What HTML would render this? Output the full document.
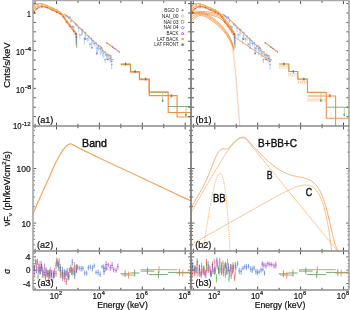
<!DOCTYPE html>
<html><head><meta charset="utf-8"><style>
html,body{margin:0;padding:0;background:#fff;}
svg{display:block;will-change:transform;}
text{font-family:"Liberation Sans", sans-serif;}
</style></head><body>
<svg width="350" height="310" viewBox="0 0 350 310">
<rect width="350" height="310" fill="#fff"/>
<g font-family="Liberation Sans, sans-serif" fill="#111">
<polyline points="33.50,5.40 33.90,5.17 34.47,4.84 35.18,4.49 36.00,4.20 36.96,3.93 38.06,3.67 39.26,3.49 40.50,3.50 41.82,3.75 43.22,4.17 44.64,4.69 46.00,5.20 47.29,5.69 48.53,6.22 49.76,6.76 51.00,7.30 52.30,7.85 53.62,8.43 54.89,8.98 56.00,9.50 56.88,9.93 57.60,10.30 58.27,10.70 59.00,11.20 59.82,11.81 60.68,12.49 61.55,13.28 62.40,14.20 63.23,15.32 64.05,16.61 64.87,17.94 65.70,19.20 66.54,20.36 67.39,21.48 68.25,22.59 69.10,23.70 69.94,24.81 70.77,25.91 71.61,27.03 72.50,28.20 73.53,29.55 74.66,31.03 75.69,32.37 76.40,33.30" fill="none" stroke="#a8c050" stroke-width="0.8" stroke-opacity="0.9"/>
<polyline points="33.50,6.24 33.90,5.98 34.47,5.60 35.18,5.20 36.00,4.85 36.96,4.53 38.06,4.20 39.26,3.97 40.50,3.92 41.82,4.12 43.22,4.50 44.64,4.98 46.00,5.46 47.29,5.95 48.53,6.47 49.76,7.02 51.00,7.56 52.30,8.12 53.62,8.70 54.89,9.26 56.00,9.78 56.88,10.20 57.60,10.57 58.27,10.96 59.00,11.45 59.82,12.05 60.68,12.71 61.55,13.48 62.40,14.39 63.23,15.51 64.05,16.79 64.87,18.13 65.70,19.39 66.54,20.55 67.39,21.67 68.25,22.78 69.10,23.89 69.94,25.00 70.77,26.10 71.61,27.22 72.50,28.39 73.53,29.75 74.66,31.23 75.69,32.57 76.40,33.50" fill="none" stroke="#f2b040" stroke-width="0.8" stroke-opacity="0.9"/>
<polyline points="33.50,9.25 33.90,8.87 34.47,8.32 35.18,7.72 36.00,7.17 36.96,6.65 38.06,6.10 39.26,5.66 40.50,5.42 41.82,5.45 43.22,5.68 44.64,6.02 46.00,6.41 47.29,6.85 48.53,7.38 49.76,7.95 51.00,8.51 52.30,9.08 53.62,9.67 54.89,10.24 56.00,10.77 56.88,11.18 57.60,11.53 58.27,11.89 59.00,12.36 59.82,12.90 60.68,13.50 61.55,14.21 62.40,15.08 63.23,16.18 64.05,17.47 64.87,18.81 65.70,20.08 66.54,21.24 67.39,22.36 68.25,23.47 69.10,24.58 69.94,25.69 70.77,26.79 71.61,27.91 72.50,29.08 73.53,30.44 74.66,31.94 75.69,33.29 76.40,34.23" fill="none" stroke="#f8a55e" stroke-width="0.8" stroke-opacity="0.85"/>
<polyline points="33.50,11.35 33.90,10.88 34.47,10.21 35.18,9.47 36.00,8.79 36.96,8.13 38.06,7.43 39.26,6.84 40.50,6.47 41.82,6.38 43.22,6.49 44.64,6.75 46.00,7.07 47.29,7.49 48.53,8.01 49.76,8.60 51.00,9.17 52.30,9.75 53.62,10.35 54.89,10.93 56.00,11.46 56.88,11.87 57.60,12.20 58.27,12.55 59.00,12.99 59.82,13.50 60.68,14.06 61.55,14.72 62.40,15.56 63.23,16.65 64.05,17.94 64.87,19.29 65.70,20.56 66.54,21.72 67.39,22.84 68.25,23.95 69.10,25.06 69.94,26.17 70.77,27.27 71.61,28.39 72.50,29.56 73.53,30.93 74.66,32.43 75.69,33.80 76.40,34.74" fill="none" stroke="#f27a3a" stroke-width="0.8" stroke-opacity="0.9"/>
<polyline points="33.50,12.40 33.90,11.89 34.47,11.16 35.18,10.35 36.00,9.60 36.96,8.86 38.06,8.10 39.26,7.43 40.50,7.00 41.82,6.85 43.22,6.90 44.64,7.11 46.00,7.40 47.29,7.80 48.53,8.33 49.76,8.92 51.00,9.50 52.30,10.08 53.62,10.69 54.89,11.28 56.00,11.80 56.88,12.21 57.60,12.54 58.27,12.87 59.00,13.30 59.82,13.80 60.68,14.33 61.55,14.98 62.40,15.80 63.23,16.89 64.05,18.18 64.87,19.53 65.70,20.80 66.54,21.96 67.39,23.08 68.25,24.19 69.10,25.30 69.94,26.41 70.77,27.51 71.61,28.63 72.50,29.80 73.53,31.17 74.66,32.68 75.69,34.05 76.40,35.00" fill="none" stroke="#ee5a30" stroke-width="0.8" stroke-opacity="0.9"/>
<circle cx="33.50" cy="7.23" r="0.8" fill="none" stroke="#f29a9a" stroke-width="0.5"/>
<circle cx="35.18" cy="6.40" r="0.8" fill="none" stroke="#f29a9a" stroke-width="0.5"/>
<circle cx="38.06" cy="5.11" r="0.8" fill="none" stroke="#f29a9a" stroke-width="0.5"/>
<circle cx="41.82" cy="4.66" r="0.8" fill="none" stroke="#f29a9a" stroke-width="0.5"/>
<circle cx="46.00" cy="5.63" r="0.8" fill="none" stroke="#f29a9a" stroke-width="0.5"/>
<circle cx="49.76" cy="7.64" r="0.8" fill="none" stroke="#f29a9a" stroke-width="0.5"/>
<circle cx="53.62" cy="9.35" r="0.8" fill="none" stroke="#f29a9a" stroke-width="0.5"/>
<circle cx="56.88" cy="10.62" r="0.8" fill="none" stroke="#f29a9a" stroke-width="0.5"/>
<circle cx="59.00" cy="11.83" r="0.8" fill="none" stroke="#f29a9a" stroke-width="0.5"/>
<circle cx="61.55" cy="13.58" r="0.8" fill="none" stroke="#f29a9a" stroke-width="0.5"/>
<circle cx="64.05" cy="16.68" r="0.8" fill="none" stroke="#f29a9a" stroke-width="0.5"/>
<circle cx="66.54" cy="20.74" r="0.8" fill="none" stroke="#f29a9a" stroke-width="0.5"/>
<circle cx="69.10" cy="24.25" r="0.8" fill="none" stroke="#f29a9a" stroke-width="0.5"/>
<circle cx="71.61" cy="27.17" r="0.8" fill="none" stroke="#f29a9a" stroke-width="0.5"/>
<circle cx="74.66" cy="31.76" r="0.8" fill="none" stroke="#f29a9a" stroke-width="0.5"/>
<circle cx="33.50" cy="10.09" r="0.8" fill="none" stroke="#f0a040" stroke-width="0.5"/>
<circle cx="35.18" cy="8.38" r="0.8" fill="none" stroke="#f0a040" stroke-width="0.5"/>
<circle cx="38.06" cy="6.40" r="0.8" fill="none" stroke="#f0a040" stroke-width="0.5"/>
<circle cx="41.82" cy="6.31" r="0.8" fill="none" stroke="#f0a040" stroke-width="0.5"/>
<circle cx="46.00" cy="6.93" r="0.8" fill="none" stroke="#f0a040" stroke-width="0.5"/>
<circle cx="49.76" cy="8.57" r="0.8" fill="none" stroke="#f0a040" stroke-width="0.5"/>
<circle cx="53.62" cy="10.10" r="0.8" fill="none" stroke="#f0a040" stroke-width="0.5"/>
<circle cx="56.88" cy="11.15" r="0.8" fill="none" stroke="#f0a040" stroke-width="0.5"/>
<circle cx="59.00" cy="12.53" r="0.8" fill="none" stroke="#f0a040" stroke-width="0.5"/>
<circle cx="61.55" cy="14.46" r="0.8" fill="none" stroke="#f0a040" stroke-width="0.5"/>
<circle cx="64.05" cy="17.40" r="0.8" fill="none" stroke="#f0a040" stroke-width="0.5"/>
<circle cx="66.54" cy="21.84" r="0.8" fill="none" stroke="#f0a040" stroke-width="0.5"/>
<circle cx="69.10" cy="24.71" r="0.8" fill="none" stroke="#f0a040" stroke-width="0.5"/>
<circle cx="71.61" cy="27.87" r="0.8" fill="none" stroke="#f0a040" stroke-width="0.5"/>
<circle cx="74.66" cy="32.44" r="0.8" fill="none" stroke="#f0a040" stroke-width="0.5"/>
<circle cx="33.90" cy="5.17" r="0.7" fill="#f2b040"/>
<circle cx="36.96" cy="3.93" r="0.7" fill="#f2b040"/>
<circle cx="41.82" cy="3.75" r="0.7" fill="#f2b040"/>
<circle cx="47.29" cy="5.69" r="0.7" fill="#f2b040"/>
<circle cx="52.30" cy="7.85" r="0.7" fill="#f2b040"/>
<circle cx="56.88" cy="9.93" r="0.7" fill="#f2b040"/>
<circle cx="59.82" cy="11.81" r="0.7" fill="#f2b040"/>
<circle cx="63.23" cy="15.32" r="0.7" fill="#f2b040"/>
<circle cx="66.54" cy="20.36" r="0.7" fill="#f2b040"/>
<circle cx="69.94" cy="24.81" r="0.7" fill="#f2b040"/>
<circle cx="73.53" cy="29.55" r="0.7" fill="#f2b040"/>
<circle cx="33.90" cy="11.89" r="0.7" fill="#e8452c"/>
<circle cx="36.96" cy="8.86" r="0.7" fill="#e8452c"/>
<circle cx="41.82" cy="6.85" r="0.7" fill="#e8452c"/>
<circle cx="47.29" cy="7.80" r="0.7" fill="#e8452c"/>
<circle cx="52.30" cy="10.08" r="0.7" fill="#e8452c"/>
<circle cx="56.88" cy="12.21" r="0.7" fill="#e8452c"/>
<circle cx="59.82" cy="13.80" r="0.7" fill="#e8452c"/>
<circle cx="63.23" cy="16.89" r="0.7" fill="#e8452c"/>
<circle cx="66.54" cy="21.96" r="0.7" fill="#e8452c"/>
<circle cx="69.94" cy="26.41" r="0.7" fill="#e8452c"/>
<circle cx="73.53" cy="31.17" r="0.7" fill="#e8452c"/>
<circle cx="33.9" cy="12.4" r="1.2" fill="#e8452c"/>
<line x1="76.70" y1="33.50" x2="76.70" y2="47.70" stroke="#7cb342" stroke-width="1.0"/>
<line x1="76.10" y1="33.50" x2="76.10" y2="44.50" stroke="#7a86dc" stroke-width="0.9"/>
<circle cx="76.3" cy="37.2" r="0.9" fill="#4f7fd4"/>
<circle cx="75.8" cy="34" r="1.1" fill="#e8452c"/>
<polyline points="63.50,13.90 66.50,15.60 69.70,17.90 79.30,27.40 89.00,37.10 97.00,44.50 99.00,45.90 100.20,45.90 100.20,48.40 102.00,48.40 102.00,50.50 104.50,51.80 105.80,51.80 105.80,55.30 110.60,55.30 110.60,59.60 113.70,59.60" fill="none" stroke="#f8a55e" stroke-width="1.2"/>
<line x1="66.00" y1="14.27" x2="66.00" y2="17.86" stroke="#aac4ec" stroke-width="0.8"/>
<line x1="65.10" y1="15.47" x2="66.90" y2="15.47" stroke="#9ab8e8" stroke-width="0.7"/>
<circle cx="66.00" cy="15.47" r="0.55" fill="#6f98dc"/>
<line x1="67.37" y1="15.35" x2="67.37" y2="17.83" stroke="#aac4ec" stroke-width="0.8"/>
<line x1="66.47" y1="16.55" x2="68.27" y2="16.55" stroke="#9ab8e8" stroke-width="0.7"/>
<circle cx="67.37" cy="16.55" r="0.55" fill="#6f98dc"/>
<line x1="68.78" y1="16.73" x2="68.78" y2="19.07" stroke="#aac4ec" stroke-width="0.8"/>
<line x1="67.88" y1="17.93" x2="69.68" y2="17.93" stroke="#9ab8e8" stroke-width="0.7"/>
<circle cx="68.78" cy="17.93" r="0.55" fill="#6f98dc"/>
<line x1="70.02" y1="16.09" x2="70.02" y2="19.33" stroke="#aac4ec" stroke-width="0.8"/>
<line x1="69.12" y1="17.29" x2="70.92" y2="17.29" stroke="#9ab8e8" stroke-width="0.7"/>
<circle cx="70.02" cy="17.29" r="0.55" fill="#6f98dc"/>
<line x1="71.06" y1="19.79" x2="71.06" y2="22.97" stroke="#aac4ec" stroke-width="0.8"/>
<line x1="70.16" y1="20.99" x2="71.96" y2="20.99" stroke="#9ab8e8" stroke-width="0.7"/>
<circle cx="71.06" cy="20.99" r="0.55" fill="#6f98dc"/>
<line x1="72.55" y1="25.16" x2="72.55" y2="27.45" stroke="#aac4ec" stroke-width="0.8"/>
<line x1="71.65" y1="26.36" x2="73.45" y2="26.36" stroke="#9ab8e8" stroke-width="0.7"/>
<circle cx="72.55" cy="26.36" r="0.55" fill="#6f98dc"/>
<line x1="73.70" y1="25.98" x2="73.70" y2="28.84" stroke="#aac4ec" stroke-width="0.8"/>
<line x1="72.80" y1="27.18" x2="74.60" y2="27.18" stroke="#9ab8e8" stroke-width="0.7"/>
<circle cx="73.70" cy="27.18" r="0.55" fill="#6f98dc"/>
<line x1="75.38" y1="22.68" x2="75.38" y2="25.62" stroke="#aac4ec" stroke-width="0.8"/>
<line x1="74.48" y1="23.88" x2="76.28" y2="23.88" stroke="#9ab8e8" stroke-width="0.7"/>
<circle cx="75.38" cy="23.88" r="0.55" fill="#6f98dc"/>
<line x1="76.91" y1="24.00" x2="76.91" y2="27.70" stroke="#aac4ec" stroke-width="0.8"/>
<line x1="76.01" y1="25.20" x2="77.81" y2="25.20" stroke="#9ab8e8" stroke-width="0.7"/>
<circle cx="76.91" cy="25.20" r="0.55" fill="#6f98dc"/>
<line x1="78.70" y1="26.93" x2="78.70" y2="32.05" stroke="#aac4ec" stroke-width="0.8"/>
<line x1="77.80" y1="28.13" x2="79.60" y2="28.13" stroke="#9ab8e8" stroke-width="0.7"/>
<circle cx="78.70" cy="28.13" r="0.55" fill="#6f98dc"/>
<line x1="79.89" y1="33.62" x2="79.89" y2="39.12" stroke="#aac4ec" stroke-width="0.8"/>
<line x1="78.99" y1="34.82" x2="80.79" y2="34.82" stroke="#9ab8e8" stroke-width="0.7"/>
<circle cx="79.89" cy="34.82" r="0.55" fill="#6f98dc"/>
<line x1="81.56" y1="28.42" x2="81.56" y2="35.94" stroke="#aac4ec" stroke-width="0.8"/>
<line x1="80.66" y1="29.62" x2="82.46" y2="29.62" stroke="#9ab8e8" stroke-width="0.7"/>
<circle cx="81.56" cy="29.62" r="0.55" fill="#6f98dc"/>
<line x1="82.56" y1="28.89" x2="82.56" y2="34.71" stroke="#aac4ec" stroke-width="0.8"/>
<line x1="81.66" y1="30.09" x2="83.46" y2="30.09" stroke="#9ab8e8" stroke-width="0.7"/>
<circle cx="82.56" cy="30.09" r="0.55" fill="#6f98dc"/>
<line x1="84.35" y1="37.40" x2="84.35" y2="44.60" stroke="#aac4ec" stroke-width="0.8"/>
<line x1="83.45" y1="38.60" x2="85.25" y2="38.60" stroke="#9ab8e8" stroke-width="0.7"/>
<circle cx="84.35" cy="38.60" r="0.55" fill="#6f98dc"/>
<line x1="85.56" y1="31.53" x2="85.56" y2="39.56" stroke="#aac4ec" stroke-width="0.8"/>
<line x1="84.66" y1="32.73" x2="86.46" y2="32.73" stroke="#9ab8e8" stroke-width="0.7"/>
<circle cx="85.56" cy="32.73" r="0.55" fill="#6f98dc"/>
<line x1="87.17" y1="37.58" x2="87.17" y2="41.55" stroke="#aac4ec" stroke-width="0.8"/>
<line x1="86.27" y1="38.78" x2="88.07" y2="38.78" stroke="#9ab8e8" stroke-width="0.7"/>
<circle cx="87.17" cy="38.78" r="0.55" fill="#6f98dc"/>
<line x1="88.81" y1="35.04" x2="88.81" y2="40.76" stroke="#aac4ec" stroke-width="0.8"/>
<line x1="87.91" y1="36.24" x2="89.71" y2="36.24" stroke="#9ab8e8" stroke-width="0.7"/>
<circle cx="88.81" cy="36.24" r="0.55" fill="#6f98dc"/>
<line x1="89.96" y1="43.01" x2="89.96" y2="47.23" stroke="#aac4ec" stroke-width="0.8"/>
<line x1="89.06" y1="44.21" x2="90.86" y2="44.21" stroke="#9ab8e8" stroke-width="0.7"/>
<circle cx="89.96" cy="44.21" r="0.55" fill="#6f98dc"/>
<line x1="91.30" y1="37.46" x2="91.30" y2="45.53" stroke="#aac4ec" stroke-width="0.8"/>
<line x1="90.40" y1="38.66" x2="92.20" y2="38.66" stroke="#9ab8e8" stroke-width="0.7"/>
<circle cx="91.30" cy="38.66" r="0.55" fill="#6f98dc"/>
<line x1="92.94" y1="39.26" x2="92.94" y2="43.91" stroke="#aac4ec" stroke-width="0.8"/>
<line x1="92.04" y1="40.46" x2="93.84" y2="40.46" stroke="#9ab8e8" stroke-width="0.7"/>
<circle cx="92.94" cy="40.46" r="0.55" fill="#6f98dc"/>
<line x1="94.26" y1="42.13" x2="94.26" y2="46.28" stroke="#aac4ec" stroke-width="0.8"/>
<line x1="93.36" y1="43.33" x2="95.16" y2="43.33" stroke="#9ab8e8" stroke-width="0.7"/>
<circle cx="94.26" cy="43.33" r="0.55" fill="#6f98dc"/>
<line x1="96.05" y1="41.86" x2="96.05" y2="49.04" stroke="#aac4ec" stroke-width="0.8"/>
<line x1="95.15" y1="43.06" x2="96.95" y2="43.06" stroke="#9ab8e8" stroke-width="0.7"/>
<circle cx="96.05" cy="43.06" r="0.55" fill="#6f98dc"/>
<line x1="97.31" y1="46.97" x2="97.31" y2="53.29" stroke="#aac4ec" stroke-width="0.8"/>
<line x1="96.41" y1="48.17" x2="98.21" y2="48.17" stroke="#9ab8e8" stroke-width="0.7"/>
<circle cx="97.31" cy="48.17" r="0.55" fill="#6f98dc"/>
<line x1="98.51" y1="44.96" x2="98.51" y2="50.70" stroke="#aac4ec" stroke-width="0.8"/>
<line x1="97.61" y1="46.16" x2="99.41" y2="46.16" stroke="#9ab8e8" stroke-width="0.7"/>
<circle cx="98.51" cy="46.16" r="0.55" fill="#6f98dc"/>
<line x1="100.27" y1="47.45" x2="100.27" y2="55.05" stroke="#aac4ec" stroke-width="0.8"/>
<line x1="99.37" y1="48.65" x2="101.17" y2="48.65" stroke="#9ab8e8" stroke-width="0.7"/>
<circle cx="100.27" cy="48.65" r="0.55" fill="#6f98dc"/>
<line x1="101.42" y1="46.46" x2="101.42" y2="53.84" stroke="#aac4ec" stroke-width="0.8"/>
<line x1="100.52" y1="47.66" x2="102.32" y2="47.66" stroke="#9ab8e8" stroke-width="0.7"/>
<circle cx="101.42" cy="47.66" r="0.55" fill="#6f98dc"/>
<line x1="102.62" y1="48.99" x2="102.62" y2="56.92" stroke="#aac4ec" stroke-width="0.8"/>
<line x1="101.72" y1="50.19" x2="103.52" y2="50.19" stroke="#9ab8e8" stroke-width="0.7"/>
<circle cx="102.62" cy="50.19" r="0.55" fill="#6f98dc"/>
<line x1="103.78" y1="51.87" x2="103.78" y2="58.29" stroke="#aac4ec" stroke-width="0.8"/>
<line x1="102.88" y1="53.07" x2="104.68" y2="53.07" stroke="#9ab8e8" stroke-width="0.7"/>
<circle cx="103.78" cy="53.07" r="0.55" fill="#6f98dc"/>
<line x1="105.11" y1="58.41" x2="105.11" y2="63.19" stroke="#aac4ec" stroke-width="0.8"/>
<line x1="104.21" y1="59.61" x2="106.01" y2="59.61" stroke="#9ab8e8" stroke-width="0.7"/>
<circle cx="105.11" cy="59.61" r="0.55" fill="#6f98dc"/>
<line x1="106.68" y1="53.67" x2="106.68" y2="60.06" stroke="#aac4ec" stroke-width="0.8"/>
<line x1="105.78" y1="54.87" x2="107.58" y2="54.87" stroke="#9ab8e8" stroke-width="0.7"/>
<circle cx="106.68" cy="54.87" r="0.55" fill="#6f98dc"/>
<line x1="107.91" y1="53.43" x2="107.91" y2="57.44" stroke="#aac4ec" stroke-width="0.8"/>
<line x1="107.01" y1="54.63" x2="108.81" y2="54.63" stroke="#9ab8e8" stroke-width="0.7"/>
<circle cx="107.91" cy="54.63" r="0.55" fill="#6f98dc"/>
<line x1="109.09" y1="54.58" x2="109.09" y2="61.04" stroke="#aac4ec" stroke-width="0.8"/>
<line x1="108.19" y1="55.78" x2="109.99" y2="55.78" stroke="#9ab8e8" stroke-width="0.7"/>
<circle cx="109.09" cy="55.78" r="0.55" fill="#6f98dc"/>
<line x1="110.32" y1="57.18" x2="110.32" y2="62.09" stroke="#aac4ec" stroke-width="0.8"/>
<line x1="109.42" y1="58.38" x2="111.22" y2="58.38" stroke="#9ab8e8" stroke-width="0.7"/>
<circle cx="110.32" cy="58.38" r="0.55" fill="#6f98dc"/>
<line x1="111.67" y1="63.24" x2="111.67" y2="69.52" stroke="#aac4ec" stroke-width="0.8"/>
<line x1="110.77" y1="64.44" x2="112.57" y2="64.44" stroke="#9ab8e8" stroke-width="0.7"/>
<circle cx="111.67" cy="64.44" r="0.55" fill="#6f98dc"/>
<circle cx="85.10" cy="39.00" r="0.9" fill="#4f7fd4"/>
<line x1="85.10" y1="33.00" x2="85.10" y2="39.00" stroke="#a9c3ec" stroke-width="0.8"/>
<circle cx="91.90" cy="47.70" r="0.9" fill="#4f7fd4"/>
<line x1="91.90" y1="41.70" x2="91.90" y2="47.70" stroke="#a9c3ec" stroke-width="0.8"/>
<circle cx="96.80" cy="53.50" r="0.9" fill="#4f7fd4"/>
<line x1="96.80" y1="47.50" x2="96.80" y2="53.50" stroke="#a9c3ec" stroke-width="0.8"/>
<circle cx="107.80" cy="59.30" r="0.9" fill="#4f7fd4"/>
<line x1="107.80" y1="53.30" x2="107.80" y2="59.30" stroke="#a9c3ec" stroke-width="0.8"/>
<circle cx="111.60" cy="61.40" r="0.9" fill="#4f7fd4"/>
<line x1="111.60" y1="55.40" x2="111.60" y2="61.40" stroke="#a9c3ec" stroke-width="0.8"/>
<polyline points="106.40,42.40 112.00,46.50 119.70,52.20" fill="none" stroke="#f8a55e" stroke-width="1.3"/>
<circle cx="106.80" cy="42.89" r="0.6" fill="#a64cc8"/>
<circle cx="112.60" cy="47.13" r="0.6" fill="#a64cc8"/>
<circle cx="114.60" cy="48.59" r="0.6" fill="#a64cc8"/>
<circle cx="119.30" cy="52.02" r="0.6" fill="#a64cc8"/>
<polyline points="120.80,64.60 130.50,64.60 130.50,72.10 139.50,72.10 139.50,79.70 149.20,79.70 149.20,95.70 177.10,95.70 177.10,117.00 191.00,117.00" fill="none" stroke="#f39247" stroke-width="1.2"/>
<polyline points="120.80,64.00 130.50,64.00 130.50,71.50 139.50,71.50 139.50,79.10 149.20,79.10 149.20,92.10 168.20,92.10 168.20,112.50 191.00,112.50" fill="none" stroke="#f39247" stroke-width="1.2"/>
<polyline points="120.80,64.00 130.50,64.00 130.50,71.50 139.50,71.50 139.50,79.10 149.20,79.10" fill="none" stroke="#8fae58" stroke-width="0.6" stroke-opacity="0.8"/>
<polyline points="168.20,106.50 191.00,106.50" fill="none" stroke="#6aa86a" stroke-width="0.85"/>
<line x1="149.20" y1="92.10" x2="168.20" y2="92.10" stroke="#b59a4a" stroke-width="0.8"/>
<rect x="124.80" y="63.30" width="1.4" height="1.4" fill="#3a8a45"/>
<line x1="125.50" y1="62.40" x2="125.50" y2="65.60" stroke="#3a8a45" stroke-width="0.7"/>
<rect x="134.30" y="70.80" width="1.4" height="1.4" fill="#3a8a45"/>
<line x1="135.00" y1="69.90" x2="135.00" y2="73.10" stroke="#3a8a45" stroke-width="0.7"/>
<rect x="144.90" y="78.40" width="1.4" height="1.4" fill="#3a8a45"/>
<line x1="145.60" y1="77.50" x2="145.60" y2="80.70" stroke="#3a8a45" stroke-width="0.7"/>
<rect x="161.90" y="99.90" width="1.4" height="1.4" fill="#3a8a45"/>
<line x1="162.60" y1="99.00" x2="162.60" y2="102.20" stroke="#3a8a45" stroke-width="0.7"/>
<rect x="185.30" y="114.00" width="1.4" height="1.4" fill="#3a8a45"/>
<line x1="186.00" y1="113.10" x2="186.00" y2="116.30" stroke="#3a8a45" stroke-width="0.7"/>
<path d="M170.50,94.70l2,2M172.50,94.70l-2,2" stroke="#e0602a" stroke-width="0.8"/>
<line x1="162.60" y1="92.50" x2="162.60" y2="100.60" stroke="#9fc89f" stroke-width="0.8"/>
<line x1="171.50" y1="94.00" x2="171.50" y2="97.50" stroke="#e0602a" stroke-width="0.7"/>
<line x1="186.00" y1="107.00" x2="186.00" y2="115.00" stroke="#9fc89f" stroke-width="0.8"/>
<line x1="33.80" y1="264.52" x2="33.80" y2="270.90" stroke="#e04848" stroke-width="0.8" stroke-opacity="0.9"/>
<line x1="33.20" y1="267.71" x2="34.40" y2="267.71" stroke="#e04848" stroke-width="0.8" stroke-opacity="0.9"/>
<line x1="35.96" y1="259.78" x2="35.96" y2="266.98" stroke="#e04848" stroke-width="0.8" stroke-opacity="0.9"/>
<line x1="35.36" y1="263.38" x2="36.56" y2="263.38" stroke="#e04848" stroke-width="0.8" stroke-opacity="0.9"/>
<line x1="37.54" y1="258.83" x2="37.54" y2="264.86" stroke="#e04848" stroke-width="0.8" stroke-opacity="0.9"/>
<line x1="36.94" y1="261.85" x2="38.14" y2="261.85" stroke="#e04848" stroke-width="0.8" stroke-opacity="0.9"/>
<line x1="39.29" y1="264.19" x2="39.29" y2="272.58" stroke="#e04848" stroke-width="0.8" stroke-opacity="0.9"/>
<line x1="38.69" y1="268.38" x2="39.89" y2="268.38" stroke="#e04848" stroke-width="0.8" stroke-opacity="0.9"/>
<line x1="41.31" y1="264.38" x2="41.31" y2="271.63" stroke="#e04848" stroke-width="0.8" stroke-opacity="0.9"/>
<line x1="40.71" y1="268.01" x2="41.91" y2="268.01" stroke="#e04848" stroke-width="0.8" stroke-opacity="0.9"/>
<line x1="42.98" y1="270.56" x2="42.98" y2="277.79" stroke="#e04848" stroke-width="0.8" stroke-opacity="0.9"/>
<line x1="42.38" y1="274.18" x2="43.58" y2="274.18" stroke="#e04848" stroke-width="0.8" stroke-opacity="0.9"/>
<line x1="45.43" y1="273.87" x2="45.43" y2="281.22" stroke="#e04848" stroke-width="0.8" stroke-opacity="0.9"/>
<line x1="44.83" y1="277.55" x2="46.03" y2="277.55" stroke="#e04848" stroke-width="0.8" stroke-opacity="0.9"/>
<line x1="47.00" y1="269.76" x2="47.00" y2="277.39" stroke="#e04848" stroke-width="0.8" stroke-opacity="0.9"/>
<line x1="46.40" y1="273.58" x2="47.60" y2="273.58" stroke="#e04848" stroke-width="0.8" stroke-opacity="0.9"/>
<line x1="49.15" y1="269.86" x2="49.15" y2="277.83" stroke="#e04848" stroke-width="0.8" stroke-opacity="0.9"/>
<line x1="48.55" y1="273.85" x2="49.75" y2="273.85" stroke="#e04848" stroke-width="0.8" stroke-opacity="0.9"/>
<line x1="51.17" y1="269.71" x2="51.17" y2="277.21" stroke="#e04848" stroke-width="0.8" stroke-opacity="0.9"/>
<line x1="50.57" y1="273.46" x2="51.77" y2="273.46" stroke="#e04848" stroke-width="0.8" stroke-opacity="0.9"/>
<line x1="53.64" y1="271.45" x2="53.64" y2="277.91" stroke="#e04848" stroke-width="0.8" stroke-opacity="0.9"/>
<line x1="53.04" y1="274.68" x2="54.24" y2="274.68" stroke="#e04848" stroke-width="0.8" stroke-opacity="0.9"/>
<line x1="56.02" y1="270.13" x2="56.02" y2="276.75" stroke="#e04848" stroke-width="0.8" stroke-opacity="0.9"/>
<line x1="55.42" y1="273.44" x2="56.62" y2="273.44" stroke="#e04848" stroke-width="0.8" stroke-opacity="0.9"/>
<line x1="58.55" y1="261.40" x2="58.55" y2="267.04" stroke="#e04848" stroke-width="0.8" stroke-opacity="0.9"/>
<line x1="57.95" y1="264.22" x2="59.15" y2="264.22" stroke="#e04848" stroke-width="0.8" stroke-opacity="0.9"/>
<line x1="60.29" y1="265.97" x2="60.29" y2="274.26" stroke="#e04848" stroke-width="0.8" stroke-opacity="0.9"/>
<line x1="59.69" y1="270.12" x2="60.89" y2="270.12" stroke="#e04848" stroke-width="0.8" stroke-opacity="0.9"/>
<line x1="62.27" y1="271.39" x2="62.27" y2="278.21" stroke="#e04848" stroke-width="0.8" stroke-opacity="0.9"/>
<line x1="61.67" y1="274.80" x2="62.87" y2="274.80" stroke="#e04848" stroke-width="0.8" stroke-opacity="0.9"/>
<line x1="64.19" y1="273.58" x2="64.19" y2="279.90" stroke="#e04848" stroke-width="0.8" stroke-opacity="0.9"/>
<line x1="63.59" y1="276.74" x2="64.79" y2="276.74" stroke="#e04848" stroke-width="0.8" stroke-opacity="0.9"/>
<line x1="66.34" y1="277.69" x2="66.34" y2="285.07" stroke="#e04848" stroke-width="0.8" stroke-opacity="0.9"/>
<line x1="65.74" y1="281.38" x2="66.94" y2="281.38" stroke="#e04848" stroke-width="0.8" stroke-opacity="0.9"/>
<line x1="68.86" y1="272.03" x2="68.86" y2="279.97" stroke="#e04848" stroke-width="0.8" stroke-opacity="0.9"/>
<line x1="68.26" y1="276.00" x2="69.46" y2="276.00" stroke="#e04848" stroke-width="0.8" stroke-opacity="0.9"/>
<line x1="71.45" y1="266.99" x2="71.45" y2="274.94" stroke="#e04848" stroke-width="0.8" stroke-opacity="0.9"/>
<line x1="70.85" y1="270.97" x2="72.05" y2="270.97" stroke="#e04848" stroke-width="0.8" stroke-opacity="0.9"/>
<line x1="74.01" y1="266.34" x2="74.01" y2="274.44" stroke="#e04848" stroke-width="0.8" stroke-opacity="0.9"/>
<line x1="73.41" y1="270.39" x2="74.61" y2="270.39" stroke="#e04848" stroke-width="0.8" stroke-opacity="0.9"/>
<line x1="76.14" y1="265.36" x2="76.14" y2="273.22" stroke="#e04848" stroke-width="0.8" stroke-opacity="0.9"/>
<line x1="75.54" y1="269.29" x2="76.74" y2="269.29" stroke="#e04848" stroke-width="0.8" stroke-opacity="0.9"/>
<line x1="34.10" y1="267.14" x2="34.10" y2="273.25" stroke="#4cb040" stroke-width="0.8" stroke-opacity="0.9"/>
<line x1="33.50" y1="270.19" x2="34.70" y2="270.19" stroke="#4cb040" stroke-width="0.8" stroke-opacity="0.9"/>
<line x1="35.67" y1="258.74" x2="35.67" y2="264.22" stroke="#4cb040" stroke-width="0.8" stroke-opacity="0.9"/>
<line x1="35.07" y1="261.48" x2="36.27" y2="261.48" stroke="#4cb040" stroke-width="0.8" stroke-opacity="0.9"/>
<line x1="38.05" y1="273.14" x2="38.05" y2="279.66" stroke="#4cb040" stroke-width="0.8" stroke-opacity="0.9"/>
<line x1="37.45" y1="276.40" x2="38.65" y2="276.40" stroke="#4cb040" stroke-width="0.8" stroke-opacity="0.9"/>
<line x1="39.72" y1="266.64" x2="39.72" y2="274.63" stroke="#4cb040" stroke-width="0.8" stroke-opacity="0.9"/>
<line x1="39.12" y1="270.63" x2="40.32" y2="270.63" stroke="#4cb040" stroke-width="0.8" stroke-opacity="0.9"/>
<line x1="41.26" y1="260.87" x2="41.26" y2="268.04" stroke="#4cb040" stroke-width="0.8" stroke-opacity="0.9"/>
<line x1="40.66" y1="264.45" x2="41.86" y2="264.45" stroke="#4cb040" stroke-width="0.8" stroke-opacity="0.9"/>
<line x1="42.81" y1="267.42" x2="42.81" y2="275.44" stroke="#4cb040" stroke-width="0.8" stroke-opacity="0.9"/>
<line x1="42.21" y1="271.43" x2="43.41" y2="271.43" stroke="#4cb040" stroke-width="0.8" stroke-opacity="0.9"/>
<line x1="45.39" y1="271.63" x2="45.39" y2="278.45" stroke="#4cb040" stroke-width="0.8" stroke-opacity="0.9"/>
<line x1="44.79" y1="275.04" x2="45.99" y2="275.04" stroke="#4cb040" stroke-width="0.8" stroke-opacity="0.9"/>
<line x1="47.99" y1="270.12" x2="47.99" y2="277.24" stroke="#4cb040" stroke-width="0.8" stroke-opacity="0.9"/>
<line x1="47.39" y1="273.68" x2="48.59" y2="273.68" stroke="#4cb040" stroke-width="0.8" stroke-opacity="0.9"/>
<line x1="49.53" y1="269.55" x2="49.53" y2="275.38" stroke="#4cb040" stroke-width="0.8" stroke-opacity="0.9"/>
<line x1="48.93" y1="272.46" x2="50.13" y2="272.46" stroke="#4cb040" stroke-width="0.8" stroke-opacity="0.9"/>
<line x1="51.47" y1="273.18" x2="51.47" y2="278.51" stroke="#4cb040" stroke-width="0.8" stroke-opacity="0.9"/>
<line x1="50.87" y1="275.85" x2="52.07" y2="275.85" stroke="#4cb040" stroke-width="0.8" stroke-opacity="0.9"/>
<line x1="53.93" y1="270.87" x2="53.93" y2="277.07" stroke="#4cb040" stroke-width="0.8" stroke-opacity="0.9"/>
<line x1="53.33" y1="273.97" x2="54.53" y2="273.97" stroke="#4cb040" stroke-width="0.8" stroke-opacity="0.9"/>
<line x1="56.48" y1="258.35" x2="56.48" y2="265.02" stroke="#4cb040" stroke-width="0.8" stroke-opacity="0.9"/>
<line x1="55.88" y1="261.69" x2="57.08" y2="261.69" stroke="#4cb040" stroke-width="0.8" stroke-opacity="0.9"/>
<line x1="58.56" y1="263.66" x2="58.56" y2="270.92" stroke="#4cb040" stroke-width="0.8" stroke-opacity="0.9"/>
<line x1="57.96" y1="267.29" x2="59.16" y2="267.29" stroke="#4cb040" stroke-width="0.8" stroke-opacity="0.9"/>
<line x1="60.71" y1="270.14" x2="60.71" y2="278.35" stroke="#4cb040" stroke-width="0.8" stroke-opacity="0.9"/>
<line x1="60.11" y1="274.24" x2="61.31" y2="274.24" stroke="#4cb040" stroke-width="0.8" stroke-opacity="0.9"/>
<line x1="62.77" y1="272.16" x2="62.77" y2="278.74" stroke="#4cb040" stroke-width="0.8" stroke-opacity="0.9"/>
<line x1="62.17" y1="275.45" x2="63.37" y2="275.45" stroke="#4cb040" stroke-width="0.8" stroke-opacity="0.9"/>
<line x1="65.06" y1="270.73" x2="65.06" y2="279.06" stroke="#4cb040" stroke-width="0.8" stroke-opacity="0.9"/>
<line x1="64.46" y1="274.89" x2="65.66" y2="274.89" stroke="#4cb040" stroke-width="0.8" stroke-opacity="0.9"/>
<line x1="67.13" y1="267.98" x2="67.13" y2="274.94" stroke="#4cb040" stroke-width="0.8" stroke-opacity="0.9"/>
<line x1="66.53" y1="271.46" x2="67.73" y2="271.46" stroke="#4cb040" stroke-width="0.8" stroke-opacity="0.9"/>
<line x1="68.65" y1="273.74" x2="68.65" y2="279.00" stroke="#4cb040" stroke-width="0.8" stroke-opacity="0.9"/>
<line x1="68.05" y1="276.37" x2="69.25" y2="276.37" stroke="#4cb040" stroke-width="0.8" stroke-opacity="0.9"/>
<line x1="70.82" y1="264.74" x2="70.82" y2="271.96" stroke="#4cb040" stroke-width="0.8" stroke-opacity="0.9"/>
<line x1="70.22" y1="268.35" x2="71.42" y2="268.35" stroke="#4cb040" stroke-width="0.8" stroke-opacity="0.9"/>
<line x1="72.39" y1="268.27" x2="72.39" y2="275.65" stroke="#4cb040" stroke-width="0.8" stroke-opacity="0.9"/>
<line x1="71.79" y1="271.96" x2="72.99" y2="271.96" stroke="#4cb040" stroke-width="0.8" stroke-opacity="0.9"/>
<line x1="74.28" y1="267.47" x2="74.28" y2="274.93" stroke="#4cb040" stroke-width="0.8" stroke-opacity="0.9"/>
<line x1="73.68" y1="271.20" x2="74.88" y2="271.20" stroke="#4cb040" stroke-width="0.8" stroke-opacity="0.9"/>
<line x1="76.59" y1="264.15" x2="76.59" y2="271.51" stroke="#4cb040" stroke-width="0.8" stroke-opacity="0.9"/>
<line x1="75.99" y1="267.83" x2="77.19" y2="267.83" stroke="#4cb040" stroke-width="0.8" stroke-opacity="0.9"/>
<line x1="34.40" y1="264.73" x2="34.40" y2="270.73" stroke="#4a68d4" stroke-width="0.8" stroke-opacity="0.9"/>
<line x1="33.80" y1="267.73" x2="35.00" y2="267.73" stroke="#4a68d4" stroke-width="0.8" stroke-opacity="0.9"/>
<line x1="36.40" y1="266.96" x2="36.40" y2="273.33" stroke="#4a68d4" stroke-width="0.8" stroke-opacity="0.9"/>
<line x1="35.80" y1="270.15" x2="37.00" y2="270.15" stroke="#4a68d4" stroke-width="0.8" stroke-opacity="0.9"/>
<line x1="38.25" y1="266.89" x2="38.25" y2="273.27" stroke="#4a68d4" stroke-width="0.8" stroke-opacity="0.9"/>
<line x1="37.65" y1="270.08" x2="38.85" y2="270.08" stroke="#4a68d4" stroke-width="0.8" stroke-opacity="0.9"/>
<line x1="40.40" y1="266.61" x2="40.40" y2="274.28" stroke="#4a68d4" stroke-width="0.8" stroke-opacity="0.9"/>
<line x1="39.80" y1="270.44" x2="41.00" y2="270.44" stroke="#4a68d4" stroke-width="0.8" stroke-opacity="0.9"/>
<line x1="41.93" y1="263.74" x2="41.93" y2="270.76" stroke="#4a68d4" stroke-width="0.8" stroke-opacity="0.9"/>
<line x1="41.33" y1="267.25" x2="42.53" y2="267.25" stroke="#4a68d4" stroke-width="0.8" stroke-opacity="0.9"/>
<line x1="44.24" y1="268.62" x2="44.24" y2="276.39" stroke="#4a68d4" stroke-width="0.8" stroke-opacity="0.9"/>
<line x1="43.64" y1="272.50" x2="44.84" y2="272.50" stroke="#4a68d4" stroke-width="0.8" stroke-opacity="0.9"/>
<line x1="46.00" y1="267.27" x2="46.00" y2="273.07" stroke="#4a68d4" stroke-width="0.8" stroke-opacity="0.9"/>
<line x1="45.40" y1="270.17" x2="46.60" y2="270.17" stroke="#4a68d4" stroke-width="0.8" stroke-opacity="0.9"/>
<line x1="47.98" y1="270.57" x2="47.98" y2="276.80" stroke="#4a68d4" stroke-width="0.8" stroke-opacity="0.9"/>
<line x1="47.38" y1="273.68" x2="48.58" y2="273.68" stroke="#4a68d4" stroke-width="0.8" stroke-opacity="0.9"/>
<line x1="49.85" y1="271.34" x2="49.85" y2="279.21" stroke="#4a68d4" stroke-width="0.8" stroke-opacity="0.9"/>
<line x1="49.25" y1="275.27" x2="50.45" y2="275.27" stroke="#4a68d4" stroke-width="0.8" stroke-opacity="0.9"/>
<line x1="51.83" y1="270.09" x2="51.83" y2="276.36" stroke="#4a68d4" stroke-width="0.8" stroke-opacity="0.9"/>
<line x1="51.23" y1="273.22" x2="52.43" y2="273.22" stroke="#4a68d4" stroke-width="0.8" stroke-opacity="0.9"/>
<line x1="54.05" y1="270.20" x2="54.05" y2="278.24" stroke="#4a68d4" stroke-width="0.8" stroke-opacity="0.9"/>
<line x1="53.45" y1="274.22" x2="54.65" y2="274.22" stroke="#4a68d4" stroke-width="0.8" stroke-opacity="0.9"/>
<line x1="56.04" y1="262.33" x2="56.04" y2="269.22" stroke="#4a68d4" stroke-width="0.8" stroke-opacity="0.9"/>
<line x1="55.44" y1="265.77" x2="56.64" y2="265.77" stroke="#4a68d4" stroke-width="0.8" stroke-opacity="0.9"/>
<line x1="57.75" y1="259.27" x2="57.75" y2="267.05" stroke="#4a68d4" stroke-width="0.8" stroke-opacity="0.9"/>
<line x1="57.15" y1="263.16" x2="58.35" y2="263.16" stroke="#4a68d4" stroke-width="0.8" stroke-opacity="0.9"/>
<line x1="60.17" y1="263.85" x2="60.17" y2="271.63" stroke="#4a68d4" stroke-width="0.8" stroke-opacity="0.9"/>
<line x1="59.57" y1="267.74" x2="60.77" y2="267.74" stroke="#4a68d4" stroke-width="0.8" stroke-opacity="0.9"/>
<line x1="62.38" y1="266.69" x2="62.38" y2="274.47" stroke="#4a68d4" stroke-width="0.8" stroke-opacity="0.9"/>
<line x1="61.78" y1="270.58" x2="62.98" y2="270.58" stroke="#4a68d4" stroke-width="0.8" stroke-opacity="0.9"/>
<line x1="64.26" y1="268.99" x2="64.26" y2="276.73" stroke="#4a68d4" stroke-width="0.8" stroke-opacity="0.9"/>
<line x1="63.66" y1="272.86" x2="64.86" y2="272.86" stroke="#4a68d4" stroke-width="0.8" stroke-opacity="0.9"/>
<line x1="66.06" y1="270.30" x2="66.06" y2="276.60" stroke="#4a68d4" stroke-width="0.8" stroke-opacity="0.9"/>
<line x1="65.46" y1="273.45" x2="66.66" y2="273.45" stroke="#4a68d4" stroke-width="0.8" stroke-opacity="0.9"/>
<line x1="68.02" y1="272.21" x2="68.02" y2="280.36" stroke="#4a68d4" stroke-width="0.8" stroke-opacity="0.9"/>
<line x1="67.42" y1="276.28" x2="68.62" y2="276.28" stroke="#4a68d4" stroke-width="0.8" stroke-opacity="0.9"/>
<line x1="69.69" y1="267.33" x2="69.69" y2="272.54" stroke="#4a68d4" stroke-width="0.8" stroke-opacity="0.9"/>
<line x1="69.09" y1="269.94" x2="70.29" y2="269.94" stroke="#4a68d4" stroke-width="0.8" stroke-opacity="0.9"/>
<line x1="72.23" y1="258.99" x2="72.23" y2="265.58" stroke="#4a68d4" stroke-width="0.8" stroke-opacity="0.9"/>
<line x1="71.63" y1="262.29" x2="72.83" y2="262.29" stroke="#4a68d4" stroke-width="0.8" stroke-opacity="0.9"/>
<line x1="74.77" y1="270.93" x2="74.77" y2="279.10" stroke="#4a68d4" stroke-width="0.8" stroke-opacity="0.9"/>
<line x1="74.17" y1="275.02" x2="75.37" y2="275.02" stroke="#4a68d4" stroke-width="0.8" stroke-opacity="0.9"/>
<line x1="76.52" y1="265.48" x2="76.52" y2="272.80" stroke="#4a68d4" stroke-width="0.8" stroke-opacity="0.9"/>
<line x1="75.92" y1="269.14" x2="77.12" y2="269.14" stroke="#4a68d4" stroke-width="0.8" stroke-opacity="0.9"/>
<line x1="34.70" y1="271.10" x2="34.70" y2="277.22" stroke="#e070a8" stroke-width="0.8" stroke-opacity="0.9"/>
<line x1="34.10" y1="274.16" x2="35.30" y2="274.16" stroke="#e070a8" stroke-width="0.8" stroke-opacity="0.9"/>
<line x1="36.58" y1="264.06" x2="36.58" y2="271.14" stroke="#e070a8" stroke-width="0.8" stroke-opacity="0.9"/>
<line x1="35.98" y1="267.60" x2="37.18" y2="267.60" stroke="#e070a8" stroke-width="0.8" stroke-opacity="0.9"/>
<line x1="38.39" y1="263.40" x2="38.39" y2="271.19" stroke="#e070a8" stroke-width="0.8" stroke-opacity="0.9"/>
<line x1="37.79" y1="267.29" x2="38.99" y2="267.29" stroke="#e070a8" stroke-width="0.8" stroke-opacity="0.9"/>
<line x1="39.94" y1="260.89" x2="39.94" y2="269.04" stroke="#e070a8" stroke-width="0.8" stroke-opacity="0.9"/>
<line x1="39.34" y1="264.96" x2="40.54" y2="264.96" stroke="#e070a8" stroke-width="0.8" stroke-opacity="0.9"/>
<line x1="42.43" y1="269.49" x2="42.43" y2="277.57" stroke="#e070a8" stroke-width="0.8" stroke-opacity="0.9"/>
<line x1="41.83" y1="273.53" x2="43.03" y2="273.53" stroke="#e070a8" stroke-width="0.8" stroke-opacity="0.9"/>
<line x1="44.56" y1="263.40" x2="44.56" y2="269.15" stroke="#e070a8" stroke-width="0.8" stroke-opacity="0.9"/>
<line x1="43.96" y1="266.28" x2="45.16" y2="266.28" stroke="#e070a8" stroke-width="0.8" stroke-opacity="0.9"/>
<line x1="46.39" y1="268.41" x2="46.39" y2="275.73" stroke="#e070a8" stroke-width="0.8" stroke-opacity="0.9"/>
<line x1="45.79" y1="272.07" x2="46.99" y2="272.07" stroke="#e070a8" stroke-width="0.8" stroke-opacity="0.9"/>
<line x1="48.47" y1="276.52" x2="48.47" y2="283.68" stroke="#e070a8" stroke-width="0.8" stroke-opacity="0.9"/>
<line x1="47.87" y1="280.10" x2="49.07" y2="280.10" stroke="#e070a8" stroke-width="0.8" stroke-opacity="0.9"/>
<line x1="50.34" y1="266.91" x2="50.34" y2="272.92" stroke="#e070a8" stroke-width="0.8" stroke-opacity="0.9"/>
<line x1="49.74" y1="269.91" x2="50.94" y2="269.91" stroke="#e070a8" stroke-width="0.8" stroke-opacity="0.9"/>
<line x1="52.79" y1="276.38" x2="52.79" y2="282.71" stroke="#e070a8" stroke-width="0.8" stroke-opacity="0.9"/>
<line x1="52.19" y1="279.55" x2="53.39" y2="279.55" stroke="#e070a8" stroke-width="0.8" stroke-opacity="0.9"/>
<line x1="54.51" y1="267.88" x2="54.51" y2="274.79" stroke="#e070a8" stroke-width="0.8" stroke-opacity="0.9"/>
<line x1="53.91" y1="271.33" x2="55.11" y2="271.33" stroke="#e070a8" stroke-width="0.8" stroke-opacity="0.9"/>
<line x1="56.91" y1="257.54" x2="56.91" y2="265.69" stroke="#e070a8" stroke-width="0.8" stroke-opacity="0.9"/>
<line x1="56.31" y1="261.61" x2="57.51" y2="261.61" stroke="#e070a8" stroke-width="0.8" stroke-opacity="0.9"/>
<line x1="59.29" y1="257.81" x2="59.29" y2="265.65" stroke="#e070a8" stroke-width="0.8" stroke-opacity="0.9"/>
<line x1="58.69" y1="261.73" x2="59.89" y2="261.73" stroke="#e070a8" stroke-width="0.8" stroke-opacity="0.9"/>
<line x1="60.80" y1="272.00" x2="60.80" y2="277.36" stroke="#e070a8" stroke-width="0.8" stroke-opacity="0.9"/>
<line x1="60.20" y1="274.68" x2="61.40" y2="274.68" stroke="#e070a8" stroke-width="0.8" stroke-opacity="0.9"/>
<line x1="62.60" y1="275.22" x2="62.60" y2="281.28" stroke="#e070a8" stroke-width="0.8" stroke-opacity="0.9"/>
<line x1="62.00" y1="278.25" x2="63.20" y2="278.25" stroke="#e070a8" stroke-width="0.8" stroke-opacity="0.9"/>
<line x1="64.68" y1="274.44" x2="64.68" y2="282.12" stroke="#e070a8" stroke-width="0.8" stroke-opacity="0.9"/>
<line x1="64.08" y1="278.28" x2="65.28" y2="278.28" stroke="#e070a8" stroke-width="0.8" stroke-opacity="0.9"/>
<line x1="66.18" y1="270.88" x2="66.18" y2="276.26" stroke="#e070a8" stroke-width="0.8" stroke-opacity="0.9"/>
<line x1="65.58" y1="273.57" x2="66.78" y2="273.57" stroke="#e070a8" stroke-width="0.8" stroke-opacity="0.9"/>
<line x1="67.82" y1="268.46" x2="67.82" y2="276.78" stroke="#e070a8" stroke-width="0.8" stroke-opacity="0.9"/>
<line x1="67.22" y1="272.62" x2="68.42" y2="272.62" stroke="#e070a8" stroke-width="0.8" stroke-opacity="0.9"/>
<line x1="70.26" y1="267.45" x2="70.26" y2="272.93" stroke="#e070a8" stroke-width="0.8" stroke-opacity="0.9"/>
<line x1="69.66" y1="270.19" x2="70.86" y2="270.19" stroke="#e070a8" stroke-width="0.8" stroke-opacity="0.9"/>
<line x1="72.31" y1="267.40" x2="72.31" y2="273.72" stroke="#e070a8" stroke-width="0.8" stroke-opacity="0.9"/>
<line x1="71.71" y1="270.56" x2="72.91" y2="270.56" stroke="#e070a8" stroke-width="0.8" stroke-opacity="0.9"/>
<line x1="74.53" y1="262.22" x2="74.53" y2="269.30" stroke="#e070a8" stroke-width="0.8" stroke-opacity="0.9"/>
<line x1="73.93" y1="265.76" x2="75.13" y2="265.76" stroke="#e070a8" stroke-width="0.8" stroke-opacity="0.9"/>
<line x1="76.42" y1="265.04" x2="76.42" y2="270.64" stroke="#e070a8" stroke-width="0.8" stroke-opacity="0.9"/>
<line x1="75.82" y1="267.84" x2="77.02" y2="267.84" stroke="#e070a8" stroke-width="0.8" stroke-opacity="0.9"/>
<line x1="77.50" y1="264.46" x2="77.50" y2="270.18" stroke="#6a90dc" stroke-width="0.8"/>
<line x1="76.60" y1="267.32" x2="78.40" y2="267.32" stroke="#6a90dc" stroke-width="0.8"/>
<line x1="79.27" y1="265.62" x2="79.27" y2="270.52" stroke="#6a90dc" stroke-width="0.8"/>
<line x1="78.37" y1="268.07" x2="80.17" y2="268.07" stroke="#6a90dc" stroke-width="0.8"/>
<line x1="81.19" y1="265.79" x2="81.19" y2="271.67" stroke="#6a90dc" stroke-width="0.8"/>
<line x1="80.29" y1="268.73" x2="82.09" y2="268.73" stroke="#6a90dc" stroke-width="0.8"/>
<line x1="82.96" y1="265.84" x2="82.96" y2="270.88" stroke="#6a90dc" stroke-width="0.8"/>
<line x1="82.06" y1="268.36" x2="83.86" y2="268.36" stroke="#6a90dc" stroke-width="0.8"/>
<line x1="84.72" y1="270.47" x2="84.72" y2="275.66" stroke="#6a90dc" stroke-width="0.8"/>
<line x1="83.82" y1="273.06" x2="85.62" y2="273.06" stroke="#6a90dc" stroke-width="0.8"/>
<line x1="86.71" y1="270.58" x2="86.71" y2="275.69" stroke="#6a90dc" stroke-width="0.8"/>
<line x1="85.81" y1="273.13" x2="87.61" y2="273.13" stroke="#6a90dc" stroke-width="0.8"/>
<line x1="88.38" y1="264.93" x2="88.38" y2="270.21" stroke="#6a90dc" stroke-width="0.8"/>
<line x1="87.48" y1="267.57" x2="89.28" y2="267.57" stroke="#6a90dc" stroke-width="0.8"/>
<line x1="90.37" y1="264.50" x2="90.37" y2="269.52" stroke="#6a90dc" stroke-width="0.8"/>
<line x1="89.47" y1="267.01" x2="91.27" y2="267.01" stroke="#6a90dc" stroke-width="0.8"/>
<line x1="92.48" y1="265.19" x2="92.48" y2="271.44" stroke="#6a90dc" stroke-width="0.8"/>
<line x1="91.58" y1="268.32" x2="93.38" y2="268.32" stroke="#6a90dc" stroke-width="0.8"/>
<line x1="94.24" y1="263.44" x2="94.24" y2="268.07" stroke="#6a90dc" stroke-width="0.8"/>
<line x1="93.34" y1="265.76" x2="95.14" y2="265.76" stroke="#6a90dc" stroke-width="0.8"/>
<line x1="96.07" y1="270.21" x2="96.07" y2="274.50" stroke="#6a90dc" stroke-width="0.8"/>
<line x1="95.17" y1="272.36" x2="96.97" y2="272.36" stroke="#6a90dc" stroke-width="0.8"/>
<line x1="98.14" y1="269.50" x2="98.14" y2="275.40" stroke="#6a90dc" stroke-width="0.8"/>
<line x1="97.24" y1="272.45" x2="99.04" y2="272.45" stroke="#6a90dc" stroke-width="0.8"/>
<line x1="100.11" y1="271.40" x2="100.11" y2="277.16" stroke="#6a90dc" stroke-width="0.8"/>
<line x1="99.21" y1="274.28" x2="101.01" y2="274.28" stroke="#6a90dc" stroke-width="0.8"/>
<line x1="102.00" y1="264.70" x2="102.00" y2="268.71" stroke="#6a90dc" stroke-width="0.8"/>
<line x1="101.10" y1="266.71" x2="102.90" y2="266.71" stroke="#6a90dc" stroke-width="0.8"/>
<line x1="103.60" y1="264.46" x2="103.60" y2="270.32" stroke="#6a90dc" stroke-width="0.8"/>
<line x1="102.70" y1="267.39" x2="104.50" y2="267.39" stroke="#6a90dc" stroke-width="0.8"/>
<line x1="105.13" y1="265.46" x2="105.13" y2="271.57" stroke="#6a90dc" stroke-width="0.8"/>
<line x1="104.23" y1="268.51" x2="106.03" y2="268.51" stroke="#6a90dc" stroke-width="0.8"/>
<line x1="106.76" y1="266.84" x2="106.76" y2="270.90" stroke="#6a90dc" stroke-width="0.8"/>
<line x1="105.86" y1="268.87" x2="107.66" y2="268.87" stroke="#6a90dc" stroke-width="0.8"/>
<line x1="104.00" y1="268.39" x2="104.00" y2="274.92" stroke="#b15ad0" stroke-width="0.8"/>
<line x1="103.00" y1="271.65" x2="105.00" y2="271.65" stroke="#b15ad0" stroke-width="0.8"/>
<line x1="106.14" y1="261.08" x2="106.14" y2="267.94" stroke="#b15ad0" stroke-width="0.8"/>
<line x1="105.14" y1="264.51" x2="107.14" y2="264.51" stroke="#b15ad0" stroke-width="0.8"/>
<line x1="108.20" y1="262.83" x2="108.20" y2="266.94" stroke="#b15ad0" stroke-width="0.8"/>
<line x1="107.20" y1="264.88" x2="109.20" y2="264.88" stroke="#b15ad0" stroke-width="0.8"/>
<line x1="110.42" y1="264.68" x2="110.42" y2="270.83" stroke="#b15ad0" stroke-width="0.8"/>
<line x1="109.42" y1="267.76" x2="111.42" y2="267.76" stroke="#b15ad0" stroke-width="0.8"/>
<line x1="112.10" y1="261.98" x2="112.10" y2="268.78" stroke="#b15ad0" stroke-width="0.8"/>
<line x1="111.10" y1="265.38" x2="113.10" y2="265.38" stroke="#b15ad0" stroke-width="0.8"/>
<line x1="113.75" y1="266.78" x2="113.75" y2="272.47" stroke="#b15ad0" stroke-width="0.8"/>
<line x1="112.75" y1="269.62" x2="114.75" y2="269.62" stroke="#b15ad0" stroke-width="0.8"/>
<line x1="116.01" y1="268.18" x2="116.01" y2="272.71" stroke="#b15ad0" stroke-width="0.8"/>
<line x1="115.01" y1="270.45" x2="117.01" y2="270.45" stroke="#b15ad0" stroke-width="0.8"/>
<line x1="117.81" y1="263.58" x2="117.81" y2="269.84" stroke="#b15ad0" stroke-width="0.8"/>
<line x1="116.81" y1="266.71" x2="118.81" y2="266.71" stroke="#b15ad0" stroke-width="0.8"/>
<line x1="120.40" y1="273.80" x2="129.90" y2="273.80" stroke="#5c9c5c" stroke-width="0.85"/>
<line x1="125.15" y1="270.30" x2="125.15" y2="277.30" stroke="#5c9c5c" stroke-width="0.8"/>
<line x1="121.70" y1="275.10" x2="135.30" y2="275.10" stroke="#e8884c" stroke-width="0.85"/>
<line x1="128.50" y1="271.60" x2="128.50" y2="278.60" stroke="#e8884c" stroke-width="0.8"/>
<line x1="129.90" y1="273.00" x2="139.40" y2="273.00" stroke="#5c9c5c" stroke-width="0.85"/>
<line x1="134.65" y1="269.50" x2="134.65" y2="276.50" stroke="#5c9c5c" stroke-width="0.8"/>
<line x1="140.70" y1="269.70" x2="177.40" y2="269.70" stroke="#e8884c" stroke-width="0.85"/>
<line x1="159.05" y1="266.20" x2="159.05" y2="273.20" stroke="#e8884c" stroke-width="0.8"/>
<line x1="140.70" y1="271.10" x2="154.30" y2="271.10" stroke="#5c9c5c" stroke-width="0.85"/>
<line x1="147.50" y1="267.60" x2="147.50" y2="274.60" stroke="#5c9c5c" stroke-width="0.8"/>
<line x1="148.90" y1="274.60" x2="167.90" y2="274.60" stroke="#5c9c5c" stroke-width="0.85"/>
<line x1="158.40" y1="271.10" x2="158.40" y2="278.10" stroke="#5c9c5c" stroke-width="0.8"/>
<line x1="167.90" y1="272.40" x2="191.00" y2="272.40" stroke="#5c9c5c" stroke-width="0.85"/>
<line x1="179.45" y1="268.90" x2="179.45" y2="275.90" stroke="#5c9c5c" stroke-width="0.8"/>
<line x1="176.00" y1="273.00" x2="189.60" y2="273.00" stroke="#e8884c" stroke-width="0.85"/>
<line x1="182.80" y1="269.50" x2="182.80" y2="276.50" stroke="#e8884c" stroke-width="0.8"/>
<polyline points="191.80,5.40 192.20,5.17 192.77,4.84 193.48,4.49 194.30,4.20 195.26,3.93 196.36,3.67 197.56,3.49 198.80,3.50 200.12,3.75 201.52,4.17 202.94,4.69 204.30,5.20 205.59,5.69 206.83,6.22 208.06,6.76 209.30,7.30 210.60,7.85 211.93,8.43 213.19,8.98 214.30,9.50 215.18,9.93 215.90,10.30 216.57,10.70 217.30,11.20 218.12,11.81 218.98,12.49 219.85,13.28 220.70,14.20 221.53,15.32 222.35,16.61 223.17,17.94 224.00,19.20 224.84,20.36 225.69,21.48 226.55,22.59 227.40,23.70 228.24,24.81 229.07,25.91 229.91,27.03 230.80,28.20 231.83,29.55 232.96,31.03 233.99,32.37 234.70,33.30" fill="none" stroke="#a8c050" stroke-width="0.8" stroke-opacity="0.9"/>
<polyline points="191.80,6.24 192.20,5.98 192.77,5.60 193.48,5.20 194.30,4.85 195.26,4.53 196.36,4.20 197.56,3.97 198.80,3.92 200.12,4.12 201.52,4.50 202.94,4.98 204.30,5.46 205.59,5.95 206.83,6.47 208.06,7.02 209.30,7.56 210.60,8.12 211.93,8.70 213.19,9.26 214.30,9.78 215.18,10.20 215.90,10.57 216.57,10.96 217.30,11.45 218.12,12.05 218.98,12.71 219.85,13.48 220.70,14.39 221.53,15.51 222.35,16.79 223.17,18.13 224.00,19.39 224.84,20.55 225.69,21.67 226.55,22.78 227.40,23.89 228.24,25.00 229.07,26.10 229.91,27.22 230.80,28.39 231.83,29.75 232.96,31.23 233.99,32.57 234.70,33.50" fill="none" stroke="#f2b040" stroke-width="0.8" stroke-opacity="0.9"/>
<polyline points="191.80,9.25 192.20,8.87 192.77,8.32 193.48,7.72 194.30,7.17 195.26,6.65 196.36,6.10 197.56,5.66 198.80,5.42 200.12,5.45 201.52,5.68 202.94,6.02 204.30,6.41 205.59,6.85 206.83,7.38 208.06,7.95 209.30,8.51 210.60,9.08 211.93,9.67 213.19,10.24 214.30,10.77 215.18,11.18 215.90,11.53 216.57,11.89 217.30,12.36 218.12,12.90 218.98,13.50 219.85,14.21 220.70,15.08 221.53,16.18 222.35,17.47 223.17,18.81 224.00,20.08 224.84,21.24 225.69,22.36 226.55,23.47 227.40,24.58 228.24,25.69 229.07,26.79 229.91,27.91 230.80,29.08 231.83,30.44 232.96,31.94 233.99,33.29 234.70,34.23" fill="none" stroke="#f8a55e" stroke-width="0.8" stroke-opacity="0.85"/>
<polyline points="191.80,11.35 192.20,10.88 192.77,10.21 193.48,9.47 194.30,8.79 195.26,8.13 196.36,7.43 197.56,6.84 198.80,6.47 200.12,6.38 201.52,6.49 202.94,6.75 204.30,7.07 205.59,7.49 206.83,8.01 208.06,8.60 209.30,9.17 210.60,9.75 211.93,10.35 213.19,10.93 214.30,11.46 215.18,11.87 215.90,12.20 216.57,12.55 217.30,12.99 218.12,13.50 218.98,14.06 219.85,14.72 220.70,15.56 221.53,16.65 222.35,17.94 223.17,19.29 224.00,20.56 224.84,21.72 225.69,22.84 226.55,23.95 227.40,25.06 228.24,26.17 229.07,27.27 229.91,28.39 230.80,29.56 231.83,30.93 232.96,32.43 233.99,33.80 234.70,34.74" fill="none" stroke="#f27a3a" stroke-width="0.8" stroke-opacity="0.9"/>
<polyline points="191.80,12.40 192.20,11.89 192.77,11.16 193.48,10.35 194.30,9.60 195.26,8.86 196.36,8.10 197.56,7.43 198.80,7.00 200.12,6.85 201.52,6.90 202.94,7.11 204.30,7.40 205.59,7.80 206.83,8.33 208.06,8.92 209.30,9.50 210.60,10.08 211.93,10.69 213.19,11.28 214.30,11.80 215.18,12.21 215.90,12.54 216.57,12.87 217.30,13.30 218.12,13.80 218.98,14.33 219.85,14.98 220.70,15.80 221.53,16.89 222.35,18.18 223.17,19.53 224.00,20.80 224.84,21.96 225.69,23.08 226.55,24.19 227.40,25.30 228.24,26.41 229.07,27.51 229.91,28.63 230.80,29.80 231.83,31.17 232.96,32.68 233.99,34.05 234.70,35.00" fill="none" stroke="#ee5a30" stroke-width="0.8" stroke-opacity="0.9"/>
<circle cx="191.80" cy="7.23" r="0.8" fill="none" stroke="#f29a9a" stroke-width="0.5"/>
<circle cx="193.48" cy="6.40" r="0.8" fill="none" stroke="#f29a9a" stroke-width="0.5"/>
<circle cx="196.36" cy="5.11" r="0.8" fill="none" stroke="#f29a9a" stroke-width="0.5"/>
<circle cx="200.12" cy="4.66" r="0.8" fill="none" stroke="#f29a9a" stroke-width="0.5"/>
<circle cx="204.30" cy="5.63" r="0.8" fill="none" stroke="#f29a9a" stroke-width="0.5"/>
<circle cx="208.06" cy="7.64" r="0.8" fill="none" stroke="#f29a9a" stroke-width="0.5"/>
<circle cx="211.93" cy="9.35" r="0.8" fill="none" stroke="#f29a9a" stroke-width="0.5"/>
<circle cx="215.18" cy="10.62" r="0.8" fill="none" stroke="#f29a9a" stroke-width="0.5"/>
<circle cx="217.30" cy="11.83" r="0.8" fill="none" stroke="#f29a9a" stroke-width="0.5"/>
<circle cx="219.85" cy="13.58" r="0.8" fill="none" stroke="#f29a9a" stroke-width="0.5"/>
<circle cx="222.35" cy="16.68" r="0.8" fill="none" stroke="#f29a9a" stroke-width="0.5"/>
<circle cx="224.84" cy="20.74" r="0.8" fill="none" stroke="#f29a9a" stroke-width="0.5"/>
<circle cx="227.40" cy="24.25" r="0.8" fill="none" stroke="#f29a9a" stroke-width="0.5"/>
<circle cx="229.91" cy="27.17" r="0.8" fill="none" stroke="#f29a9a" stroke-width="0.5"/>
<circle cx="232.96" cy="31.76" r="0.8" fill="none" stroke="#f29a9a" stroke-width="0.5"/>
<circle cx="191.80" cy="10.09" r="0.8" fill="none" stroke="#f0a040" stroke-width="0.5"/>
<circle cx="193.48" cy="8.38" r="0.8" fill="none" stroke="#f0a040" stroke-width="0.5"/>
<circle cx="196.36" cy="6.40" r="0.8" fill="none" stroke="#f0a040" stroke-width="0.5"/>
<circle cx="200.12" cy="6.31" r="0.8" fill="none" stroke="#f0a040" stroke-width="0.5"/>
<circle cx="204.30" cy="6.93" r="0.8" fill="none" stroke="#f0a040" stroke-width="0.5"/>
<circle cx="208.06" cy="8.57" r="0.8" fill="none" stroke="#f0a040" stroke-width="0.5"/>
<circle cx="211.93" cy="10.10" r="0.8" fill="none" stroke="#f0a040" stroke-width="0.5"/>
<circle cx="215.18" cy="11.15" r="0.8" fill="none" stroke="#f0a040" stroke-width="0.5"/>
<circle cx="217.30" cy="12.53" r="0.8" fill="none" stroke="#f0a040" stroke-width="0.5"/>
<circle cx="219.85" cy="14.46" r="0.8" fill="none" stroke="#f0a040" stroke-width="0.5"/>
<circle cx="222.35" cy="17.40" r="0.8" fill="none" stroke="#f0a040" stroke-width="0.5"/>
<circle cx="224.84" cy="21.84" r="0.8" fill="none" stroke="#f0a040" stroke-width="0.5"/>
<circle cx="227.40" cy="24.71" r="0.8" fill="none" stroke="#f0a040" stroke-width="0.5"/>
<circle cx="229.91" cy="27.87" r="0.8" fill="none" stroke="#f0a040" stroke-width="0.5"/>
<circle cx="232.96" cy="32.44" r="0.8" fill="none" stroke="#f0a040" stroke-width="0.5"/>
<circle cx="192.20" cy="5.17" r="0.7" fill="#f2b040"/>
<circle cx="195.26" cy="3.93" r="0.7" fill="#f2b040"/>
<circle cx="200.12" cy="3.75" r="0.7" fill="#f2b040"/>
<circle cx="205.59" cy="5.69" r="0.7" fill="#f2b040"/>
<circle cx="210.60" cy="7.85" r="0.7" fill="#f2b040"/>
<circle cx="215.18" cy="9.93" r="0.7" fill="#f2b040"/>
<circle cx="218.12" cy="11.81" r="0.7" fill="#f2b040"/>
<circle cx="221.53" cy="15.32" r="0.7" fill="#f2b040"/>
<circle cx="224.84" cy="20.36" r="0.7" fill="#f2b040"/>
<circle cx="228.24" cy="24.81" r="0.7" fill="#f2b040"/>
<circle cx="231.83" cy="29.55" r="0.7" fill="#f2b040"/>
<circle cx="192.20" cy="11.89" r="0.7" fill="#e8452c"/>
<circle cx="195.26" cy="8.86" r="0.7" fill="#e8452c"/>
<circle cx="200.12" cy="6.85" r="0.7" fill="#e8452c"/>
<circle cx="205.59" cy="7.80" r="0.7" fill="#e8452c"/>
<circle cx="210.60" cy="10.08" r="0.7" fill="#e8452c"/>
<circle cx="215.18" cy="12.21" r="0.7" fill="#e8452c"/>
<circle cx="218.12" cy="13.80" r="0.7" fill="#e8452c"/>
<circle cx="221.53" cy="16.89" r="0.7" fill="#e8452c"/>
<circle cx="224.84" cy="21.96" r="0.7" fill="#e8452c"/>
<circle cx="228.24" cy="26.41" r="0.7" fill="#e8452c"/>
<circle cx="231.83" cy="31.17" r="0.7" fill="#e8452c"/>
<circle cx="192.20000000000002" cy="12.4" r="1.2" fill="#e8452c"/>
<line x1="235.00" y1="33.50" x2="235.00" y2="47.70" stroke="#7cb342" stroke-width="1.0"/>
<line x1="234.40" y1="33.50" x2="234.40" y2="44.50" stroke="#7a86dc" stroke-width="0.9"/>
<circle cx="234.60000000000002" cy="37.2" r="0.9" fill="#4f7fd4"/>
<circle cx="234.10000000000002" cy="34" r="1.1" fill="#e8452c"/>
<polyline points="221.80,13.90 224.80,15.60 228.00,17.90 237.60,27.40 247.30,37.10 255.30,44.50 257.30,45.90 258.50,45.90 258.50,48.40 260.30,48.40 260.30,50.50 262.80,51.80 264.10,51.80 264.10,55.30 268.90,55.30 268.90,59.60 272.00,59.60" fill="none" stroke="#f8a55e" stroke-width="1.2"/>
<line x1="224.30" y1="14.27" x2="224.30" y2="17.86" stroke="#aac4ec" stroke-width="0.8"/>
<line x1="223.40" y1="15.47" x2="225.20" y2="15.47" stroke="#9ab8e8" stroke-width="0.7"/>
<circle cx="224.30" cy="15.47" r="0.55" fill="#6f98dc"/>
<line x1="225.67" y1="15.35" x2="225.67" y2="17.83" stroke="#aac4ec" stroke-width="0.8"/>
<line x1="224.77" y1="16.55" x2="226.57" y2="16.55" stroke="#9ab8e8" stroke-width="0.7"/>
<circle cx="225.67" cy="16.55" r="0.55" fill="#6f98dc"/>
<line x1="227.08" y1="16.73" x2="227.08" y2="19.07" stroke="#aac4ec" stroke-width="0.8"/>
<line x1="226.18" y1="17.93" x2="227.98" y2="17.93" stroke="#9ab8e8" stroke-width="0.7"/>
<circle cx="227.08" cy="17.93" r="0.55" fill="#6f98dc"/>
<line x1="228.32" y1="16.09" x2="228.32" y2="19.33" stroke="#aac4ec" stroke-width="0.8"/>
<line x1="227.42" y1="17.29" x2="229.22" y2="17.29" stroke="#9ab8e8" stroke-width="0.7"/>
<circle cx="228.32" cy="17.29" r="0.55" fill="#6f98dc"/>
<line x1="229.36" y1="19.79" x2="229.36" y2="22.97" stroke="#aac4ec" stroke-width="0.8"/>
<line x1="228.46" y1="20.99" x2="230.26" y2="20.99" stroke="#9ab8e8" stroke-width="0.7"/>
<circle cx="229.36" cy="20.99" r="0.55" fill="#6f98dc"/>
<line x1="230.85" y1="25.16" x2="230.85" y2="27.45" stroke="#aac4ec" stroke-width="0.8"/>
<line x1="229.95" y1="26.36" x2="231.75" y2="26.36" stroke="#9ab8e8" stroke-width="0.7"/>
<circle cx="230.85" cy="26.36" r="0.55" fill="#6f98dc"/>
<line x1="232.00" y1="25.98" x2="232.00" y2="28.84" stroke="#aac4ec" stroke-width="0.8"/>
<line x1="231.10" y1="27.18" x2="232.90" y2="27.18" stroke="#9ab8e8" stroke-width="0.7"/>
<circle cx="232.00" cy="27.18" r="0.55" fill="#6f98dc"/>
<line x1="233.68" y1="22.68" x2="233.68" y2="25.62" stroke="#aac4ec" stroke-width="0.8"/>
<line x1="232.78" y1="23.88" x2="234.58" y2="23.88" stroke="#9ab8e8" stroke-width="0.7"/>
<circle cx="233.68" cy="23.88" r="0.55" fill="#6f98dc"/>
<line x1="235.21" y1="24.00" x2="235.21" y2="27.70" stroke="#aac4ec" stroke-width="0.8"/>
<line x1="234.31" y1="25.20" x2="236.11" y2="25.20" stroke="#9ab8e8" stroke-width="0.7"/>
<circle cx="235.21" cy="25.20" r="0.55" fill="#6f98dc"/>
<line x1="237.00" y1="26.93" x2="237.00" y2="32.05" stroke="#aac4ec" stroke-width="0.8"/>
<line x1="236.10" y1="28.13" x2="237.90" y2="28.13" stroke="#9ab8e8" stroke-width="0.7"/>
<circle cx="237.00" cy="28.13" r="0.55" fill="#6f98dc"/>
<line x1="238.19" y1="33.62" x2="238.19" y2="39.12" stroke="#aac4ec" stroke-width="0.8"/>
<line x1="237.29" y1="34.82" x2="239.09" y2="34.82" stroke="#9ab8e8" stroke-width="0.7"/>
<circle cx="238.19" cy="34.82" r="0.55" fill="#6f98dc"/>
<line x1="239.86" y1="28.42" x2="239.86" y2="35.94" stroke="#aac4ec" stroke-width="0.8"/>
<line x1="238.96" y1="29.62" x2="240.76" y2="29.62" stroke="#9ab8e8" stroke-width="0.7"/>
<circle cx="239.86" cy="29.62" r="0.55" fill="#6f98dc"/>
<line x1="240.86" y1="28.89" x2="240.86" y2="34.71" stroke="#aac4ec" stroke-width="0.8"/>
<line x1="239.96" y1="30.09" x2="241.76" y2="30.09" stroke="#9ab8e8" stroke-width="0.7"/>
<circle cx="240.86" cy="30.09" r="0.55" fill="#6f98dc"/>
<line x1="242.65" y1="37.40" x2="242.65" y2="44.60" stroke="#aac4ec" stroke-width="0.8"/>
<line x1="241.75" y1="38.60" x2="243.55" y2="38.60" stroke="#9ab8e8" stroke-width="0.7"/>
<circle cx="242.65" cy="38.60" r="0.55" fill="#6f98dc"/>
<line x1="243.86" y1="31.53" x2="243.86" y2="39.56" stroke="#aac4ec" stroke-width="0.8"/>
<line x1="242.96" y1="32.73" x2="244.76" y2="32.73" stroke="#9ab8e8" stroke-width="0.7"/>
<circle cx="243.86" cy="32.73" r="0.55" fill="#6f98dc"/>
<line x1="245.47" y1="37.58" x2="245.47" y2="41.55" stroke="#aac4ec" stroke-width="0.8"/>
<line x1="244.57" y1="38.78" x2="246.37" y2="38.78" stroke="#9ab8e8" stroke-width="0.7"/>
<circle cx="245.47" cy="38.78" r="0.55" fill="#6f98dc"/>
<line x1="247.11" y1="35.04" x2="247.11" y2="40.76" stroke="#aac4ec" stroke-width="0.8"/>
<line x1="246.21" y1="36.24" x2="248.01" y2="36.24" stroke="#9ab8e8" stroke-width="0.7"/>
<circle cx="247.11" cy="36.24" r="0.55" fill="#6f98dc"/>
<line x1="248.26" y1="43.01" x2="248.26" y2="47.23" stroke="#aac4ec" stroke-width="0.8"/>
<line x1="247.36" y1="44.21" x2="249.16" y2="44.21" stroke="#9ab8e8" stroke-width="0.7"/>
<circle cx="248.26" cy="44.21" r="0.55" fill="#6f98dc"/>
<line x1="249.60" y1="37.46" x2="249.60" y2="45.53" stroke="#aac4ec" stroke-width="0.8"/>
<line x1="248.70" y1="38.66" x2="250.50" y2="38.66" stroke="#9ab8e8" stroke-width="0.7"/>
<circle cx="249.60" cy="38.66" r="0.55" fill="#6f98dc"/>
<line x1="251.24" y1="39.26" x2="251.24" y2="43.91" stroke="#aac4ec" stroke-width="0.8"/>
<line x1="250.34" y1="40.46" x2="252.14" y2="40.46" stroke="#9ab8e8" stroke-width="0.7"/>
<circle cx="251.24" cy="40.46" r="0.55" fill="#6f98dc"/>
<line x1="252.56" y1="42.13" x2="252.56" y2="46.28" stroke="#aac4ec" stroke-width="0.8"/>
<line x1="251.66" y1="43.33" x2="253.46" y2="43.33" stroke="#9ab8e8" stroke-width="0.7"/>
<circle cx="252.56" cy="43.33" r="0.55" fill="#6f98dc"/>
<line x1="254.35" y1="41.86" x2="254.35" y2="49.04" stroke="#aac4ec" stroke-width="0.8"/>
<line x1="253.45" y1="43.06" x2="255.25" y2="43.06" stroke="#9ab8e8" stroke-width="0.7"/>
<circle cx="254.35" cy="43.06" r="0.55" fill="#6f98dc"/>
<line x1="255.61" y1="46.97" x2="255.61" y2="53.29" stroke="#aac4ec" stroke-width="0.8"/>
<line x1="254.71" y1="48.17" x2="256.51" y2="48.17" stroke="#9ab8e8" stroke-width="0.7"/>
<circle cx="255.61" cy="48.17" r="0.55" fill="#6f98dc"/>
<line x1="256.81" y1="44.96" x2="256.81" y2="50.70" stroke="#aac4ec" stroke-width="0.8"/>
<line x1="255.91" y1="46.16" x2="257.71" y2="46.16" stroke="#9ab8e8" stroke-width="0.7"/>
<circle cx="256.81" cy="46.16" r="0.55" fill="#6f98dc"/>
<line x1="258.57" y1="47.45" x2="258.57" y2="55.05" stroke="#aac4ec" stroke-width="0.8"/>
<line x1="257.67" y1="48.65" x2="259.47" y2="48.65" stroke="#9ab8e8" stroke-width="0.7"/>
<circle cx="258.57" cy="48.65" r="0.55" fill="#6f98dc"/>
<line x1="259.72" y1="46.46" x2="259.72" y2="53.84" stroke="#aac4ec" stroke-width="0.8"/>
<line x1="258.82" y1="47.66" x2="260.62" y2="47.66" stroke="#9ab8e8" stroke-width="0.7"/>
<circle cx="259.72" cy="47.66" r="0.55" fill="#6f98dc"/>
<line x1="260.92" y1="48.99" x2="260.92" y2="56.92" stroke="#aac4ec" stroke-width="0.8"/>
<line x1="260.02" y1="50.19" x2="261.82" y2="50.19" stroke="#9ab8e8" stroke-width="0.7"/>
<circle cx="260.92" cy="50.19" r="0.55" fill="#6f98dc"/>
<line x1="262.08" y1="51.87" x2="262.08" y2="58.29" stroke="#aac4ec" stroke-width="0.8"/>
<line x1="261.18" y1="53.07" x2="262.98" y2="53.07" stroke="#9ab8e8" stroke-width="0.7"/>
<circle cx="262.08" cy="53.07" r="0.55" fill="#6f98dc"/>
<line x1="263.41" y1="58.41" x2="263.41" y2="63.19" stroke="#aac4ec" stroke-width="0.8"/>
<line x1="262.51" y1="59.61" x2="264.31" y2="59.61" stroke="#9ab8e8" stroke-width="0.7"/>
<circle cx="263.41" cy="59.61" r="0.55" fill="#6f98dc"/>
<line x1="264.98" y1="53.67" x2="264.98" y2="60.06" stroke="#aac4ec" stroke-width="0.8"/>
<line x1="264.08" y1="54.87" x2="265.88" y2="54.87" stroke="#9ab8e8" stroke-width="0.7"/>
<circle cx="264.98" cy="54.87" r="0.55" fill="#6f98dc"/>
<line x1="266.21" y1="53.43" x2="266.21" y2="57.44" stroke="#aac4ec" stroke-width="0.8"/>
<line x1="265.31" y1="54.63" x2="267.11" y2="54.63" stroke="#9ab8e8" stroke-width="0.7"/>
<circle cx="266.21" cy="54.63" r="0.55" fill="#6f98dc"/>
<line x1="267.39" y1="54.58" x2="267.39" y2="61.04" stroke="#aac4ec" stroke-width="0.8"/>
<line x1="266.49" y1="55.78" x2="268.29" y2="55.78" stroke="#9ab8e8" stroke-width="0.7"/>
<circle cx="267.39" cy="55.78" r="0.55" fill="#6f98dc"/>
<line x1="268.62" y1="57.18" x2="268.62" y2="62.09" stroke="#aac4ec" stroke-width="0.8"/>
<line x1="267.72" y1="58.38" x2="269.52" y2="58.38" stroke="#9ab8e8" stroke-width="0.7"/>
<circle cx="268.62" cy="58.38" r="0.55" fill="#6f98dc"/>
<line x1="269.97" y1="63.24" x2="269.97" y2="69.52" stroke="#aac4ec" stroke-width="0.8"/>
<line x1="269.07" y1="64.44" x2="270.87" y2="64.44" stroke="#9ab8e8" stroke-width="0.7"/>
<circle cx="269.97" cy="64.44" r="0.55" fill="#6f98dc"/>
<circle cx="243.40" cy="39.00" r="0.9" fill="#4f7fd4"/>
<line x1="243.40" y1="33.00" x2="243.40" y2="39.00" stroke="#a9c3ec" stroke-width="0.8"/>
<circle cx="250.20" cy="47.70" r="0.9" fill="#4f7fd4"/>
<line x1="250.20" y1="41.70" x2="250.20" y2="47.70" stroke="#a9c3ec" stroke-width="0.8"/>
<circle cx="255.10" cy="53.50" r="0.9" fill="#4f7fd4"/>
<line x1="255.10" y1="47.50" x2="255.10" y2="53.50" stroke="#a9c3ec" stroke-width="0.8"/>
<circle cx="266.10" cy="59.30" r="0.9" fill="#4f7fd4"/>
<line x1="266.10" y1="53.30" x2="266.10" y2="59.30" stroke="#a9c3ec" stroke-width="0.8"/>
<circle cx="269.90" cy="61.40" r="0.9" fill="#4f7fd4"/>
<line x1="269.90" y1="55.40" x2="269.90" y2="61.40" stroke="#a9c3ec" stroke-width="0.8"/>
<polyline points="264.70,42.40 270.30,46.50 278.00,52.20" fill="none" stroke="#f8a55e" stroke-width="1.3"/>
<circle cx="265.10" cy="42.89" r="0.6" fill="#a64cc8"/>
<circle cx="270.90" cy="47.13" r="0.6" fill="#a64cc8"/>
<circle cx="272.90" cy="48.59" r="0.6" fill="#a64cc8"/>
<circle cx="277.60" cy="52.02" r="0.6" fill="#a64cc8"/>
<polyline points="307.50,96.00 335.60,96.00 335.60,126.00" fill="none" stroke="#f39247" stroke-width="1.1"/>
<polyline points="279.10,64.00 288.80,64.00 288.80,71.50 297.80,71.50 297.80,79.10 307.50,79.10 307.50,92.40 326.30,92.40 326.30,118.20 349.00,118.20" fill="none" stroke="#f39247" stroke-width="1.1"/>
<polyline points="279.10,64.00 288.80,64.00 288.80,71.50 297.80,71.50 297.80,79.10 307.50,79.10" fill="none" stroke="#8fae58" stroke-width="0.6" stroke-opacity="0.8"/>
<polyline points="326.30,107.20 349.00,107.20" fill="none" stroke="#6aa86a" stroke-width="0.85"/>
<rect x="283.10" y="63.30" width="1.4" height="1.4" fill="#3a8a45"/>
<line x1="283.80" y1="62.40" x2="283.80" y2="65.60" stroke="#3a8a45" stroke-width="0.7"/>
<rect x="292.60" y="70.80" width="1.4" height="1.4" fill="#3a8a45"/>
<line x1="293.30" y1="69.90" x2="293.30" y2="73.10" stroke="#3a8a45" stroke-width="0.7"/>
<rect x="303.20" y="78.40" width="1.4" height="1.4" fill="#3a8a45"/>
<line x1="303.90" y1="77.50" x2="303.90" y2="80.70" stroke="#3a8a45" stroke-width="0.7"/>
<rect x="320.20" y="99.90" width="1.4" height="1.4" fill="#3a8a45"/>
<line x1="320.90" y1="99.00" x2="320.90" y2="102.20" stroke="#3a8a45" stroke-width="0.7"/>
<rect x="343.60" y="114.00" width="1.4" height="1.4" fill="#3a8a45"/>
<line x1="344.30" y1="113.10" x2="344.30" y2="116.30" stroke="#3a8a45" stroke-width="0.7"/>
<path d="M328.80,94.70l2,2M330.80,94.70l-2,2" stroke="#e0602a" stroke-width="0.8"/>
<line x1="320.90" y1="92.50" x2="320.90" y2="100.60" stroke="#9fc89f" stroke-width="0.8"/>
<line x1="329.80" y1="94.00" x2="329.80" y2="97.50" stroke="#e0602a" stroke-width="0.7"/>
<line x1="344.30" y1="107.00" x2="344.30" y2="115.00" stroke="#9fc89f" stroke-width="0.8"/>
<line x1="192.10" y1="269.09" x2="192.10" y2="276.84" stroke="#e04848" stroke-width="0.8" stroke-opacity="0.9"/>
<line x1="191.50" y1="272.97" x2="192.70" y2="272.97" stroke="#e04848" stroke-width="0.8" stroke-opacity="0.9"/>
<line x1="194.64" y1="268.57" x2="194.64" y2="276.14" stroke="#e04848" stroke-width="0.8" stroke-opacity="0.9"/>
<line x1="194.04" y1="272.36" x2="195.24" y2="272.36" stroke="#e04848" stroke-width="0.8" stroke-opacity="0.9"/>
<line x1="197.15" y1="260.85" x2="197.15" y2="269.07" stroke="#e04848" stroke-width="0.8" stroke-opacity="0.9"/>
<line x1="196.55" y1="264.96" x2="197.75" y2="264.96" stroke="#e04848" stroke-width="0.8" stroke-opacity="0.9"/>
<line x1="199.37" y1="265.02" x2="199.37" y2="273.10" stroke="#e04848" stroke-width="0.8" stroke-opacity="0.9"/>
<line x1="198.77" y1="269.06" x2="199.97" y2="269.06" stroke="#e04848" stroke-width="0.8" stroke-opacity="0.9"/>
<line x1="200.99" y1="269.36" x2="200.99" y2="276.30" stroke="#e04848" stroke-width="0.8" stroke-opacity="0.9"/>
<line x1="200.39" y1="272.83" x2="201.59" y2="272.83" stroke="#e04848" stroke-width="0.8" stroke-opacity="0.9"/>
<line x1="203.12" y1="267.80" x2="203.12" y2="273.04" stroke="#e04848" stroke-width="0.8" stroke-opacity="0.9"/>
<line x1="202.52" y1="270.42" x2="203.72" y2="270.42" stroke="#e04848" stroke-width="0.8" stroke-opacity="0.9"/>
<line x1="204.86" y1="268.46" x2="204.86" y2="276.11" stroke="#e04848" stroke-width="0.8" stroke-opacity="0.9"/>
<line x1="204.26" y1="272.29" x2="205.46" y2="272.29" stroke="#e04848" stroke-width="0.8" stroke-opacity="0.9"/>
<line x1="206.53" y1="258.92" x2="206.53" y2="266.67" stroke="#e04848" stroke-width="0.8" stroke-opacity="0.9"/>
<line x1="205.93" y1="262.79" x2="207.13" y2="262.79" stroke="#e04848" stroke-width="0.8" stroke-opacity="0.9"/>
<line x1="208.19" y1="267.94" x2="208.19" y2="273.14" stroke="#e04848" stroke-width="0.8" stroke-opacity="0.9"/>
<line x1="207.59" y1="270.54" x2="208.79" y2="270.54" stroke="#e04848" stroke-width="0.8" stroke-opacity="0.9"/>
<line x1="210.65" y1="268.80" x2="210.65" y2="274.67" stroke="#e04848" stroke-width="0.8" stroke-opacity="0.9"/>
<line x1="210.05" y1="271.73" x2="211.25" y2="271.73" stroke="#e04848" stroke-width="0.8" stroke-opacity="0.9"/>
<line x1="212.38" y1="261.64" x2="212.38" y2="267.77" stroke="#e04848" stroke-width="0.8" stroke-opacity="0.9"/>
<line x1="211.78" y1="264.71" x2="212.98" y2="264.71" stroke="#e04848" stroke-width="0.8" stroke-opacity="0.9"/>
<line x1="214.94" y1="265.30" x2="214.94" y2="272.22" stroke="#e04848" stroke-width="0.8" stroke-opacity="0.9"/>
<line x1="214.34" y1="268.76" x2="215.54" y2="268.76" stroke="#e04848" stroke-width="0.8" stroke-opacity="0.9"/>
<line x1="217.19" y1="262.03" x2="217.19" y2="269.44" stroke="#e04848" stroke-width="0.8" stroke-opacity="0.9"/>
<line x1="216.59" y1="265.73" x2="217.79" y2="265.73" stroke="#e04848" stroke-width="0.8" stroke-opacity="0.9"/>
<line x1="219.75" y1="258.02" x2="219.75" y2="266.08" stroke="#e04848" stroke-width="0.8" stroke-opacity="0.9"/>
<line x1="219.15" y1="262.05" x2="220.35" y2="262.05" stroke="#e04848" stroke-width="0.8" stroke-opacity="0.9"/>
<line x1="221.58" y1="269.50" x2="221.58" y2="275.17" stroke="#e04848" stroke-width="0.8" stroke-opacity="0.9"/>
<line x1="220.98" y1="272.33" x2="222.18" y2="272.33" stroke="#e04848" stroke-width="0.8" stroke-opacity="0.9"/>
<line x1="223.15" y1="265.55" x2="223.15" y2="271.72" stroke="#e04848" stroke-width="0.8" stroke-opacity="0.9"/>
<line x1="222.55" y1="268.64" x2="223.75" y2="268.64" stroke="#e04848" stroke-width="0.8" stroke-opacity="0.9"/>
<line x1="225.31" y1="261.72" x2="225.31" y2="268.00" stroke="#e04848" stroke-width="0.8" stroke-opacity="0.9"/>
<line x1="224.71" y1="264.86" x2="225.91" y2="264.86" stroke="#e04848" stroke-width="0.8" stroke-opacity="0.9"/>
<line x1="227.15" y1="266.47" x2="227.15" y2="274.29" stroke="#e04848" stroke-width="0.8" stroke-opacity="0.9"/>
<line x1="226.55" y1="270.38" x2="227.75" y2="270.38" stroke="#e04848" stroke-width="0.8" stroke-opacity="0.9"/>
<line x1="229.18" y1="268.89" x2="229.18" y2="276.35" stroke="#e04848" stroke-width="0.8" stroke-opacity="0.9"/>
<line x1="228.58" y1="272.62" x2="229.78" y2="272.62" stroke="#e04848" stroke-width="0.8" stroke-opacity="0.9"/>
<line x1="230.75" y1="263.82" x2="230.75" y2="272.14" stroke="#e04848" stroke-width="0.8" stroke-opacity="0.9"/>
<line x1="230.15" y1="267.98" x2="231.35" y2="267.98" stroke="#e04848" stroke-width="0.8" stroke-opacity="0.9"/>
<line x1="232.27" y1="269.24" x2="232.27" y2="274.49" stroke="#e04848" stroke-width="0.8" stroke-opacity="0.9"/>
<line x1="231.67" y1="271.87" x2="232.87" y2="271.87" stroke="#e04848" stroke-width="0.8" stroke-opacity="0.9"/>
<line x1="234.64" y1="274.59" x2="234.64" y2="280.96" stroke="#e04848" stroke-width="0.8" stroke-opacity="0.9"/>
<line x1="234.04" y1="277.77" x2="235.24" y2="277.77" stroke="#e04848" stroke-width="0.8" stroke-opacity="0.9"/>
<line x1="192.40" y1="265.06" x2="192.40" y2="270.84" stroke="#4cb040" stroke-width="0.8" stroke-opacity="0.9"/>
<line x1="191.80" y1="267.95" x2="193.00" y2="267.95" stroke="#4cb040" stroke-width="0.8" stroke-opacity="0.9"/>
<line x1="194.95" y1="265.50" x2="194.95" y2="271.33" stroke="#4cb040" stroke-width="0.8" stroke-opacity="0.9"/>
<line x1="194.35" y1="268.41" x2="195.55" y2="268.41" stroke="#4cb040" stroke-width="0.8" stroke-opacity="0.9"/>
<line x1="197.28" y1="258.36" x2="197.28" y2="264.66" stroke="#4cb040" stroke-width="0.8" stroke-opacity="0.9"/>
<line x1="196.68" y1="261.51" x2="197.88" y2="261.51" stroke="#4cb040" stroke-width="0.8" stroke-opacity="0.9"/>
<line x1="199.17" y1="269.60" x2="199.17" y2="276.48" stroke="#4cb040" stroke-width="0.8" stroke-opacity="0.9"/>
<line x1="198.57" y1="273.04" x2="199.77" y2="273.04" stroke="#4cb040" stroke-width="0.8" stroke-opacity="0.9"/>
<line x1="201.53" y1="262.33" x2="201.53" y2="270.08" stroke="#4cb040" stroke-width="0.8" stroke-opacity="0.9"/>
<line x1="200.93" y1="266.20" x2="202.13" y2="266.20" stroke="#4cb040" stroke-width="0.8" stroke-opacity="0.9"/>
<line x1="203.97" y1="264.98" x2="203.97" y2="270.30" stroke="#4cb040" stroke-width="0.8" stroke-opacity="0.9"/>
<line x1="203.37" y1="267.64" x2="204.57" y2="267.64" stroke="#4cb040" stroke-width="0.8" stroke-opacity="0.9"/>
<line x1="206.51" y1="263.96" x2="206.51" y2="271.12" stroke="#4cb040" stroke-width="0.8" stroke-opacity="0.9"/>
<line x1="205.91" y1="267.54" x2="207.11" y2="267.54" stroke="#4cb040" stroke-width="0.8" stroke-opacity="0.9"/>
<line x1="209.02" y1="264.83" x2="209.02" y2="271.12" stroke="#4cb040" stroke-width="0.8" stroke-opacity="0.9"/>
<line x1="208.42" y1="267.97" x2="209.62" y2="267.97" stroke="#4cb040" stroke-width="0.8" stroke-opacity="0.9"/>
<line x1="211.54" y1="270.75" x2="211.54" y2="276.96" stroke="#4cb040" stroke-width="0.8" stroke-opacity="0.9"/>
<line x1="210.94" y1="273.86" x2="212.14" y2="273.86" stroke="#4cb040" stroke-width="0.8" stroke-opacity="0.9"/>
<line x1="213.23" y1="268.37" x2="213.23" y2="273.82" stroke="#4cb040" stroke-width="0.8" stroke-opacity="0.9"/>
<line x1="212.63" y1="271.10" x2="213.83" y2="271.10" stroke="#4cb040" stroke-width="0.8" stroke-opacity="0.9"/>
<line x1="214.90" y1="269.42" x2="214.90" y2="275.13" stroke="#4cb040" stroke-width="0.8" stroke-opacity="0.9"/>
<line x1="214.30" y1="272.27" x2="215.50" y2="272.27" stroke="#4cb040" stroke-width="0.8" stroke-opacity="0.9"/>
<line x1="216.45" y1="274.06" x2="216.45" y2="282.42" stroke="#4cb040" stroke-width="0.8" stroke-opacity="0.9"/>
<line x1="215.85" y1="278.24" x2="217.05" y2="278.24" stroke="#4cb040" stroke-width="0.8" stroke-opacity="0.9"/>
<line x1="218.54" y1="266.92" x2="218.54" y2="274.02" stroke="#4cb040" stroke-width="0.8" stroke-opacity="0.9"/>
<line x1="217.94" y1="270.47" x2="219.14" y2="270.47" stroke="#4cb040" stroke-width="0.8" stroke-opacity="0.9"/>
<line x1="220.95" y1="266.15" x2="220.95" y2="272.81" stroke="#4cb040" stroke-width="0.8" stroke-opacity="0.9"/>
<line x1="220.35" y1="269.48" x2="221.55" y2="269.48" stroke="#4cb040" stroke-width="0.8" stroke-opacity="0.9"/>
<line x1="222.91" y1="260.69" x2="222.91" y2="265.99" stroke="#4cb040" stroke-width="0.8" stroke-opacity="0.9"/>
<line x1="222.31" y1="263.34" x2="223.51" y2="263.34" stroke="#4cb040" stroke-width="0.8" stroke-opacity="0.9"/>
<line x1="224.95" y1="263.27" x2="224.95" y2="271.15" stroke="#4cb040" stroke-width="0.8" stroke-opacity="0.9"/>
<line x1="224.35" y1="267.21" x2="225.55" y2="267.21" stroke="#4cb040" stroke-width="0.8" stroke-opacity="0.9"/>
<line x1="226.60" y1="267.63" x2="226.60" y2="274.84" stroke="#4cb040" stroke-width="0.8" stroke-opacity="0.9"/>
<line x1="226.00" y1="271.24" x2="227.20" y2="271.24" stroke="#4cb040" stroke-width="0.8" stroke-opacity="0.9"/>
<line x1="228.96" y1="276.35" x2="228.96" y2="281.89" stroke="#4cb040" stroke-width="0.8" stroke-opacity="0.9"/>
<line x1="228.36" y1="279.12" x2="229.56" y2="279.12" stroke="#4cb040" stroke-width="0.8" stroke-opacity="0.9"/>
<line x1="230.94" y1="264.65" x2="230.94" y2="270.79" stroke="#4cb040" stroke-width="0.8" stroke-opacity="0.9"/>
<line x1="230.34" y1="267.72" x2="231.54" y2="267.72" stroke="#4cb040" stroke-width="0.8" stroke-opacity="0.9"/>
<line x1="232.94" y1="262.34" x2="232.94" y2="270.74" stroke="#4cb040" stroke-width="0.8" stroke-opacity="0.9"/>
<line x1="232.34" y1="266.54" x2="233.54" y2="266.54" stroke="#4cb040" stroke-width="0.8" stroke-opacity="0.9"/>
<line x1="192.70" y1="261.92" x2="192.70" y2="268.68" stroke="#4a68d4" stroke-width="0.8" stroke-opacity="0.9"/>
<line x1="192.10" y1="265.30" x2="193.30" y2="265.30" stroke="#4a68d4" stroke-width="0.8" stroke-opacity="0.9"/>
<line x1="195.00" y1="265.64" x2="195.00" y2="272.38" stroke="#4a68d4" stroke-width="0.8" stroke-opacity="0.9"/>
<line x1="194.40" y1="269.01" x2="195.60" y2="269.01" stroke="#4a68d4" stroke-width="0.8" stroke-opacity="0.9"/>
<line x1="196.82" y1="266.80" x2="196.82" y2="273.21" stroke="#4a68d4" stroke-width="0.8" stroke-opacity="0.9"/>
<line x1="196.22" y1="270.01" x2="197.42" y2="270.01" stroke="#4a68d4" stroke-width="0.8" stroke-opacity="0.9"/>
<line x1="199.41" y1="264.55" x2="199.41" y2="272.83" stroke="#4a68d4" stroke-width="0.8" stroke-opacity="0.9"/>
<line x1="198.81" y1="268.69" x2="200.01" y2="268.69" stroke="#4a68d4" stroke-width="0.8" stroke-opacity="0.9"/>
<line x1="201.60" y1="270.81" x2="201.60" y2="276.29" stroke="#4a68d4" stroke-width="0.8" stroke-opacity="0.9"/>
<line x1="201.00" y1="273.55" x2="202.20" y2="273.55" stroke="#4a68d4" stroke-width="0.8" stroke-opacity="0.9"/>
<line x1="203.40" y1="267.11" x2="203.40" y2="274.81" stroke="#4a68d4" stroke-width="0.8" stroke-opacity="0.9"/>
<line x1="202.80" y1="270.96" x2="204.00" y2="270.96" stroke="#4a68d4" stroke-width="0.8" stroke-opacity="0.9"/>
<line x1="205.85" y1="270.35" x2="205.85" y2="278.03" stroke="#4a68d4" stroke-width="0.8" stroke-opacity="0.9"/>
<line x1="205.25" y1="274.19" x2="206.45" y2="274.19" stroke="#4a68d4" stroke-width="0.8" stroke-opacity="0.9"/>
<line x1="208.12" y1="261.16" x2="208.12" y2="268.48" stroke="#4a68d4" stroke-width="0.8" stroke-opacity="0.9"/>
<line x1="207.52" y1="264.82" x2="208.72" y2="264.82" stroke="#4a68d4" stroke-width="0.8" stroke-opacity="0.9"/>
<line x1="210.45" y1="270.81" x2="210.45" y2="276.90" stroke="#4a68d4" stroke-width="0.8" stroke-opacity="0.9"/>
<line x1="209.85" y1="273.86" x2="211.05" y2="273.86" stroke="#4a68d4" stroke-width="0.8" stroke-opacity="0.9"/>
<line x1="212.49" y1="263.52" x2="212.49" y2="271.18" stroke="#4a68d4" stroke-width="0.8" stroke-opacity="0.9"/>
<line x1="211.89" y1="267.35" x2="213.09" y2="267.35" stroke="#4a68d4" stroke-width="0.8" stroke-opacity="0.9"/>
<line x1="214.75" y1="266.82" x2="214.75" y2="274.10" stroke="#4a68d4" stroke-width="0.8" stroke-opacity="0.9"/>
<line x1="214.15" y1="270.46" x2="215.35" y2="270.46" stroke="#4a68d4" stroke-width="0.8" stroke-opacity="0.9"/>
<line x1="216.89" y1="257.54" x2="216.89" y2="262.78" stroke="#4a68d4" stroke-width="0.8" stroke-opacity="0.9"/>
<line x1="216.29" y1="260.16" x2="217.49" y2="260.16" stroke="#4a68d4" stroke-width="0.8" stroke-opacity="0.9"/>
<line x1="218.99" y1="265.57" x2="218.99" y2="272.25" stroke="#4a68d4" stroke-width="0.8" stroke-opacity="0.9"/>
<line x1="218.39" y1="268.91" x2="219.59" y2="268.91" stroke="#4a68d4" stroke-width="0.8" stroke-opacity="0.9"/>
<line x1="221.39" y1="262.55" x2="221.39" y2="269.82" stroke="#4a68d4" stroke-width="0.8" stroke-opacity="0.9"/>
<line x1="220.79" y1="266.18" x2="221.99" y2="266.18" stroke="#4a68d4" stroke-width="0.8" stroke-opacity="0.9"/>
<line x1="223.76" y1="268.81" x2="223.76" y2="276.37" stroke="#4a68d4" stroke-width="0.8" stroke-opacity="0.9"/>
<line x1="223.16" y1="272.59" x2="224.36" y2="272.59" stroke="#4a68d4" stroke-width="0.8" stroke-opacity="0.9"/>
<line x1="226.17" y1="263.09" x2="226.17" y2="269.41" stroke="#4a68d4" stroke-width="0.8" stroke-opacity="0.9"/>
<line x1="225.57" y1="266.25" x2="226.77" y2="266.25" stroke="#4a68d4" stroke-width="0.8" stroke-opacity="0.9"/>
<line x1="228.60" y1="263.30" x2="228.60" y2="271.62" stroke="#4a68d4" stroke-width="0.8" stroke-opacity="0.9"/>
<line x1="228.00" y1="267.46" x2="229.20" y2="267.46" stroke="#4a68d4" stroke-width="0.8" stroke-opacity="0.9"/>
<line x1="231.15" y1="271.86" x2="231.15" y2="278.72" stroke="#4a68d4" stroke-width="0.8" stroke-opacity="0.9"/>
<line x1="230.55" y1="275.29" x2="231.75" y2="275.29" stroke="#4a68d4" stroke-width="0.8" stroke-opacity="0.9"/>
<line x1="233.24" y1="264.37" x2="233.24" y2="272.57" stroke="#4a68d4" stroke-width="0.8" stroke-opacity="0.9"/>
<line x1="232.64" y1="268.47" x2="233.84" y2="268.47" stroke="#4a68d4" stroke-width="0.8" stroke-opacity="0.9"/>
<line x1="235.26" y1="262.02" x2="235.26" y2="269.43" stroke="#4a68d4" stroke-width="0.8" stroke-opacity="0.9"/>
<line x1="234.66" y1="265.73" x2="235.86" y2="265.73" stroke="#4a68d4" stroke-width="0.8" stroke-opacity="0.9"/>
<line x1="193.00" y1="265.26" x2="193.00" y2="272.96" stroke="#e070a8" stroke-width="0.8" stroke-opacity="0.9"/>
<line x1="192.40" y1="269.11" x2="193.60" y2="269.11" stroke="#e070a8" stroke-width="0.8" stroke-opacity="0.9"/>
<line x1="195.14" y1="266.80" x2="195.14" y2="274.13" stroke="#e070a8" stroke-width="0.8" stroke-opacity="0.9"/>
<line x1="194.54" y1="270.46" x2="195.74" y2="270.46" stroke="#e070a8" stroke-width="0.8" stroke-opacity="0.9"/>
<line x1="197.10" y1="269.08" x2="197.10" y2="276.32" stroke="#e070a8" stroke-width="0.8" stroke-opacity="0.9"/>
<line x1="196.50" y1="272.70" x2="197.70" y2="272.70" stroke="#e070a8" stroke-width="0.8" stroke-opacity="0.9"/>
<line x1="199.39" y1="271.14" x2="199.39" y2="276.42" stroke="#e070a8" stroke-width="0.8" stroke-opacity="0.9"/>
<line x1="198.79" y1="273.78" x2="199.99" y2="273.78" stroke="#e070a8" stroke-width="0.8" stroke-opacity="0.9"/>
<line x1="201.07" y1="271.94" x2="201.07" y2="277.84" stroke="#e070a8" stroke-width="0.8" stroke-opacity="0.9"/>
<line x1="200.47" y1="274.89" x2="201.67" y2="274.89" stroke="#e070a8" stroke-width="0.8" stroke-opacity="0.9"/>
<line x1="203.32" y1="265.60" x2="203.32" y2="272.82" stroke="#e070a8" stroke-width="0.8" stroke-opacity="0.9"/>
<line x1="202.72" y1="269.21" x2="203.92" y2="269.21" stroke="#e070a8" stroke-width="0.8" stroke-opacity="0.9"/>
<line x1="204.87" y1="270.57" x2="204.87" y2="275.95" stroke="#e070a8" stroke-width="0.8" stroke-opacity="0.9"/>
<line x1="204.27" y1="273.26" x2="205.47" y2="273.26" stroke="#e070a8" stroke-width="0.8" stroke-opacity="0.9"/>
<line x1="206.52" y1="266.56" x2="206.52" y2="272.78" stroke="#e070a8" stroke-width="0.8" stroke-opacity="0.9"/>
<line x1="205.92" y1="269.67" x2="207.12" y2="269.67" stroke="#e070a8" stroke-width="0.8" stroke-opacity="0.9"/>
<line x1="208.22" y1="265.59" x2="208.22" y2="272.27" stroke="#e070a8" stroke-width="0.8" stroke-opacity="0.9"/>
<line x1="207.62" y1="268.93" x2="208.82" y2="268.93" stroke="#e070a8" stroke-width="0.8" stroke-opacity="0.9"/>
<line x1="210.14" y1="265.85" x2="210.14" y2="273.01" stroke="#e070a8" stroke-width="0.8" stroke-opacity="0.9"/>
<line x1="209.54" y1="269.43" x2="210.74" y2="269.43" stroke="#e070a8" stroke-width="0.8" stroke-opacity="0.9"/>
<line x1="212.28" y1="268.37" x2="212.28" y2="273.58" stroke="#e070a8" stroke-width="0.8" stroke-opacity="0.9"/>
<line x1="211.68" y1="270.97" x2="212.88" y2="270.97" stroke="#e070a8" stroke-width="0.8" stroke-opacity="0.9"/>
<line x1="214.23" y1="258.74" x2="214.23" y2="264.83" stroke="#e070a8" stroke-width="0.8" stroke-opacity="0.9"/>
<line x1="213.63" y1="261.78" x2="214.83" y2="261.78" stroke="#e070a8" stroke-width="0.8" stroke-opacity="0.9"/>
<line x1="216.18" y1="259.82" x2="216.18" y2="266.22" stroke="#e070a8" stroke-width="0.8" stroke-opacity="0.9"/>
<line x1="215.58" y1="263.02" x2="216.78" y2="263.02" stroke="#e070a8" stroke-width="0.8" stroke-opacity="0.9"/>
<line x1="217.72" y1="260.33" x2="217.72" y2="267.50" stroke="#e070a8" stroke-width="0.8" stroke-opacity="0.9"/>
<line x1="217.12" y1="263.92" x2="218.32" y2="263.92" stroke="#e070a8" stroke-width="0.8" stroke-opacity="0.9"/>
<line x1="219.33" y1="268.61" x2="219.33" y2="275.67" stroke="#e070a8" stroke-width="0.8" stroke-opacity="0.9"/>
<line x1="218.73" y1="272.14" x2="219.93" y2="272.14" stroke="#e070a8" stroke-width="0.8" stroke-opacity="0.9"/>
<line x1="221.88" y1="267.82" x2="221.88" y2="275.64" stroke="#e070a8" stroke-width="0.8" stroke-opacity="0.9"/>
<line x1="221.28" y1="271.73" x2="222.48" y2="271.73" stroke="#e070a8" stroke-width="0.8" stroke-opacity="0.9"/>
<line x1="223.84" y1="264.76" x2="223.84" y2="271.14" stroke="#e070a8" stroke-width="0.8" stroke-opacity="0.9"/>
<line x1="223.24" y1="267.95" x2="224.44" y2="267.95" stroke="#e070a8" stroke-width="0.8" stroke-opacity="0.9"/>
<line x1="225.50" y1="270.79" x2="225.50" y2="277.89" stroke="#e070a8" stroke-width="0.8" stroke-opacity="0.9"/>
<line x1="224.90" y1="274.34" x2="226.10" y2="274.34" stroke="#e070a8" stroke-width="0.8" stroke-opacity="0.9"/>
<line x1="227.62" y1="258.64" x2="227.62" y2="265.79" stroke="#e070a8" stroke-width="0.8" stroke-opacity="0.9"/>
<line x1="227.02" y1="262.22" x2="228.22" y2="262.22" stroke="#e070a8" stroke-width="0.8" stroke-opacity="0.9"/>
<line x1="229.50" y1="269.46" x2="229.50" y2="277.52" stroke="#e070a8" stroke-width="0.8" stroke-opacity="0.9"/>
<line x1="228.90" y1="273.49" x2="230.10" y2="273.49" stroke="#e070a8" stroke-width="0.8" stroke-opacity="0.9"/>
<line x1="231.00" y1="264.61" x2="231.00" y2="271.78" stroke="#e070a8" stroke-width="0.8" stroke-opacity="0.9"/>
<line x1="230.40" y1="268.19" x2="231.60" y2="268.19" stroke="#e070a8" stroke-width="0.8" stroke-opacity="0.9"/>
<line x1="232.66" y1="265.48" x2="232.66" y2="272.69" stroke="#e070a8" stroke-width="0.8" stroke-opacity="0.9"/>
<line x1="232.06" y1="269.09" x2="233.26" y2="269.09" stroke="#e070a8" stroke-width="0.8" stroke-opacity="0.9"/>
<line x1="235.14" y1="270.79" x2="235.14" y2="276.71" stroke="#e070a8" stroke-width="0.8" stroke-opacity="0.9"/>
<line x1="234.54" y1="273.75" x2="235.74" y2="273.75" stroke="#e070a8" stroke-width="0.8" stroke-opacity="0.9"/>
<line x1="235.80" y1="264.38" x2="235.80" y2="270.71" stroke="#6a90dc" stroke-width="0.8"/>
<line x1="234.90" y1="267.54" x2="236.70" y2="267.54" stroke="#6a90dc" stroke-width="0.8"/>
<line x1="237.57" y1="261.10" x2="237.57" y2="266.53" stroke="#6a90dc" stroke-width="0.8"/>
<line x1="236.67" y1="263.81" x2="238.47" y2="263.81" stroke="#6a90dc" stroke-width="0.8"/>
<line x1="239.25" y1="267.78" x2="239.25" y2="274.14" stroke="#6a90dc" stroke-width="0.8"/>
<line x1="238.35" y1="270.96" x2="240.15" y2="270.96" stroke="#6a90dc" stroke-width="0.8"/>
<line x1="241.10" y1="268.37" x2="241.10" y2="274.73" stroke="#6a90dc" stroke-width="0.8"/>
<line x1="240.20" y1="271.55" x2="242.00" y2="271.55" stroke="#6a90dc" stroke-width="0.8"/>
<line x1="242.94" y1="266.01" x2="242.94" y2="270.69" stroke="#6a90dc" stroke-width="0.8"/>
<line x1="242.04" y1="268.35" x2="243.84" y2="268.35" stroke="#6a90dc" stroke-width="0.8"/>
<line x1="244.77" y1="264.32" x2="244.77" y2="269.39" stroke="#6a90dc" stroke-width="0.8"/>
<line x1="243.87" y1="266.86" x2="245.67" y2="266.86" stroke="#6a90dc" stroke-width="0.8"/>
<line x1="246.48" y1="264.02" x2="246.48" y2="269.90" stroke="#6a90dc" stroke-width="0.8"/>
<line x1="245.58" y1="266.96" x2="247.38" y2="266.96" stroke="#6a90dc" stroke-width="0.8"/>
<line x1="248.56" y1="263.93" x2="248.56" y2="268.59" stroke="#6a90dc" stroke-width="0.8"/>
<line x1="247.66" y1="266.26" x2="249.46" y2="266.26" stroke="#6a90dc" stroke-width="0.8"/>
<line x1="250.71" y1="266.32" x2="250.71" y2="272.20" stroke="#6a90dc" stroke-width="0.8"/>
<line x1="249.81" y1="269.26" x2="251.61" y2="269.26" stroke="#6a90dc" stroke-width="0.8"/>
<line x1="252.38" y1="266.52" x2="252.38" y2="272.89" stroke="#6a90dc" stroke-width="0.8"/>
<line x1="251.48" y1="269.71" x2="253.28" y2="269.71" stroke="#6a90dc" stroke-width="0.8"/>
<line x1="254.09" y1="265.27" x2="254.09" y2="270.73" stroke="#6a90dc" stroke-width="0.8"/>
<line x1="253.19" y1="268.00" x2="254.99" y2="268.00" stroke="#6a90dc" stroke-width="0.8"/>
<line x1="255.92" y1="268.87" x2="255.92" y2="274.65" stroke="#6a90dc" stroke-width="0.8"/>
<line x1="255.02" y1="271.76" x2="256.82" y2="271.76" stroke="#6a90dc" stroke-width="0.8"/>
<line x1="257.50" y1="269.48" x2="257.50" y2="275.31" stroke="#6a90dc" stroke-width="0.8"/>
<line x1="256.60" y1="272.40" x2="258.40" y2="272.40" stroke="#6a90dc" stroke-width="0.8"/>
<line x1="259.21" y1="269.54" x2="259.21" y2="274.25" stroke="#6a90dc" stroke-width="0.8"/>
<line x1="258.31" y1="271.89" x2="260.11" y2="271.89" stroke="#6a90dc" stroke-width="0.8"/>
<line x1="261.09" y1="267.48" x2="261.09" y2="272.59" stroke="#6a90dc" stroke-width="0.8"/>
<line x1="260.19" y1="270.04" x2="261.99" y2="270.04" stroke="#6a90dc" stroke-width="0.8"/>
<line x1="262.84" y1="267.60" x2="262.84" y2="271.69" stroke="#6a90dc" stroke-width="0.8"/>
<line x1="261.94" y1="269.65" x2="263.74" y2="269.65" stroke="#6a90dc" stroke-width="0.8"/>
<line x1="264.51" y1="270.55" x2="264.51" y2="275.64" stroke="#6a90dc" stroke-width="0.8"/>
<line x1="263.61" y1="273.09" x2="265.41" y2="273.09" stroke="#6a90dc" stroke-width="0.8"/>
<line x1="262.30" y1="261.18" x2="262.30" y2="266.81" stroke="#b15ad0" stroke-width="0.8"/>
<line x1="261.30" y1="263.99" x2="263.30" y2="263.99" stroke="#b15ad0" stroke-width="0.8"/>
<line x1="263.91" y1="262.45" x2="263.91" y2="267.73" stroke="#b15ad0" stroke-width="0.8"/>
<line x1="262.91" y1="265.09" x2="264.91" y2="265.09" stroke="#b15ad0" stroke-width="0.8"/>
<line x1="265.97" y1="262.84" x2="265.97" y2="268.74" stroke="#b15ad0" stroke-width="0.8"/>
<line x1="264.97" y1="265.79" x2="266.97" y2="265.79" stroke="#b15ad0" stroke-width="0.8"/>
<line x1="267.96" y1="261.18" x2="267.96" y2="266.33" stroke="#b15ad0" stroke-width="0.8"/>
<line x1="266.96" y1="263.76" x2="268.96" y2="263.76" stroke="#b15ad0" stroke-width="0.8"/>
<line x1="269.87" y1="262.06" x2="269.87" y2="266.65" stroke="#b15ad0" stroke-width="0.8"/>
<line x1="268.87" y1="264.35" x2="270.87" y2="264.35" stroke="#b15ad0" stroke-width="0.8"/>
<line x1="271.71" y1="262.47" x2="271.71" y2="266.67" stroke="#b15ad0" stroke-width="0.8"/>
<line x1="270.71" y1="264.57" x2="272.71" y2="264.57" stroke="#b15ad0" stroke-width="0.8"/>
<line x1="273.98" y1="263.28" x2="273.98" y2="268.57" stroke="#b15ad0" stroke-width="0.8"/>
<line x1="272.98" y1="265.92" x2="274.98" y2="265.92" stroke="#b15ad0" stroke-width="0.8"/>
<line x1="275.81" y1="261.70" x2="275.81" y2="268.43" stroke="#b15ad0" stroke-width="0.8"/>
<line x1="274.81" y1="265.06" x2="276.81" y2="265.06" stroke="#b15ad0" stroke-width="0.8"/>
<line x1="278.70" y1="273.80" x2="288.20" y2="273.80" stroke="#5c9c5c" stroke-width="0.85"/>
<line x1="283.45" y1="270.30" x2="283.45" y2="277.30" stroke="#5c9c5c" stroke-width="0.8"/>
<line x1="280.00" y1="275.10" x2="293.60" y2="275.10" stroke="#e8884c" stroke-width="0.85"/>
<line x1="286.80" y1="271.60" x2="286.80" y2="278.60" stroke="#e8884c" stroke-width="0.8"/>
<line x1="288.20" y1="273.00" x2="297.70" y2="273.00" stroke="#5c9c5c" stroke-width="0.85"/>
<line x1="292.95" y1="269.50" x2="292.95" y2="276.50" stroke="#5c9c5c" stroke-width="0.8"/>
<line x1="299.00" y1="269.70" x2="335.70" y2="269.70" stroke="#e8884c" stroke-width="0.85"/>
<line x1="317.35" y1="266.20" x2="317.35" y2="273.20" stroke="#e8884c" stroke-width="0.8"/>
<line x1="299.00" y1="271.10" x2="312.60" y2="271.10" stroke="#5c9c5c" stroke-width="0.85"/>
<line x1="305.80" y1="267.60" x2="305.80" y2="274.60" stroke="#5c9c5c" stroke-width="0.8"/>
<line x1="307.20" y1="274.60" x2="326.20" y2="274.60" stroke="#5c9c5c" stroke-width="0.85"/>
<line x1="316.70" y1="271.10" x2="316.70" y2="278.10" stroke="#5c9c5c" stroke-width="0.8"/>
<line x1="326.20" y1="272.40" x2="349.30" y2="272.40" stroke="#5c9c5c" stroke-width="0.85"/>
<line x1="337.75" y1="268.90" x2="337.75" y2="275.90" stroke="#5c9c5c" stroke-width="0.8"/>
<line x1="334.30" y1="273.00" x2="347.90" y2="273.00" stroke="#e8884c" stroke-width="0.85"/>
<line x1="341.10" y1="269.50" x2="341.10" y2="276.50" stroke="#e8884c" stroke-width="0.8"/>
<polyline points="191.50,11.00 193.72,11.06 196.89,11.16 200.00,11.30 202.70,11.47 205.35,11.69 208.00,12.00 210.78,12.42 213.56,12.93 216.00,13.50 217.89,14.04 219.44,14.63 221.00,15.50 222.70,16.76 224.41,18.30 226.00,20.00 227.43,21.89 228.74,23.94 230.00,26.00 231.33,28.22 232.61,30.44 233.50,32.00" fill="none" stroke="#f2913f" stroke-width="0.75" stroke-opacity="0.95"/>
<polyline points="191.50,12.25 193.72,12.31 196.89,12.41 200.00,12.55 202.70,12.71 205.35,12.92 208.00,13.25 210.78,13.74 213.56,14.34 216.00,15.00 217.89,15.62 219.44,16.30 221.00,17.25 222.70,18.60 224.41,20.23 226.00,22.00 227.43,23.91 228.74,25.95 230.00,28.00 231.33,30.22 232.61,32.44 233.50,34.00" fill="none" stroke="#f2913f" stroke-width="0.75" stroke-opacity="0.95"/>
<polyline points="191.50,13.50 193.72,13.56 196.89,13.66 200.00,13.80 202.70,13.96 205.35,14.16 208.00,14.50 210.78,15.05 213.56,15.75 216.00,16.50 217.89,17.20 219.44,17.96 221.00,19.00 222.70,20.44 224.41,22.17 226.00,24.00 227.43,25.93 228.74,27.96 230.00,30.00 231.33,32.22 232.61,34.44 233.50,36.00" fill="none" stroke="#f2913f" stroke-width="0.75" stroke-opacity="0.95"/>
<polyline points="191.50,14.50 192.69,14.03 194.37,13.36 196.00,12.80 197.33,12.40 198.61,12.10 200.00,12.00 201.59,12.13 203.30,12.45 205.00,13.00 206.67,13.83 208.33,14.89 210.00,16.00 211.67,17.09 213.33,18.24 215.00,19.50 216.67,20.89 218.33,22.39 220.00,24.00 221.70,25.74 223.41,27.59 225.00,29.50 226.44,31.44 227.78,33.44 229.00,35.50 230.11,37.65 231.11,39.85 232.00,42.00 232.81,44.26 233.52,46.46 234.00,48.00" fill="none" stroke="#f2913f" stroke-width="0.75" stroke-opacity="0.95"/>
<polyline points="191.50,16.81 192.69,16.13 194.37,15.17 196.00,14.35 197.33,13.78 198.61,13.34 200.00,13.15 201.59,13.25 203.30,13.59 205.00,14.15 206.67,14.99 208.33,16.04 210.00,17.16 211.67,18.25 213.33,19.40 215.00,20.66 216.67,22.04 218.33,23.54 220.00,25.16 221.70,26.90 223.41,28.75 225.00,30.66 226.44,32.61 227.78,34.61 229.00,36.66 230.11,38.76 231.11,40.90 232.00,42.99 232.81,45.20 233.52,47.35 234.00,48.86" fill="none" stroke="#f2913f" stroke-width="0.75" stroke-opacity="0.95"/>
<polyline points="191.50,19.12 192.69,18.23 194.37,16.97 196.00,15.90 197.33,15.15 198.61,14.59 200.00,14.31 201.59,14.38 203.30,14.73 205.00,15.31 206.67,16.14 208.33,17.20 210.00,18.31 211.67,19.40 213.33,20.55 215.00,21.81 216.67,23.20 218.33,24.70 220.00,26.31 221.70,28.05 223.41,29.90 225.00,31.81 226.44,33.77 227.78,35.78 229.00,37.81 230.11,39.87 231.11,41.95 232.00,43.98 232.81,46.14 233.52,48.24 234.00,49.72" fill="none" stroke="#f2913f" stroke-width="0.75" stroke-opacity="0.95"/>
<polyline points="191.50,21.50 192.69,20.39 194.37,18.83 196.00,17.50 197.33,16.57 198.61,15.87 200.00,15.50 201.59,15.54 203.30,15.91 205.00,16.50 206.67,17.33 208.33,18.39 210.00,19.50 211.67,20.59 213.33,21.74 215.00,23.00 216.67,24.39 218.33,25.89 220.00,27.50 221.70,29.24 223.41,31.09 225.00,33.00 226.44,34.96 227.78,36.98 229.00,39.00 230.11,41.01 231.11,43.03 232.00,45.00 232.81,47.10 233.52,49.16 234.00,50.60" fill="none" stroke="#f2913f" stroke-width="0.75" stroke-opacity="0.95"/>
<polyline points="231.00,42.00 231.36,44.00 231.88,46.89 232.40,50.00 232.87,53.11 233.33,56.44 233.80,60.00 234.27,63.78 234.75,67.78 235.20,72.00 235.62,76.52 236.01,81.26 236.40,86.00 236.77,90.70 237.14,95.41 237.50,100.00 237.87,104.41 238.24,108.70 238.60,113.00 238.98,117.81 239.34,122.63 239.60,126.00" fill="none" stroke="#f8a55e" stroke-width="0.8" stroke-dasharray="1,1" stroke-opacity="0.85"/>
<polyline points="233.00,47.00 233.37,49.81 233.90,53.85 234.40,58.00 234.82,61.93 235.22,65.96 235.60,70.00 235.95,73.93 236.27,77.85 236.60,82.00 236.93,86.44 237.25,91.11 237.60,96.00 237.99,101.26 238.40,106.74 238.80,112.00 239.21,117.33 239.62,122.44 239.90,126.00" fill="none" stroke="#f8a55e" stroke-width="0.8" stroke-dasharray="1,1" stroke-opacity="0.85"/>
<polyline points="234.90,37.30 250.00,47.40 266.00,58.20 271.00,61.40" fill="none" stroke="#f8a55e" stroke-width="1.0"/>
<line x1="279.6" y1="67.2" x2="288.6" y2="67.2" stroke="#f8a55e" stroke-width="3.2" stroke-opacity="0.75" stroke-dasharray="0.7,1.3"/>
<line x1="279.6" y1="65.8" x2="288.6" y2="65.8" stroke="#f8a55e" stroke-width="0.6" stroke-dasharray="1,1"/>
<line x1="288.6" y1="74.8" x2="297.9" y2="74.8" stroke="#f8a55e" stroke-width="3.2" stroke-opacity="0.75" stroke-dasharray="0.7,1.3"/>
<line x1="288.6" y1="73.39999999999999" x2="297.9" y2="73.39999999999999" stroke="#f8a55e" stroke-width="0.6" stroke-dasharray="1,1"/>
<line x1="297.9" y1="82.5" x2="307.2" y2="82.5" stroke="#f8a55e" stroke-width="3.2" stroke-opacity="0.75" stroke-dasharray="0.7,1.3"/>
<line x1="297.9" y1="81.1" x2="307.2" y2="81.1" stroke="#f8a55e" stroke-width="0.6" stroke-dasharray="1,1"/>
<line x1="307.6" y1="100.5" x2="326.3" y2="100.5" stroke="#f8a55e" stroke-width="3.2" stroke-opacity="0.75" stroke-dasharray="0.7,1.3"/>
<line x1="307.6" y1="99.1" x2="326.3" y2="99.1" stroke="#f8a55e" stroke-width="0.6" stroke-dasharray="1,1"/>
<polyline points="32.60,214.30 32.60,214.30 32.58,214.34 32.67,214.14 33.00,213.40 33.66,211.92 34.56,209.89 35.55,207.64 36.50,205.50 37.36,203.55 38.22,201.61 39.09,199.64 40.00,197.60 40.96,195.47 41.96,193.26 42.98,191.03 44.00,188.80 45.04,186.55 46.09,184.28 47.13,182.04 48.10,179.90 48.98,177.89 49.80,175.96 50.59,174.08 51.40,172.20 52.21,170.32 53.00,168.46 53.82,166.60 54.70,164.70 55.67,162.72 56.70,160.69 57.76,158.69 58.80,156.80 59.87,154.97 60.97,153.18 62.02,151.55 62.90,150.20 63.57,149.21 64.08,148.51 64.53,147.95 65.00,147.40 65.51,146.82 66.02,146.29 66.52,145.82 67.00,145.40 67.47,145.05 67.92,144.75 68.37,144.50 68.80,144.30 69.21,144.13 69.61,144.01 70.00,143.93 70.40,143.90 70.82,143.93 71.24,144.02 71.67,144.15 72.10,144.30 72.49,144.45 72.84,144.62 73.28,144.86 73.90,145.20 74.74,145.68 75.74,146.27 76.87,146.92 78.10,147.60 79.34,148.24 80.62,148.89 82.14,149.64 84.10,150.60 86.63,151.85 89.61,153.31 92.81,154.86 96.00,156.40 98.99,157.82 101.93,159.20 105.16,160.71 109.00,162.50 113.71,164.70 119.06,167.19 124.63,169.79 130.00,172.30 135.07,174.68 140.06,177.03 145.02,179.36 150.00,181.70 154.98,184.04 159.94,186.37 164.93,188.72 170.00,191.10 175.67,193.75 181.75,196.59 187.20,199.13 191.00,200.90" fill="none" stroke="#f8a55e" stroke-width="1.2"/>
<polyline points="191.00,207.18 191.25,206.80 191.50,206.41 191.75,206.02 192.00,205.63 192.25,205.24 192.50,204.85 192.75,204.46 193.00,204.07 193.25,203.68 193.50,203.28 193.75,202.88 194.00,202.49 194.25,202.09 194.50,201.69 194.75,201.29 195.00,200.88 195.25,200.48 195.50,200.08 195.75,199.67 196.00,199.26 196.25,198.85 196.50,198.44 196.75,198.02 197.00,197.61 197.25,197.19 197.50,196.77 197.75,196.35 198.00,195.93 198.25,195.50 198.50,195.07 198.75,194.64 199.00,194.21 199.25,193.78 199.50,193.34 199.75,192.90 200.00,192.46 200.25,192.01 200.50,191.56 200.75,191.11 201.00,190.66 201.25,190.20 201.50,189.74 201.75,189.27 202.00,188.81 202.25,188.33 202.50,187.86 202.75,187.38 203.00,186.89 203.25,186.40 203.50,185.91 203.75,185.42 204.00,184.91 204.25,184.41 204.50,183.90 204.75,183.38 205.00,182.86 205.25,182.33 205.50,181.80 205.75,181.27 206.00,180.73 206.25,180.18 206.50,179.63 206.75,179.07 207.00,178.51 207.25,177.94 207.50,177.37 207.75,176.79 208.00,176.21 208.25,175.62 208.50,175.02 208.75,174.43 209.00,173.82 209.25,173.22 209.50,172.60 209.75,171.99 210.00,171.37 210.25,170.75 210.50,170.12 210.75,169.49 211.00,168.86 211.25,168.23 211.50,167.59 211.75,166.96 212.00,166.32 212.25,165.68 212.50,165.05 212.75,164.41 213.00,163.78 213.25,163.15 213.50,162.53 213.75,161.91 214.00,161.29 214.25,160.68 214.50,160.07 214.75,159.47 215.00,158.89 215.25,158.31 215.50,157.74 215.75,157.18 216.00,156.63 216.25,156.09 216.50,155.57 216.75,155.06 217.00,154.57 217.25,154.10 217.50,153.64 217.75,153.20 218.00,152.77 218.25,152.37 218.50,151.99 218.75,151.62 219.00,151.28 219.25,150.96 219.50,150.66 219.75,150.39 220.00,150.14 220.25,149.91 220.50,149.70 220.75,149.52 221.00,149.35 221.25,149.21 221.50,149.10 221.75,149.00 222.00,148.92 222.25,148.86 222.50,148.82 222.75,148.79 223.00,148.78 223.25,148.78 223.50,148.79 223.75,148.81 224.00,148.84 224.25,148.87 224.50,148.90 224.75,148.94 225.00,148.96 225.25,148.99 225.50,149.00 225.75,149.01 226.00,149.00 226.25,148.98 226.50,148.95 226.75,148.90 227.00,148.83 227.25,148.74 227.50,148.64 227.75,148.51 228.00,148.37 228.25,148.21 228.50,148.04 228.75,147.85 229.00,147.64 229.25,147.42 229.50,147.19 229.75,146.94 230.00,146.69 230.25,146.43 230.50,146.16 230.75,145.89 231.00,145.61 231.25,145.33 231.50,145.05 231.75,144.77 232.00,144.49 232.25,144.21 232.50,143.93 232.75,143.65 233.00,143.37 233.25,143.10 233.50,142.83 233.75,142.57 234.00,142.30 234.25,142.05 234.50,141.79 234.75,141.54 235.00,141.30 235.25,141.06 235.50,140.83 235.75,140.60 236.00,140.38 236.25,140.16 236.50,139.95 236.75,139.74 237.00,139.54 237.25,139.35 237.50,139.16 237.75,138.99 238.00,138.81 238.25,138.65 238.50,138.49 238.75,138.34 239.00,138.19 239.25,138.06 239.50,137.93 239.75,137.81 240.00,137.70 240.25,137.60 240.50,137.50 240.75,137.42 241.00,137.35 241.25,137.28 241.50,137.23 241.75,137.18 242.00,137.15 242.25,137.12 242.50,137.11 242.75,137.11 243.00,137.12 243.25,137.14 243.50,137.18 243.75,137.23 244.00,137.29 244.25,137.36 244.50,137.45 244.75,137.55 245.00,137.67 245.25,137.80 245.50,137.94 245.75,138.11 246.00,138.28 246.25,138.48 246.50,138.69 246.75,138.91 247.00,139.16 247.25,139.42 247.50,139.70 247.75,139.99 248.00,140.27 248.25,140.56 248.50,140.84 248.75,141.13 249.00,141.41 249.25,141.69 249.50,141.98 249.75,142.26 250.00,142.54 250.25,142.82 250.50,143.10 250.75,143.38 251.00,143.66 251.25,143.94 251.50,144.22 251.75,144.50 252.00,144.78 252.25,145.06 252.50,145.33 252.75,145.61 253.00,145.89 253.25,146.16 253.50,146.44 253.75,146.71 254.00,146.99 254.25,147.26 254.50,147.53 254.75,147.80 255.00,148.08 255.25,148.35 255.50,148.62 255.75,148.89 256.00,149.16 256.25,149.42 256.50,149.69 256.75,149.96 257.00,150.23 257.25,150.49 257.50,150.76 257.75,151.02 258.00,151.28 258.25,151.55 258.50,151.81 258.75,152.07 259.00,152.33 259.25,152.59 259.50,152.85 259.75,153.11 260.00,153.37 260.25,153.62 260.50,153.88 260.75,154.13 261.00,154.39 261.25,154.64 261.50,154.89 261.75,155.14 262.00,155.39 262.25,155.64 262.50,155.89 262.75,156.14 263.00,156.39 263.25,156.63 263.50,156.88 263.75,157.12 264.00,157.36 264.25,157.61 264.50,157.85 264.75,158.09 265.00,158.33 265.25,158.56 265.50,158.80 265.75,159.03 266.00,159.27 266.25,159.50 266.50,159.73 266.75,159.96 267.00,160.19 267.25,160.42 267.50,160.65 267.75,160.88 268.00,161.10 268.25,161.32 268.50,161.55 268.75,161.77 269.00,161.99 269.25,162.20 269.50,162.42 269.75,162.64 270.00,162.85 270.25,163.07 270.50,163.28 270.75,163.49 271.00,163.70 271.25,163.90 271.50,164.11 271.75,164.31 272.00,164.52 272.25,164.72 272.50,164.92 272.75,165.12 273.00,165.31 273.25,165.51 273.50,165.70 273.75,165.90 274.00,166.09 274.25,166.28 274.50,166.47 274.75,166.65 275.00,166.84 275.25,167.02 275.50,167.20 275.75,167.38 276.00,167.56 276.25,167.74 276.50,167.91 276.75,168.08 277.00,168.25 277.25,168.42 277.50,168.59 277.75,168.76 278.00,168.92 278.25,169.09 278.50,169.25 278.75,169.41 279.00,169.57 279.25,169.72 279.50,169.88 279.75,170.03 280.00,170.18 280.25,170.33 280.50,170.47 280.75,170.62 281.00,170.76 281.25,170.91 281.50,171.05 281.75,171.18 282.00,171.32 282.25,171.45 282.50,171.59 282.75,171.72 283.00,171.85 283.25,171.97 283.50,172.10 283.75,172.22 284.00,172.35 284.25,172.47 284.50,172.58 284.75,172.70 285.00,172.82 285.25,172.93 285.50,173.04 285.75,173.15 286.00,173.26 286.25,173.36 286.50,173.47 286.75,173.57 287.00,173.67 287.25,173.77 287.50,173.87 287.75,173.97 288.00,174.06 288.25,174.15 288.50,174.24 288.75,174.33 289.00,174.42 289.25,174.51 289.50,174.59 289.75,174.68 290.00,174.76 290.25,174.84 290.50,174.92 290.75,175.00 291.00,175.07 291.25,175.15 291.50,175.22 291.75,175.29 292.00,175.36 292.25,175.43 292.50,175.50 292.75,175.57 293.00,175.63 293.25,175.70 293.50,175.76 293.75,175.82 294.00,175.88 294.25,175.94 294.50,176.00 294.75,176.06 295.00,176.12 295.25,176.18 295.50,176.23 295.75,176.29 296.00,176.34 296.25,176.39 296.50,176.45 296.75,176.50 297.00,176.55 297.25,176.60 297.50,176.65 297.75,176.70 298.00,176.75 298.25,176.80 298.50,176.85 298.75,176.90 299.00,176.95 299.25,177.00 299.50,177.05 299.75,177.10 300.00,177.15 300.25,177.20 300.50,177.25 300.75,177.30 301.00,177.35 301.25,177.40 301.50,177.45 301.75,177.51 302.00,177.56 302.25,177.61 302.50,177.67 302.75,177.72 303.00,177.78 303.25,177.84 303.50,177.90 303.75,177.96 304.00,178.02 304.25,178.08 304.50,178.15 304.75,178.22 305.00,178.28 305.25,178.35 305.50,178.43 305.75,178.50 306.00,178.58 306.25,178.66 306.50,178.74 306.75,178.82 307.00,178.91 307.25,179.00 307.50,179.09 307.75,179.18 308.00,179.28 308.25,179.38 308.50,179.49 308.75,179.60 309.00,179.71 309.25,179.83 309.50,179.95 309.75,180.07 310.00,180.20 310.25,180.33 310.50,180.47 310.75,180.61 311.00,180.76 311.25,180.91 311.50,181.07 311.75,181.23 312.00,181.40 312.25,181.58 312.50,181.76 312.75,181.94 313.00,182.14 313.25,182.34 313.50,182.54 313.75,182.76 314.00,182.98 314.25,183.21 314.50,183.45 314.75,183.69 315.00,183.94 315.25,184.20 315.50,184.47 315.75,184.75 316.00,185.04 316.25,185.34 316.50,185.64 316.75,185.96 317.00,186.28 317.25,186.62 317.50,186.97 317.75,187.33 318.00,187.70 318.25,188.08 318.50,188.47 318.75,188.88 319.00,189.30 319.25,189.73 319.50,190.17 319.75,190.63 320.00,191.10 320.25,191.58 320.50,192.08 320.75,192.60 321.00,193.13 321.25,193.67 321.50,194.23 321.75,194.80 322.00,195.39 322.25,196.00 322.50,196.62 322.75,197.26 323.00,197.92 323.25,198.60 323.50,199.29 323.75,200.00 324.00,200.73 324.25,201.48 324.50,202.24 324.75,203.03 325.00,203.83 325.25,204.65 325.50,205.49 325.75,206.35 326.00,207.22 326.25,208.12 326.50,209.03 326.75,209.97 327.00,210.92 327.25,211.88 327.50,212.87 327.75,213.87 328.00,214.89 328.25,215.92 328.50,216.96 328.75,218.02 329.00,219.09 329.25,220.18 329.50,221.27 329.75,222.37 330.00,223.47 330.25,224.59 330.50,225.70 330.75,226.82 331.00,227.93 331.25,229.04 331.50,230.15 331.75,231.25 332.00,232.34 332.25,233.41 332.50,234.47 332.75,235.51 333.00,236.54 333.25,237.53 333.50,238.51 333.75,239.46 334.00,240.38 334.25,241.27 334.50,242.13 334.75,242.96 335.00,243.76 335.25,244.52 335.50,245.25 335.75,245.95 336.00,246.61 336.25,247.25 336.50,247.85 336.75,248.42 337.00,248.97 337.25,249.49 337.50,249.99 337.75,250.46 338.00,250.92 338.25,251.35 338.50,251.50" fill="none" stroke="#f8a55e" stroke-width="1.0"/>
<polyline points="191.00,212.80 191.25,212.36 191.50,211.92 191.75,211.48 192.00,211.04 192.25,210.60 192.50,210.16 192.75,209.72 193.00,209.27 193.25,208.83 193.50,208.39 193.75,207.95 194.00,207.51 194.25,207.07 194.50,206.63 194.75,206.19 195.00,205.75 195.25,205.31 195.50,204.87 195.75,204.43 196.00,203.99 196.25,203.55 196.50,203.12 196.75,202.68 197.00,202.24 197.25,201.80 197.50,201.36 197.75,200.92 198.00,200.48 198.25,200.04 198.50,199.60 198.75,199.16 199.00,198.73 199.25,198.29 199.50,197.85 199.75,197.41 200.00,196.97 200.25,196.54 200.50,196.10 200.75,195.66 201.00,195.22 201.25,194.78 201.50,194.35 201.75,193.91 202.00,193.47 202.25,193.04 202.50,192.60 202.75,192.16 203.00,191.73 203.25,191.29 203.50,190.85 203.75,190.42 204.00,189.98 204.25,189.55 204.50,189.11 204.75,188.68 205.00,188.24 205.25,187.81 205.50,187.37 205.75,186.94 206.00,186.51 206.25,186.07 206.50,185.64 206.75,185.21 207.00,184.77 207.25,184.34 207.50,183.91 207.75,183.48 208.00,183.04 208.25,182.61 208.50,182.18 208.75,181.75 209.00,181.32 209.25,180.89 209.50,180.46 209.75,180.03 210.00,179.60 210.25,179.17 210.50,178.74 210.75,178.31 211.00,177.89 211.25,177.46 211.50,177.03 211.75,176.61 212.00,176.18 212.25,175.75 212.50,175.33 212.75,174.90 213.00,174.48 213.25,174.06 213.50,173.63 213.75,173.21 214.00,172.79 214.25,172.37 214.50,171.94 214.75,171.52 215.00,171.10 215.25,170.69 215.50,170.27 215.75,169.85 216.00,169.43 216.25,169.01 216.50,168.60 216.75,168.18 217.00,167.77 217.25,167.36 217.50,166.94 217.75,166.53 218.00,166.12 218.25,165.71 218.50,165.30 218.75,164.89 219.00,164.48 219.25,164.08 219.50,163.67 219.75,163.27 220.00,162.86 220.25,162.46 220.50,162.06 220.75,161.66 221.00,161.26 221.25,160.86 221.50,160.46 221.75,160.07 222.00,159.67 222.25,159.28 222.50,158.89 222.75,158.50 223.00,158.11 223.25,157.72 223.50,157.34 223.75,156.95 224.00,156.57 224.25,156.19 224.50,155.81 224.75,155.43 225.00,155.05 225.25,154.68 225.50,154.31 225.75,153.94 226.00,153.57 226.25,153.20 226.50,152.84 226.75,152.48 227.00,152.11 227.25,151.76 227.50,151.40 227.75,151.05 228.00,150.70 228.25,150.35 228.50,150.00 228.75,149.66 229.00,149.32 229.25,148.98 229.50,148.65 229.75,148.32 230.00,147.99 230.25,147.66 230.50,147.34 230.75,147.02 231.00,146.70 231.25,146.39 231.50,146.08 231.75,145.78 232.00,145.47 232.25,145.18 232.50,144.88 232.75,144.59 233.00,144.31 233.25,144.03 233.50,143.75 233.75,143.48 234.00,143.21 234.25,142.95 234.50,142.69 234.75,142.44 235.00,142.19 235.25,141.94 235.50,141.71 235.75,141.48 236.00,141.25 236.25,141.03 236.50,140.82 236.75,140.61 237.00,140.41 237.25,140.21 237.50,140.02 237.75,139.84 238.00,139.67 238.25,139.50 238.50,139.34 238.75,139.19 239.00,139.05 239.25,138.91 239.50,138.78 239.75,138.67 240.00,138.56 240.25,138.46 240.50,138.36 240.75,138.28 241.00,138.21 241.25,138.15 241.50,138.10 241.75,138.06 242.00,138.03 242.25,138.01 242.50,138.00 242.75,138.00 243.00,138.02 243.25,138.05 243.50,138.09 243.75,138.15 244.00,138.22 244.25,138.30 244.50,138.39 244.75,138.51 245.00,138.63 245.25,138.78 245.50,138.93 245.75,139.11 246.00,139.30 246.25,139.51 246.50,139.73 246.75,139.98 247.00,140.24 247.25,140.52 247.50,140.82 247.75,141.13 248.00,141.44 248.25,141.74 248.50,142.05 248.75,142.36 249.00,142.66 249.25,142.97 249.50,143.27 249.75,143.58 250.00,143.89 250.25,144.19 250.50,144.50 250.75,144.81 251.00,145.11 251.25,145.42 251.50,145.73 251.75,146.03 252.00,146.34 252.25,146.64 252.50,146.95 252.75,147.26 253.00,147.56 253.25,147.87 253.50,148.18 253.75,148.48 254.00,148.79 254.25,149.10 254.50,149.40 254.75,149.71 255.00,150.01 255.25,150.32 255.50,150.63 255.75,150.93 256.00,151.24 256.25,151.55 256.50,151.85 256.75,152.16 257.00,152.47 257.25,152.77 257.50,153.08 257.75,153.38 258.00,153.69 258.25,154.00 258.50,154.30 258.75,154.61 259.00,154.92 259.25,155.22 259.50,155.53 259.75,155.84 260.00,156.14 260.25,156.45 260.50,156.75 260.75,157.06 261.00,157.37 261.25,157.67 261.50,157.98 261.75,158.29 262.00,158.59 262.25,158.90 262.50,159.20 262.75,159.51 263.00,159.82 263.25,160.12 263.50,160.43 263.75,160.74 264.00,161.04 264.25,161.35 264.50,161.66 264.75,161.96 265.00,162.27 265.25,162.57 265.50,162.88 265.75,163.19 266.00,163.49 266.25,163.80 266.50,164.11 266.75,164.41 267.00,164.72 267.25,165.03 267.50,165.33 267.75,165.64 268.00,165.94 268.25,166.25 268.50,166.56 268.75,166.86 269.00,167.17 269.25,167.48 269.50,167.78 269.75,168.09 270.00,168.40 270.25,168.70 270.50,169.01 270.75,169.31 271.00,169.62 271.25,169.93 271.50,170.23 271.75,170.54 272.00,170.85 272.25,171.15 272.50,171.46 272.75,171.76 273.00,172.07 273.25,172.38 273.50,172.68 273.75,172.99 274.00,173.30 274.25,173.60 274.50,173.91 274.75,174.22 275.00,174.52 275.25,174.83 275.50,175.13 275.75,175.44 276.00,175.75 276.25,176.05 276.50,176.36 276.75,176.67 277.00,176.97 277.25,177.28 277.50,177.59 277.75,177.89 278.00,178.20 278.25,178.50 278.50,178.81 278.75,179.12 279.00,179.42 279.25,179.73 279.50,180.04 279.75,180.34 280.00,180.65 280.25,180.96 280.50,181.26 280.75,181.57 281.00,181.87 281.25,182.18 281.50,182.49 281.75,182.79 282.00,183.10 282.25,183.41 282.50,183.71 282.75,184.02 283.00,184.33 283.25,184.63 283.50,184.94 283.75,185.24 284.00,185.55 284.25,185.86 284.50,186.16 284.75,186.47 285.00,186.78 285.25,187.08 285.50,187.39 285.75,187.69 286.00,188.00 286.25,188.31 286.50,188.61 286.75,188.92 287.00,189.23 287.25,189.53 287.50,189.84 287.75,190.15 288.00,190.45 288.25,190.76 288.50,191.06 288.75,191.37 289.00,191.68 289.25,191.98 289.50,192.29 289.75,192.60 290.00,192.90 290.25,193.21 290.50,193.52 290.75,193.82 291.00,194.13 291.25,194.43 291.50,194.74 291.75,195.05 292.00,195.35 292.25,195.66 292.50,195.97 292.75,196.27 293.00,196.58 293.25,196.89 293.50,197.19 293.75,197.50 294.00,197.80 294.25,198.11 294.50,198.42 294.75,198.72 295.00,199.03 295.25,199.34 295.50,199.64 295.75,199.95 296.00,200.26 296.25,200.56 296.50,200.87 296.75,201.17 297.00,201.48 297.25,201.79 297.50,202.09 297.75,202.40 298.00,202.71 298.25,203.01 298.50,203.32 298.75,203.62 299.00,203.93 299.25,204.24 299.50,204.54 299.75,204.85 300.00,205.16 300.25,205.46 300.50,205.77 300.75,206.08 301.00,206.38 301.25,206.69 301.50,206.99 301.75,207.30 302.00,207.61 302.25,207.91 302.50,208.22 302.75,208.53 303.00,208.83 303.25,209.14 303.50,209.45 303.75,209.75 304.00,210.06 304.25,210.36 304.50,210.67 304.75,210.98 305.00,211.28 305.25,211.59 305.50,211.90 305.75,212.20 306.00,212.51 306.25,212.82 306.50,213.12 306.75,213.43 307.00,213.73 307.25,214.04 307.50,214.35 307.75,214.65 308.00,214.96 308.25,215.27 308.50,215.57 308.75,215.88 309.00,216.19 309.25,216.49 309.50,216.80 309.75,217.10 310.00,217.41 310.25,217.72 310.50,218.02 310.75,218.33 311.00,218.64 311.25,218.94 311.50,219.25 311.75,219.55 312.00,219.86 312.25,220.17 312.50,220.47 312.75,220.78 313.00,221.09 313.25,221.39 313.50,221.70 313.75,222.01 314.00,222.31 314.25,222.62 314.50,222.92 314.75,223.23 315.00,223.54 315.25,223.84 315.50,224.15 315.75,224.46 316.00,224.76 316.25,225.07 316.50,225.38 316.75,225.68 317.00,225.99 317.25,226.29 317.50,226.60 317.75,226.91 318.00,227.21 318.25,227.52 318.50,227.83 318.75,228.13 319.00,228.44 319.25,228.75 319.50,229.05 319.75,229.36 320.00,229.66 320.25,229.97 320.50,230.28 320.75,230.58 321.00,230.89 321.25,231.20 321.50,231.50 321.75,231.81 322.00,232.12 322.25,232.42 322.50,232.73 322.75,233.03 323.00,233.34 323.25,233.65 323.50,233.95 323.75,234.26 324.00,234.57 324.25,234.87 324.50,235.18 324.75,235.48 325.00,235.79 325.25,236.10 325.50,236.40 325.75,236.71 326.00,237.02 326.25,237.32 326.50,237.63 326.75,237.94 327.00,238.24 327.25,238.55 327.50,238.85 327.75,239.16 328.00,239.47 328.25,239.77 328.50,240.08 328.75,240.39 329.00,240.69 329.25,241.00 329.50,241.31 329.75,241.61 330.00,241.92 330.25,242.22 330.50,242.53 330.75,242.84 331.00,243.14 331.25,243.45 331.50,243.76 331.75,244.06 332.00,244.37 332.25,244.68 332.50,244.98 332.75,245.29 333.00,245.59 333.25,245.90 333.50,246.21 333.75,246.51 334.00,246.82 334.25,247.13 334.50,247.43 334.75,247.74 335.00,248.04 335.25,248.35 335.50,248.66 335.75,248.96 336.00,249.27 336.25,249.58 336.50,249.88 336.75,250.19 337.00,250.50 337.25,250.80 337.50,251.11 337.75,251.41 338.00,251.50" fill="none" stroke="#f8a55e" stroke-width="1.0" stroke-dasharray="1.5,0.6"/>
<polyline points="191.00,244.56 191.25,244.42 191.50,244.28 191.75,244.14 192.00,244.00 192.25,243.86 192.50,243.71 192.75,243.57 193.00,243.43 193.25,243.29 193.50,243.15 193.75,243.01 194.00,242.87 194.25,242.73 194.50,242.58 194.75,242.44 195.00,242.30 195.25,242.16 195.50,242.02 195.75,241.88 196.00,241.74 196.25,241.60 196.50,241.45 196.75,241.31 197.00,241.17 197.25,241.03 197.50,240.89 197.75,240.75 198.00,240.61 198.25,240.46 198.50,240.32 198.75,240.18 199.00,240.04 199.25,239.90 199.50,239.76 199.75,239.62 200.00,239.48 200.25,239.33 200.50,239.19 200.75,239.05 201.00,238.91 201.25,238.77 201.50,238.63 201.75,238.49 202.00,238.35 202.25,238.20 202.50,238.06 202.75,237.92 203.00,237.78 203.25,237.64 203.50,237.50 203.75,237.36 204.00,237.22 204.25,237.07 204.50,236.93 204.75,236.79 205.00,236.65 205.25,236.51 205.50,236.37 205.75,236.23 206.00,236.09 206.25,235.94 206.50,235.80 206.75,235.66 207.00,235.52 207.25,235.38 207.50,235.24 207.75,235.10 208.00,234.96 208.25,234.81 208.50,234.67 208.75,234.53 209.00,234.39 209.25,234.25 209.50,234.11 209.75,233.97 210.00,233.83 210.25,233.68 210.50,233.54 210.75,233.40 211.00,233.26 211.25,233.12 211.50,232.98 211.75,232.84 212.00,232.70 212.25,232.55 212.50,232.41 212.75,232.27 213.00,232.13 213.25,231.99 213.50,231.85 213.75,231.71 214.00,231.56 214.25,231.42 214.50,231.28 214.75,231.14 215.00,231.00 215.25,230.86 215.50,230.72 215.75,230.58 216.00,230.43 216.25,230.29 216.50,230.15 216.75,230.01 217.00,229.87 217.25,229.73 217.50,229.59 217.75,229.45 218.00,229.30 218.25,229.16 218.50,229.02 218.75,228.88 219.00,228.74 219.25,228.60 219.50,228.46 219.75,228.32 220.00,228.17 220.25,228.03 220.50,227.89 220.75,227.75 221.00,227.61 221.25,227.47 221.50,227.33 221.75,227.19 222.00,227.04 222.25,226.90 222.50,226.76 222.75,226.62 223.00,226.48 223.25,226.34 223.50,226.20 223.75,226.06 224.00,225.91 224.25,225.77 224.50,225.63 224.75,225.49 225.00,225.35 225.25,225.21 225.50,225.07 225.75,224.93 226.00,224.78 226.25,224.64 226.50,224.50 226.75,224.36 227.00,224.22 227.25,224.08 227.50,223.94 227.75,223.80 228.00,223.65 228.25,223.51 228.50,223.37 228.75,223.23 229.00,223.09 229.25,222.95 229.50,222.81 229.75,222.67 230.00,222.52 230.25,222.38 230.50,222.24 230.75,222.10 231.00,221.96 231.25,221.82 231.50,221.68 231.75,221.54 232.00,221.39 232.25,221.25 232.50,221.11 232.75,220.97 233.00,220.83 233.25,220.69 233.50,220.55 233.75,220.41 234.00,220.27 234.25,220.12 234.50,219.98 234.75,219.84 235.00,219.70 235.25,219.56 235.50,219.42 235.75,219.28 236.00,219.14 236.25,218.99 236.50,218.85 236.75,218.71 237.00,218.57 237.25,218.43 237.50,218.29 237.75,218.15 238.00,218.01 238.25,217.87 238.50,217.72 238.75,217.58 239.00,217.44 239.25,217.30 239.50,217.16 239.75,217.02 240.00,216.88 240.25,216.74 240.50,216.59 240.75,216.45 241.00,216.31 241.25,216.17 241.50,216.03 241.75,215.89 242.00,215.75 242.25,215.61 242.50,215.47 242.75,215.32 243.00,215.18 243.25,215.04 243.50,214.90 243.75,214.76 244.00,214.62 244.25,214.48 244.50,214.34 244.75,214.20 245.00,214.05 245.25,213.91 245.50,213.77 245.75,213.63 246.00,213.49 246.25,213.35 246.50,213.21 246.75,213.07 247.00,212.93 247.25,212.79 247.50,212.64 247.75,212.50 248.00,212.36 248.25,212.22 248.50,212.08 248.75,211.94 249.00,211.80 249.25,211.66 249.50,211.52 249.75,211.38 250.00,211.23 250.25,211.09 250.50,210.95 250.75,210.81 251.00,210.67 251.25,210.53 251.50,210.39 251.75,210.25 252.00,210.11 252.25,209.97 252.50,209.83 252.75,209.69 253.00,209.54 253.25,209.40 253.50,209.26 253.75,209.12 254.00,208.98 254.25,208.84 254.50,208.70 254.75,208.56 255.00,208.42 255.25,208.28 255.50,208.14 255.75,208.00 256.00,207.86 256.25,207.72 256.50,207.58 256.75,207.43 257.00,207.29 257.25,207.15 257.50,207.01 257.75,206.87 258.00,206.73 258.25,206.59 258.50,206.45 258.75,206.31 259.00,206.17 259.25,206.03 259.50,205.89 259.75,205.75 260.00,205.61 260.25,205.47 260.50,205.33 260.75,205.19 261.00,205.05 261.25,204.91 261.50,204.77 261.75,204.63 262.00,204.49 262.25,204.35 262.50,204.21 262.75,204.07 263.00,203.93 263.25,203.79 263.50,203.65 263.75,203.51 264.00,203.37 264.25,203.23 264.50,203.09 264.75,202.95 265.00,202.81 265.25,202.67 265.50,202.53 265.75,202.39 266.00,202.25 266.25,202.12 266.50,201.98 266.75,201.84 267.00,201.70 267.25,201.56 267.50,201.42 267.75,201.28 268.00,201.14 268.25,201.00 268.50,200.87 268.75,200.73 269.00,200.59 269.25,200.45 269.50,200.31 269.75,200.17 270.00,200.03 270.25,199.90 270.50,199.76 270.75,199.62 271.00,199.48 271.25,199.34 271.50,199.21 271.75,199.07 272.00,198.93 272.25,198.79 272.50,198.66 272.75,198.52 273.00,198.38 273.25,198.25 273.50,198.11 273.75,197.97 274.00,197.84 274.25,197.70 274.50,197.56 274.75,197.43 275.00,197.29 275.25,197.15 275.50,197.02 275.75,196.88 276.00,196.75 276.25,196.61 276.50,196.48 276.75,196.34 277.00,196.21 277.25,196.07 277.50,195.94 277.75,195.80 278.00,195.67 278.25,195.54 278.50,195.40 278.75,195.27 279.00,195.14 279.25,195.00 279.50,194.87 279.75,194.74 280.00,194.60 280.25,194.47 280.50,194.34 280.75,194.21 281.00,194.08 281.25,193.95 281.50,193.82 281.75,193.69 282.00,193.56 282.25,193.43 282.50,193.30 282.75,193.17 283.00,193.04 283.25,192.91 283.50,192.78 283.75,192.65 284.00,192.52 284.25,192.40 284.50,192.27 284.75,192.14 285.00,192.02 285.25,191.89 285.50,191.77 285.75,191.64 286.00,191.52 286.25,191.39 286.50,191.27 286.75,191.15 287.00,191.03 287.25,190.90 287.50,190.78 287.75,190.66 288.00,190.54 288.25,190.42 288.50,190.30 288.75,190.18 289.00,190.07 289.25,189.95 289.50,189.83 289.75,189.72 290.00,189.60 290.25,189.49 290.50,189.37 290.75,189.26 291.00,189.15 291.25,189.04 291.50,188.93 291.75,188.82 292.00,188.71 292.25,188.60 292.50,188.49 292.75,188.39 293.00,188.28 293.25,188.18 293.50,188.07 293.75,187.97 294.00,187.87 294.25,187.77 294.50,187.67 294.75,187.57 295.00,187.47 295.25,187.38 295.50,187.28 295.75,187.19 296.00,187.10 296.25,187.01 296.50,186.92 296.75,186.83 297.00,186.75 297.25,186.66 297.50,186.58 297.75,186.50 298.00,186.42 298.25,186.34 298.50,186.26 298.75,186.19 299.00,186.12 299.25,186.05 299.50,185.98 299.75,185.91 300.00,185.84 300.25,185.78 300.50,185.72 300.75,185.66 301.00,185.61 301.25,185.55 301.50,185.50 301.75,185.45 302.00,185.40 302.25,185.36 302.50,185.32 302.75,185.28 303.00,185.24 303.25,185.21 303.50,185.18 303.75,185.15 304.00,185.13 304.25,185.11 304.50,185.09 304.75,185.07 305.00,185.06 305.25,185.06 305.50,185.05 305.75,185.05 306.00,185.06 306.25,185.06 306.50,185.08 306.75,185.09 307.00,185.11 307.25,185.14 307.50,185.17 307.75,185.20 308.00,185.24 308.25,185.28 308.50,185.33 308.75,185.38 309.00,185.44 309.25,185.51 309.50,185.58 309.75,185.65 310.00,185.73 310.25,185.82 310.50,185.92 310.75,186.02 311.00,186.12 311.25,186.24 311.50,186.36 311.75,186.48 312.00,186.62 312.25,186.76 312.50,186.91 312.75,187.07 313.00,187.24 313.25,187.41 313.50,187.59 313.75,187.79 314.00,187.99 314.25,188.20 314.50,188.42 314.75,188.65 315.00,188.89 315.25,189.14 315.50,189.40 315.75,189.67 316.00,189.96 316.25,190.25 316.50,190.56 316.75,190.88 317.00,191.21 317.25,191.55 317.50,191.91 317.75,192.28 318.00,192.66 318.25,193.06 318.50,193.48 318.75,193.91 319.00,194.35 319.25,194.81 319.50,195.29 319.75,195.78 320.00,196.29 320.25,196.82 320.50,197.37 320.75,197.93 321.00,198.52 321.25,199.12 321.50,199.75 321.75,200.39 322.00,201.06 322.25,201.75 322.50,202.46 322.75,203.19 323.00,203.95 323.25,204.74 323.50,205.54 323.75,206.38 324.00,207.24 324.25,208.13 324.50,209.04 324.75,209.99 325.00,210.96 325.25,211.97 325.50,213.00 325.75,214.07 326.00,215.17 326.25,216.30 326.50,217.47 326.75,218.68 327.00,219.92 327.25,221.20 327.50,222.51 327.75,223.87 328.00,225.27 328.25,226.71 328.50,228.19 328.75,229.72 329.00,231.29 329.25,232.91 329.50,234.58 329.75,236.29 330.00,238.06 330.25,239.88 330.50,241.75 330.75,243.68 331.00,245.66 331.25,247.70 331.50,249.80 331.75,251.50" fill="none" stroke="#f8a55e" stroke-width="1.0" stroke-dasharray="1.2,0.5"/>
<polyline points="203.00,250.82 203.25,249.14 203.50,247.46 203.75,245.79 204.00,244.13 204.25,242.47 204.50,240.82 204.75,239.18 205.00,237.55 205.25,235.93 205.50,234.31 205.75,232.71 206.00,231.11 206.25,229.53 206.50,227.95 206.75,226.38 207.00,224.83 207.25,223.28 207.50,221.75 207.75,220.22 208.00,218.71 208.25,217.21 208.50,215.73 208.75,214.26 209.00,212.80 209.25,211.36 209.50,209.93 209.75,208.51 210.00,207.11 210.25,205.73 210.50,204.37 210.75,203.02 211.00,201.69 211.25,200.38 211.50,199.09 211.75,197.81 212.00,196.56 212.25,195.33 212.50,194.13 212.75,192.94 213.00,191.78 213.25,190.64 213.50,189.53 213.75,188.45 214.00,187.39 214.25,186.36 214.50,185.36 214.75,184.39 215.00,183.45 215.25,182.54 215.50,181.67 215.75,180.83 216.00,180.03 216.25,179.26 216.50,178.54 216.75,177.85 217.00,177.20 217.25,176.60 217.50,176.04 217.75,175.52 218.00,175.05 218.25,174.63 218.50,174.27 218.75,173.95 219.00,173.68 219.25,173.48 219.50,173.32 219.75,173.23 220.00,173.20 220.25,173.23 220.50,173.33 220.75,173.49 221.00,173.72 221.25,174.03 221.50,174.40 221.75,174.86 222.00,175.39 222.25,176.00 222.50,176.69 222.75,177.47 223.00,178.34 223.25,179.30 223.50,180.35 223.75,181.50 224.00,182.74 224.25,184.09 224.50,185.54 224.75,187.10 225.00,188.77 225.25,190.56 225.50,192.46 225.75,194.48 226.00,196.62 226.25,198.89 226.50,201.30 226.75,203.83 227.00,206.51 227.25,209.32 227.50,212.28 227.75,215.39 228.00,218.66 228.25,222.08 228.50,225.67 228.75,229.42 229.00,233.34 229.25,237.44 229.50,241.72 229.75,246.18 230.00,250.84" fill="none" stroke="#f8a55e" stroke-width="0.9" stroke-dasharray="1,0.9"/>
<line x1="35.05" y1="0.00" x2="35.05" y2="2.80" stroke="#3c3c3c" stroke-width="0.9"/>
<line x1="35.05" y1="123.80" x2="35.05" y2="128.20" stroke="#3c3c3c" stroke-width="0.9"/>
<line x1="35.05" y1="248.80" x2="35.05" y2="253.20" stroke="#3c3c3c" stroke-width="0.9"/>
<line x1="35.05" y1="287.80" x2="35.05" y2="290.00" stroke="#3c3c3c" stroke-width="0.9"/>
<line x1="56.50" y1="0.00" x2="56.50" y2="4.00" stroke="#3c3c3c" stroke-width="0.9"/>
<line x1="56.50" y1="122.60" x2="56.50" y2="129.40" stroke="#3c3c3c" stroke-width="0.9"/>
<line x1="56.50" y1="247.60" x2="56.50" y2="254.40" stroke="#3c3c3c" stroke-width="0.9"/>
<line x1="56.50" y1="286.60" x2="56.50" y2="290.00" stroke="#3c3c3c" stroke-width="0.9"/>
<line x1="77.95" y1="0.00" x2="77.95" y2="2.80" stroke="#3c3c3c" stroke-width="0.9"/>
<line x1="77.95" y1="123.80" x2="77.95" y2="128.20" stroke="#3c3c3c" stroke-width="0.9"/>
<line x1="77.95" y1="248.80" x2="77.95" y2="253.20" stroke="#3c3c3c" stroke-width="0.9"/>
<line x1="77.95" y1="287.80" x2="77.95" y2="290.00" stroke="#3c3c3c" stroke-width="0.9"/>
<line x1="99.40" y1="0.00" x2="99.40" y2="4.00" stroke="#3c3c3c" stroke-width="0.9"/>
<line x1="99.40" y1="122.60" x2="99.40" y2="129.40" stroke="#3c3c3c" stroke-width="0.9"/>
<line x1="99.40" y1="247.60" x2="99.40" y2="254.40" stroke="#3c3c3c" stroke-width="0.9"/>
<line x1="99.40" y1="286.60" x2="99.40" y2="290.00" stroke="#3c3c3c" stroke-width="0.9"/>
<line x1="120.85" y1="0.00" x2="120.85" y2="2.80" stroke="#3c3c3c" stroke-width="0.9"/>
<line x1="120.85" y1="123.80" x2="120.85" y2="128.20" stroke="#3c3c3c" stroke-width="0.9"/>
<line x1="120.85" y1="248.80" x2="120.85" y2="253.20" stroke="#3c3c3c" stroke-width="0.9"/>
<line x1="120.85" y1="287.80" x2="120.85" y2="290.00" stroke="#3c3c3c" stroke-width="0.9"/>
<line x1="142.30" y1="0.00" x2="142.30" y2="4.00" stroke="#3c3c3c" stroke-width="0.9"/>
<line x1="142.30" y1="122.60" x2="142.30" y2="129.40" stroke="#3c3c3c" stroke-width="0.9"/>
<line x1="142.30" y1="247.60" x2="142.30" y2="254.40" stroke="#3c3c3c" stroke-width="0.9"/>
<line x1="142.30" y1="286.60" x2="142.30" y2="290.00" stroke="#3c3c3c" stroke-width="0.9"/>
<line x1="163.75" y1="0.00" x2="163.75" y2="2.80" stroke="#3c3c3c" stroke-width="0.9"/>
<line x1="163.75" y1="123.80" x2="163.75" y2="128.20" stroke="#3c3c3c" stroke-width="0.9"/>
<line x1="163.75" y1="248.80" x2="163.75" y2="253.20" stroke="#3c3c3c" stroke-width="0.9"/>
<line x1="163.75" y1="287.80" x2="163.75" y2="290.00" stroke="#3c3c3c" stroke-width="0.9"/>
<line x1="185.20" y1="0.00" x2="185.20" y2="4.00" stroke="#3c3c3c" stroke-width="0.9"/>
<line x1="185.20" y1="122.60" x2="185.20" y2="129.40" stroke="#3c3c3c" stroke-width="0.9"/>
<line x1="185.20" y1="247.60" x2="185.20" y2="254.40" stroke="#3c3c3c" stroke-width="0.9"/>
<line x1="185.20" y1="286.60" x2="185.20" y2="290.00" stroke="#3c3c3c" stroke-width="0.9"/>
<line x1="33.00" y1="116.62" x2="35.80" y2="116.62" stroke="#3c3c3c" stroke-width="0.9"/>
<line x1="188.20" y1="116.62" x2="191.00" y2="116.62" stroke="#3c3c3c" stroke-width="0.9"/>
<line x1="33.00" y1="107.20" x2="35.80" y2="107.20" stroke="#3c3c3c" stroke-width="0.9"/>
<line x1="188.20" y1="107.20" x2="191.00" y2="107.20" stroke="#3c3c3c" stroke-width="0.9"/>
<line x1="33.00" y1="97.78" x2="35.80" y2="97.78" stroke="#3c3c3c" stroke-width="0.9"/>
<line x1="188.20" y1="97.78" x2="191.00" y2="97.78" stroke="#3c3c3c" stroke-width="0.9"/>
<line x1="33.00" y1="88.36" x2="35.80" y2="88.36" stroke="#3c3c3c" stroke-width="0.9"/>
<line x1="188.20" y1="88.36" x2="191.00" y2="88.36" stroke="#3c3c3c" stroke-width="0.9"/>
<line x1="33.00" y1="78.94" x2="35.80" y2="78.94" stroke="#3c3c3c" stroke-width="0.9"/>
<line x1="188.20" y1="78.94" x2="191.00" y2="78.94" stroke="#3c3c3c" stroke-width="0.9"/>
<line x1="33.00" y1="69.52" x2="35.80" y2="69.52" stroke="#3c3c3c" stroke-width="0.9"/>
<line x1="188.20" y1="69.52" x2="191.00" y2="69.52" stroke="#3c3c3c" stroke-width="0.9"/>
<line x1="33.00" y1="60.10" x2="35.80" y2="60.10" stroke="#3c3c3c" stroke-width="0.9"/>
<line x1="188.20" y1="60.10" x2="191.00" y2="60.10" stroke="#3c3c3c" stroke-width="0.9"/>
<line x1="33.00" y1="50.68" x2="35.80" y2="50.68" stroke="#3c3c3c" stroke-width="0.9"/>
<line x1="188.20" y1="50.68" x2="191.00" y2="50.68" stroke="#3c3c3c" stroke-width="0.9"/>
<line x1="33.00" y1="41.26" x2="35.80" y2="41.26" stroke="#3c3c3c" stroke-width="0.9"/>
<line x1="188.20" y1="41.26" x2="191.00" y2="41.26" stroke="#3c3c3c" stroke-width="0.9"/>
<line x1="33.00" y1="31.84" x2="35.80" y2="31.84" stroke="#3c3c3c" stroke-width="0.9"/>
<line x1="188.20" y1="31.84" x2="191.00" y2="31.84" stroke="#3c3c3c" stroke-width="0.9"/>
<line x1="33.00" y1="22.42" x2="35.80" y2="22.42" stroke="#3c3c3c" stroke-width="0.9"/>
<line x1="188.20" y1="22.42" x2="191.00" y2="22.42" stroke="#3c3c3c" stroke-width="0.9"/>
<line x1="33.00" y1="13.00" x2="35.80" y2="13.00" stroke="#3c3c3c" stroke-width="0.9"/>
<line x1="188.20" y1="13.00" x2="191.00" y2="13.00" stroke="#3c3c3c" stroke-width="0.9"/>
<line x1="33.00" y1="3.58" x2="35.80" y2="3.58" stroke="#3c3c3c" stroke-width="0.9"/>
<line x1="188.20" y1="3.58" x2="191.00" y2="3.58" stroke="#3c3c3c" stroke-width="0.9"/>
<line x1="33.00" y1="244.83" x2="34.80" y2="244.83" stroke="#3c3c3c" stroke-width="0.8"/>
<line x1="189.20" y1="244.83" x2="191.00" y2="244.83" stroke="#3c3c3c" stroke-width="0.8"/>
<line x1="33.00" y1="239.54" x2="34.80" y2="239.54" stroke="#3c3c3c" stroke-width="0.8"/>
<line x1="189.20" y1="239.54" x2="191.00" y2="239.54" stroke="#3c3c3c" stroke-width="0.8"/>
<line x1="33.00" y1="235.21" x2="34.80" y2="235.21" stroke="#3c3c3c" stroke-width="0.8"/>
<line x1="189.20" y1="235.21" x2="191.00" y2="235.21" stroke="#3c3c3c" stroke-width="0.8"/>
<line x1="33.00" y1="231.56" x2="34.80" y2="231.56" stroke="#3c3c3c" stroke-width="0.8"/>
<line x1="189.20" y1="231.56" x2="191.00" y2="231.56" stroke="#3c3c3c" stroke-width="0.8"/>
<line x1="33.00" y1="228.39" x2="34.80" y2="228.39" stroke="#3c3c3c" stroke-width="0.8"/>
<line x1="189.20" y1="228.39" x2="191.00" y2="228.39" stroke="#3c3c3c" stroke-width="0.8"/>
<line x1="33.00" y1="225.60" x2="34.80" y2="225.60" stroke="#3c3c3c" stroke-width="0.8"/>
<line x1="189.20" y1="225.60" x2="191.00" y2="225.60" stroke="#3c3c3c" stroke-width="0.8"/>
<line x1="33.00" y1="223.10" x2="36.20" y2="223.10" stroke="#3c3c3c" stroke-width="0.8"/>
<line x1="187.80" y1="223.10" x2="191.00" y2="223.10" stroke="#3c3c3c" stroke-width="0.8"/>
<line x1="33.00" y1="206.66" x2="34.80" y2="206.66" stroke="#3c3c3c" stroke-width="0.8"/>
<line x1="189.20" y1="206.66" x2="191.00" y2="206.66" stroke="#3c3c3c" stroke-width="0.8"/>
<line x1="33.00" y1="197.05" x2="34.80" y2="197.05" stroke="#3c3c3c" stroke-width="0.8"/>
<line x1="189.20" y1="197.05" x2="191.00" y2="197.05" stroke="#3c3c3c" stroke-width="0.8"/>
<line x1="33.00" y1="190.23" x2="34.80" y2="190.23" stroke="#3c3c3c" stroke-width="0.8"/>
<line x1="189.20" y1="190.23" x2="191.00" y2="190.23" stroke="#3c3c3c" stroke-width="0.8"/>
<line x1="33.00" y1="184.94" x2="34.80" y2="184.94" stroke="#3c3c3c" stroke-width="0.8"/>
<line x1="189.20" y1="184.94" x2="191.00" y2="184.94" stroke="#3c3c3c" stroke-width="0.8"/>
<line x1="33.00" y1="180.61" x2="34.80" y2="180.61" stroke="#3c3c3c" stroke-width="0.8"/>
<line x1="189.20" y1="180.61" x2="191.00" y2="180.61" stroke="#3c3c3c" stroke-width="0.8"/>
<line x1="33.00" y1="176.96" x2="34.80" y2="176.96" stroke="#3c3c3c" stroke-width="0.8"/>
<line x1="189.20" y1="176.96" x2="191.00" y2="176.96" stroke="#3c3c3c" stroke-width="0.8"/>
<line x1="33.00" y1="173.79" x2="34.80" y2="173.79" stroke="#3c3c3c" stroke-width="0.8"/>
<line x1="189.20" y1="173.79" x2="191.00" y2="173.79" stroke="#3c3c3c" stroke-width="0.8"/>
<line x1="33.00" y1="171.00" x2="34.80" y2="171.00" stroke="#3c3c3c" stroke-width="0.8"/>
<line x1="189.20" y1="171.00" x2="191.00" y2="171.00" stroke="#3c3c3c" stroke-width="0.8"/>
<line x1="33.00" y1="168.50" x2="36.20" y2="168.50" stroke="#3c3c3c" stroke-width="0.8"/>
<line x1="187.80" y1="168.50" x2="191.00" y2="168.50" stroke="#3c3c3c" stroke-width="0.8"/>
<line x1="33.00" y1="152.06" x2="34.80" y2="152.06" stroke="#3c3c3c" stroke-width="0.8"/>
<line x1="189.20" y1="152.06" x2="191.00" y2="152.06" stroke="#3c3c3c" stroke-width="0.8"/>
<line x1="33.00" y1="142.45" x2="34.80" y2="142.45" stroke="#3c3c3c" stroke-width="0.8"/>
<line x1="189.20" y1="142.45" x2="191.00" y2="142.45" stroke="#3c3c3c" stroke-width="0.8"/>
<line x1="33.00" y1="135.63" x2="34.80" y2="135.63" stroke="#3c3c3c" stroke-width="0.8"/>
<line x1="189.20" y1="135.63" x2="191.00" y2="135.63" stroke="#3c3c3c" stroke-width="0.8"/>
<line x1="33.00" y1="130.34" x2="34.80" y2="130.34" stroke="#3c3c3c" stroke-width="0.8"/>
<line x1="189.20" y1="130.34" x2="191.00" y2="130.34" stroke="#3c3c3c" stroke-width="0.8"/>
<line x1="33.00" y1="286.85" x2="34.60" y2="286.85" stroke="#3c3c3c" stroke-width="0.8"/>
<line x1="189.40" y1="286.85" x2="191.00" y2="286.85" stroke="#3c3c3c" stroke-width="0.8"/>
<line x1="33.00" y1="283.52" x2="36.00" y2="283.52" stroke="#3c3c3c" stroke-width="0.8"/>
<line x1="188.00" y1="283.52" x2="191.00" y2="283.52" stroke="#3c3c3c" stroke-width="0.8"/>
<line x1="33.00" y1="280.19" x2="34.60" y2="280.19" stroke="#3c3c3c" stroke-width="0.8"/>
<line x1="189.40" y1="280.19" x2="191.00" y2="280.19" stroke="#3c3c3c" stroke-width="0.8"/>
<line x1="33.00" y1="276.86" x2="34.60" y2="276.86" stroke="#3c3c3c" stroke-width="0.8"/>
<line x1="189.40" y1="276.86" x2="191.00" y2="276.86" stroke="#3c3c3c" stroke-width="0.8"/>
<line x1="33.00" y1="273.53" x2="34.60" y2="273.53" stroke="#3c3c3c" stroke-width="0.8"/>
<line x1="189.40" y1="273.53" x2="191.00" y2="273.53" stroke="#3c3c3c" stroke-width="0.8"/>
<line x1="33.00" y1="270.20" x2="36.00" y2="270.20" stroke="#3c3c3c" stroke-width="0.8"/>
<line x1="188.00" y1="270.20" x2="191.00" y2="270.20" stroke="#3c3c3c" stroke-width="0.8"/>
<line x1="33.00" y1="266.87" x2="34.60" y2="266.87" stroke="#3c3c3c" stroke-width="0.8"/>
<line x1="189.40" y1="266.87" x2="191.00" y2="266.87" stroke="#3c3c3c" stroke-width="0.8"/>
<line x1="33.00" y1="263.54" x2="34.60" y2="263.54" stroke="#3c3c3c" stroke-width="0.8"/>
<line x1="189.40" y1="263.54" x2="191.00" y2="263.54" stroke="#3c3c3c" stroke-width="0.8"/>
<line x1="33.00" y1="260.21" x2="34.60" y2="260.21" stroke="#3c3c3c" stroke-width="0.8"/>
<line x1="189.40" y1="260.21" x2="191.00" y2="260.21" stroke="#3c3c3c" stroke-width="0.8"/>
<line x1="33.00" y1="256.88" x2="36.00" y2="256.88" stroke="#3c3c3c" stroke-width="0.8"/>
<line x1="188.00" y1="256.88" x2="191.00" y2="256.88" stroke="#3c3c3c" stroke-width="0.8"/>
<line x1="33.00" y1="253.55" x2="34.60" y2="253.55" stroke="#3c3c3c" stroke-width="0.8"/>
<line x1="189.40" y1="253.55" x2="191.00" y2="253.55" stroke="#3c3c3c" stroke-width="0.8"/>
<line x1="193.35" y1="0.00" x2="193.35" y2="2.80" stroke="#3c3c3c" stroke-width="0.9"/>
<line x1="193.35" y1="123.80" x2="193.35" y2="128.20" stroke="#3c3c3c" stroke-width="0.9"/>
<line x1="193.35" y1="248.80" x2="193.35" y2="253.20" stroke="#3c3c3c" stroke-width="0.9"/>
<line x1="193.35" y1="287.80" x2="193.35" y2="290.00" stroke="#3c3c3c" stroke-width="0.9"/>
<line x1="214.80" y1="0.00" x2="214.80" y2="4.00" stroke="#3c3c3c" stroke-width="0.9"/>
<line x1="214.80" y1="122.60" x2="214.80" y2="129.40" stroke="#3c3c3c" stroke-width="0.9"/>
<line x1="214.80" y1="247.60" x2="214.80" y2="254.40" stroke="#3c3c3c" stroke-width="0.9"/>
<line x1="214.80" y1="286.60" x2="214.80" y2="290.00" stroke="#3c3c3c" stroke-width="0.9"/>
<line x1="236.25" y1="0.00" x2="236.25" y2="2.80" stroke="#3c3c3c" stroke-width="0.9"/>
<line x1="236.25" y1="123.80" x2="236.25" y2="128.20" stroke="#3c3c3c" stroke-width="0.9"/>
<line x1="236.25" y1="248.80" x2="236.25" y2="253.20" stroke="#3c3c3c" stroke-width="0.9"/>
<line x1="236.25" y1="287.80" x2="236.25" y2="290.00" stroke="#3c3c3c" stroke-width="0.9"/>
<line x1="257.70" y1="0.00" x2="257.70" y2="4.00" stroke="#3c3c3c" stroke-width="0.9"/>
<line x1="257.70" y1="122.60" x2="257.70" y2="129.40" stroke="#3c3c3c" stroke-width="0.9"/>
<line x1="257.70" y1="247.60" x2="257.70" y2="254.40" stroke="#3c3c3c" stroke-width="0.9"/>
<line x1="257.70" y1="286.60" x2="257.70" y2="290.00" stroke="#3c3c3c" stroke-width="0.9"/>
<line x1="279.15" y1="0.00" x2="279.15" y2="2.80" stroke="#3c3c3c" stroke-width="0.9"/>
<line x1="279.15" y1="123.80" x2="279.15" y2="128.20" stroke="#3c3c3c" stroke-width="0.9"/>
<line x1="279.15" y1="248.80" x2="279.15" y2="253.20" stroke="#3c3c3c" stroke-width="0.9"/>
<line x1="279.15" y1="287.80" x2="279.15" y2="290.00" stroke="#3c3c3c" stroke-width="0.9"/>
<line x1="300.60" y1="0.00" x2="300.60" y2="4.00" stroke="#3c3c3c" stroke-width="0.9"/>
<line x1="300.60" y1="122.60" x2="300.60" y2="129.40" stroke="#3c3c3c" stroke-width="0.9"/>
<line x1="300.60" y1="247.60" x2="300.60" y2="254.40" stroke="#3c3c3c" stroke-width="0.9"/>
<line x1="300.60" y1="286.60" x2="300.60" y2="290.00" stroke="#3c3c3c" stroke-width="0.9"/>
<line x1="322.05" y1="0.00" x2="322.05" y2="2.80" stroke="#3c3c3c" stroke-width="0.9"/>
<line x1="322.05" y1="123.80" x2="322.05" y2="128.20" stroke="#3c3c3c" stroke-width="0.9"/>
<line x1="322.05" y1="248.80" x2="322.05" y2="253.20" stroke="#3c3c3c" stroke-width="0.9"/>
<line x1="322.05" y1="287.80" x2="322.05" y2="290.00" stroke="#3c3c3c" stroke-width="0.9"/>
<line x1="343.50" y1="0.00" x2="343.50" y2="4.00" stroke="#3c3c3c" stroke-width="0.9"/>
<line x1="343.50" y1="122.60" x2="343.50" y2="129.40" stroke="#3c3c3c" stroke-width="0.9"/>
<line x1="343.50" y1="247.60" x2="343.50" y2="254.40" stroke="#3c3c3c" stroke-width="0.9"/>
<line x1="343.50" y1="286.60" x2="343.50" y2="290.00" stroke="#3c3c3c" stroke-width="0.9"/>
<line x1="191.30" y1="116.62" x2="194.10" y2="116.62" stroke="#3c3c3c" stroke-width="0.9"/>
<line x1="346.50" y1="116.62" x2="349.30" y2="116.62" stroke="#3c3c3c" stroke-width="0.9"/>
<line x1="191.30" y1="107.20" x2="194.10" y2="107.20" stroke="#3c3c3c" stroke-width="0.9"/>
<line x1="346.50" y1="107.20" x2="349.30" y2="107.20" stroke="#3c3c3c" stroke-width="0.9"/>
<line x1="191.30" y1="97.78" x2="194.10" y2="97.78" stroke="#3c3c3c" stroke-width="0.9"/>
<line x1="346.50" y1="97.78" x2="349.30" y2="97.78" stroke="#3c3c3c" stroke-width="0.9"/>
<line x1="191.30" y1="88.36" x2="194.10" y2="88.36" stroke="#3c3c3c" stroke-width="0.9"/>
<line x1="346.50" y1="88.36" x2="349.30" y2="88.36" stroke="#3c3c3c" stroke-width="0.9"/>
<line x1="191.30" y1="78.94" x2="194.10" y2="78.94" stroke="#3c3c3c" stroke-width="0.9"/>
<line x1="346.50" y1="78.94" x2="349.30" y2="78.94" stroke="#3c3c3c" stroke-width="0.9"/>
<line x1="191.30" y1="69.52" x2="194.10" y2="69.52" stroke="#3c3c3c" stroke-width="0.9"/>
<line x1="346.50" y1="69.52" x2="349.30" y2="69.52" stroke="#3c3c3c" stroke-width="0.9"/>
<line x1="191.30" y1="60.10" x2="194.10" y2="60.10" stroke="#3c3c3c" stroke-width="0.9"/>
<line x1="346.50" y1="60.10" x2="349.30" y2="60.10" stroke="#3c3c3c" stroke-width="0.9"/>
<line x1="191.30" y1="50.68" x2="194.10" y2="50.68" stroke="#3c3c3c" stroke-width="0.9"/>
<line x1="346.50" y1="50.68" x2="349.30" y2="50.68" stroke="#3c3c3c" stroke-width="0.9"/>
<line x1="191.30" y1="41.26" x2="194.10" y2="41.26" stroke="#3c3c3c" stroke-width="0.9"/>
<line x1="346.50" y1="41.26" x2="349.30" y2="41.26" stroke="#3c3c3c" stroke-width="0.9"/>
<line x1="191.30" y1="31.84" x2="194.10" y2="31.84" stroke="#3c3c3c" stroke-width="0.9"/>
<line x1="346.50" y1="31.84" x2="349.30" y2="31.84" stroke="#3c3c3c" stroke-width="0.9"/>
<line x1="191.30" y1="22.42" x2="194.10" y2="22.42" stroke="#3c3c3c" stroke-width="0.9"/>
<line x1="346.50" y1="22.42" x2="349.30" y2="22.42" stroke="#3c3c3c" stroke-width="0.9"/>
<line x1="191.30" y1="13.00" x2="194.10" y2="13.00" stroke="#3c3c3c" stroke-width="0.9"/>
<line x1="346.50" y1="13.00" x2="349.30" y2="13.00" stroke="#3c3c3c" stroke-width="0.9"/>
<line x1="191.30" y1="3.58" x2="194.10" y2="3.58" stroke="#3c3c3c" stroke-width="0.9"/>
<line x1="346.50" y1="3.58" x2="349.30" y2="3.58" stroke="#3c3c3c" stroke-width="0.9"/>
<line x1="191.30" y1="244.83" x2="193.10" y2="244.83" stroke="#3c3c3c" stroke-width="0.8"/>
<line x1="347.50" y1="244.83" x2="349.30" y2="244.83" stroke="#3c3c3c" stroke-width="0.8"/>
<line x1="191.30" y1="239.54" x2="193.10" y2="239.54" stroke="#3c3c3c" stroke-width="0.8"/>
<line x1="347.50" y1="239.54" x2="349.30" y2="239.54" stroke="#3c3c3c" stroke-width="0.8"/>
<line x1="191.30" y1="235.21" x2="193.10" y2="235.21" stroke="#3c3c3c" stroke-width="0.8"/>
<line x1="347.50" y1="235.21" x2="349.30" y2="235.21" stroke="#3c3c3c" stroke-width="0.8"/>
<line x1="191.30" y1="231.56" x2="193.10" y2="231.56" stroke="#3c3c3c" stroke-width="0.8"/>
<line x1="347.50" y1="231.56" x2="349.30" y2="231.56" stroke="#3c3c3c" stroke-width="0.8"/>
<line x1="191.30" y1="228.39" x2="193.10" y2="228.39" stroke="#3c3c3c" stroke-width="0.8"/>
<line x1="347.50" y1="228.39" x2="349.30" y2="228.39" stroke="#3c3c3c" stroke-width="0.8"/>
<line x1="191.30" y1="225.60" x2="193.10" y2="225.60" stroke="#3c3c3c" stroke-width="0.8"/>
<line x1="347.50" y1="225.60" x2="349.30" y2="225.60" stroke="#3c3c3c" stroke-width="0.8"/>
<line x1="191.30" y1="223.10" x2="194.50" y2="223.10" stroke="#3c3c3c" stroke-width="0.8"/>
<line x1="346.10" y1="223.10" x2="349.30" y2="223.10" stroke="#3c3c3c" stroke-width="0.8"/>
<line x1="191.30" y1="206.66" x2="193.10" y2="206.66" stroke="#3c3c3c" stroke-width="0.8"/>
<line x1="347.50" y1="206.66" x2="349.30" y2="206.66" stroke="#3c3c3c" stroke-width="0.8"/>
<line x1="191.30" y1="197.05" x2="193.10" y2="197.05" stroke="#3c3c3c" stroke-width="0.8"/>
<line x1="347.50" y1="197.05" x2="349.30" y2="197.05" stroke="#3c3c3c" stroke-width="0.8"/>
<line x1="191.30" y1="190.23" x2="193.10" y2="190.23" stroke="#3c3c3c" stroke-width="0.8"/>
<line x1="347.50" y1="190.23" x2="349.30" y2="190.23" stroke="#3c3c3c" stroke-width="0.8"/>
<line x1="191.30" y1="184.94" x2="193.10" y2="184.94" stroke="#3c3c3c" stroke-width="0.8"/>
<line x1="347.50" y1="184.94" x2="349.30" y2="184.94" stroke="#3c3c3c" stroke-width="0.8"/>
<line x1="191.30" y1="180.61" x2="193.10" y2="180.61" stroke="#3c3c3c" stroke-width="0.8"/>
<line x1="347.50" y1="180.61" x2="349.30" y2="180.61" stroke="#3c3c3c" stroke-width="0.8"/>
<line x1="191.30" y1="176.96" x2="193.10" y2="176.96" stroke="#3c3c3c" stroke-width="0.8"/>
<line x1="347.50" y1="176.96" x2="349.30" y2="176.96" stroke="#3c3c3c" stroke-width="0.8"/>
<line x1="191.30" y1="173.79" x2="193.10" y2="173.79" stroke="#3c3c3c" stroke-width="0.8"/>
<line x1="347.50" y1="173.79" x2="349.30" y2="173.79" stroke="#3c3c3c" stroke-width="0.8"/>
<line x1="191.30" y1="171.00" x2="193.10" y2="171.00" stroke="#3c3c3c" stroke-width="0.8"/>
<line x1="347.50" y1="171.00" x2="349.30" y2="171.00" stroke="#3c3c3c" stroke-width="0.8"/>
<line x1="191.30" y1="168.50" x2="194.50" y2="168.50" stroke="#3c3c3c" stroke-width="0.8"/>
<line x1="346.10" y1="168.50" x2="349.30" y2="168.50" stroke="#3c3c3c" stroke-width="0.8"/>
<line x1="191.30" y1="152.06" x2="193.10" y2="152.06" stroke="#3c3c3c" stroke-width="0.8"/>
<line x1="347.50" y1="152.06" x2="349.30" y2="152.06" stroke="#3c3c3c" stroke-width="0.8"/>
<line x1="191.30" y1="142.45" x2="193.10" y2="142.45" stroke="#3c3c3c" stroke-width="0.8"/>
<line x1="347.50" y1="142.45" x2="349.30" y2="142.45" stroke="#3c3c3c" stroke-width="0.8"/>
<line x1="191.30" y1="135.63" x2="193.10" y2="135.63" stroke="#3c3c3c" stroke-width="0.8"/>
<line x1="347.50" y1="135.63" x2="349.30" y2="135.63" stroke="#3c3c3c" stroke-width="0.8"/>
<line x1="191.30" y1="130.34" x2="193.10" y2="130.34" stroke="#3c3c3c" stroke-width="0.8"/>
<line x1="347.50" y1="130.34" x2="349.30" y2="130.34" stroke="#3c3c3c" stroke-width="0.8"/>
<line x1="191.30" y1="286.85" x2="192.90" y2="286.85" stroke="#3c3c3c" stroke-width="0.8"/>
<line x1="347.70" y1="286.85" x2="349.30" y2="286.85" stroke="#3c3c3c" stroke-width="0.8"/>
<line x1="191.30" y1="283.52" x2="194.30" y2="283.52" stroke="#3c3c3c" stroke-width="0.8"/>
<line x1="346.30" y1="283.52" x2="349.30" y2="283.52" stroke="#3c3c3c" stroke-width="0.8"/>
<line x1="191.30" y1="280.19" x2="192.90" y2="280.19" stroke="#3c3c3c" stroke-width="0.8"/>
<line x1="347.70" y1="280.19" x2="349.30" y2="280.19" stroke="#3c3c3c" stroke-width="0.8"/>
<line x1="191.30" y1="276.86" x2="192.90" y2="276.86" stroke="#3c3c3c" stroke-width="0.8"/>
<line x1="347.70" y1="276.86" x2="349.30" y2="276.86" stroke="#3c3c3c" stroke-width="0.8"/>
<line x1="191.30" y1="273.53" x2="192.90" y2="273.53" stroke="#3c3c3c" stroke-width="0.8"/>
<line x1="347.70" y1="273.53" x2="349.30" y2="273.53" stroke="#3c3c3c" stroke-width="0.8"/>
<line x1="191.30" y1="270.20" x2="194.30" y2="270.20" stroke="#3c3c3c" stroke-width="0.8"/>
<line x1="346.30" y1="270.20" x2="349.30" y2="270.20" stroke="#3c3c3c" stroke-width="0.8"/>
<line x1="191.30" y1="266.87" x2="192.90" y2="266.87" stroke="#3c3c3c" stroke-width="0.8"/>
<line x1="347.70" y1="266.87" x2="349.30" y2="266.87" stroke="#3c3c3c" stroke-width="0.8"/>
<line x1="191.30" y1="263.54" x2="192.90" y2="263.54" stroke="#3c3c3c" stroke-width="0.8"/>
<line x1="347.70" y1="263.54" x2="349.30" y2="263.54" stroke="#3c3c3c" stroke-width="0.8"/>
<line x1="191.30" y1="260.21" x2="192.90" y2="260.21" stroke="#3c3c3c" stroke-width="0.8"/>
<line x1="347.70" y1="260.21" x2="349.30" y2="260.21" stroke="#3c3c3c" stroke-width="0.8"/>
<line x1="191.30" y1="256.88" x2="194.30" y2="256.88" stroke="#3c3c3c" stroke-width="0.8"/>
<line x1="346.30" y1="256.88" x2="349.30" y2="256.88" stroke="#3c3c3c" stroke-width="0.8"/>
<line x1="191.30" y1="253.55" x2="192.90" y2="253.55" stroke="#3c3c3c" stroke-width="0.8"/>
<line x1="347.70" y1="253.55" x2="349.30" y2="253.55" stroke="#3c3c3c" stroke-width="0.8"/>
<line x1="33.00" y1="0.00" x2="33.00" y2="290.00" stroke="#a6a6a6" stroke-width="1.6"/>
<line x1="349.00" y1="0.00" x2="349.00" y2="290.00" stroke="#a6a6a6" stroke-width="1.6"/>
<line x1="191.00" y1="0.00" x2="191.00" y2="290.00" stroke="#787878" stroke-width="1.7"/>
<line x1="33.00" y1="0.60" x2="349.00" y2="0.60" stroke="#a8a8a8" stroke-width="1.3"/>
<line x1="33.00" y1="126.00" x2="349.00" y2="126.00" stroke="#8a8a8a" stroke-width="1.5"/>
<line x1="33.00" y1="251.00" x2="349.00" y2="251.00" stroke="#8a8a8a" stroke-width="1.5"/>
<line x1="33.00" y1="290.00" x2="349.00" y2="290.00" stroke="#8c8c8c" stroke-width="1.6"/>
<text x="27.00" y="16.60" font-size="9.4" textLength="3.90" lengthAdjust="spacingAndGlyphs" stroke="#111" stroke-width="0.22" >1</text>
<text x="16.10" y="54.60" font-size="9.9" textLength="8.40" lengthAdjust="spacingAndGlyphs" stroke="#111" stroke-width="0.22" >10</text>
<text x="24.80" y="51.30" font-size="6.0" textLength="6.40" lengthAdjust="spacingAndGlyphs" stroke="#111" stroke-width="0.22" >-4</text>
<text x="16.10" y="92.50" font-size="9.9" textLength="8.40" lengthAdjust="spacingAndGlyphs" stroke="#111" stroke-width="0.22" >10</text>
<text x="24.80" y="89.20" font-size="6.0" textLength="6.40" lengthAdjust="spacingAndGlyphs" stroke="#111" stroke-width="0.22" >-8</text>
<text x="13.00" y="129.40" font-size="9.9" textLength="8.60" lengthAdjust="spacingAndGlyphs" stroke="#111" stroke-width="0.22" >10</text>
<text x="21.90" y="126.10" font-size="6.0" textLength="8.60" lengthAdjust="spacingAndGlyphs" stroke="#111" stroke-width="0.22" >-12</text>
<text x="16.60" y="171.70" font-size="9.4" textLength="14.20" lengthAdjust="spacingAndGlyphs" stroke="#111" stroke-width="0.22" >100</text>
<text x="21.40" y="226.60" font-size="9.4" textLength="9.40" lengthAdjust="spacingAndGlyphs" stroke="#111" stroke-width="0.22" >10</text>
<text x="25.50" y="260.20" font-size="9.4" textLength="5.00" lengthAdjust="spacingAndGlyphs" stroke="#111" stroke-width="0.22" >4</text>
<text x="26.00" y="273.20" font-size="9.4" textLength="4.50" lengthAdjust="spacingAndGlyphs" stroke="#111" stroke-width="0.22" >0</text>
<text x="23.00" y="287.40" font-size="9.4" textLength="7.50" lengthAdjust="spacingAndGlyphs" stroke="#111" stroke-width="0.22" >-4</text>
<text x="49.70" y="299.00" font-size="9.9" textLength="8.90" lengthAdjust="spacingAndGlyphs" stroke="#111" stroke-width="0.22" >10</text>
<text x="58.90" y="295.30" font-size="6.0" textLength="3.10" lengthAdjust="spacingAndGlyphs" stroke="#111" stroke-width="0.22" >2</text>
<text x="92.60" y="299.00" font-size="9.9" textLength="8.90" lengthAdjust="spacingAndGlyphs" stroke="#111" stroke-width="0.22" >10</text>
<text x="101.80" y="295.30" font-size="6.0" textLength="3.10" lengthAdjust="spacingAndGlyphs" stroke="#111" stroke-width="0.22" >4</text>
<text x="135.50" y="299.00" font-size="9.9" textLength="8.90" lengthAdjust="spacingAndGlyphs" stroke="#111" stroke-width="0.22" >10</text>
<text x="144.70" y="295.30" font-size="6.0" textLength="3.10" lengthAdjust="spacingAndGlyphs" stroke="#111" stroke-width="0.22" >6</text>
<text x="178.40" y="299.00" font-size="9.9" textLength="8.90" lengthAdjust="spacingAndGlyphs" stroke="#111" stroke-width="0.22" >10</text>
<text x="187.60" y="295.30" font-size="6.0" textLength="3.10" lengthAdjust="spacingAndGlyphs" stroke="#111" stroke-width="0.22" >8</text>
<text x="97.20" y="308.30" font-size="8.8" textLength="50.60" lengthAdjust="spacingAndGlyphs" stroke="#111" stroke-width="0.22" >Energy (keV)</text>
<text x="208.00" y="299.00" font-size="9.9" textLength="8.90" lengthAdjust="spacingAndGlyphs" stroke="#111" stroke-width="0.22" >10</text>
<text x="217.20" y="295.30" font-size="6.0" textLength="3.10" lengthAdjust="spacingAndGlyphs" stroke="#111" stroke-width="0.22" >2</text>
<text x="250.90" y="299.00" font-size="9.9" textLength="8.90" lengthAdjust="spacingAndGlyphs" stroke="#111" stroke-width="0.22" >10</text>
<text x="260.10" y="295.30" font-size="6.0" textLength="3.10" lengthAdjust="spacingAndGlyphs" stroke="#111" stroke-width="0.22" >4</text>
<text x="293.80" y="299.00" font-size="9.9" textLength="8.90" lengthAdjust="spacingAndGlyphs" stroke="#111" stroke-width="0.22" >10</text>
<text x="303.00" y="295.30" font-size="6.0" textLength="3.10" lengthAdjust="spacingAndGlyphs" stroke="#111" stroke-width="0.22" >6</text>
<text x="336.70" y="299.00" font-size="9.9" textLength="8.90" lengthAdjust="spacingAndGlyphs" stroke="#111" stroke-width="0.22" >10</text>
<text x="345.90" y="295.30" font-size="6.0" textLength="3.10" lengthAdjust="spacingAndGlyphs" stroke="#111" stroke-width="0.22" >8</text>
<text x="254.70" y="308.30" font-size="8.8" textLength="50.60" lengthAdjust="spacingAndGlyphs" stroke="#111" stroke-width="0.22" >Energy (keV)</text>
<text transform="translate(10.0,87.7) rotate(-90)" font-size="9.6" textLength="45.4" lengthAdjust="spacing" stroke="#111" stroke-width="0.22">Cnts/s/keV</text>
<text transform="translate(9.8,226.2) rotate(-90)" font-size="9.0" textLength="75" lengthAdjust="spacing" stroke="#111" stroke-width="0.22">&#957;F<tspan font-size="6" dy="2">&#957;</tspan><tspan dy="-2"> (ph/keV/cm</tspan><tspan font-size="6" dy="-3.4">2</tspan><tspan dy="3.4">/s)</tspan></text>
<text transform="translate(9.6,274.0) rotate(-90)" font-size="8.6" stroke="#111" stroke-width="0.22">&#963;</text>
<text x="37.20" y="122.60" font-size="9.3" textLength="16.20" lengthAdjust="spacingAndGlyphs" stroke="#111" stroke-width="0.22" >(a1)</text>
<text x="195.40" y="122.60" font-size="9.3" textLength="16.20" lengthAdjust="spacingAndGlyphs" stroke="#111" stroke-width="0.22" >(b1)</text>
<text x="37.00" y="247.80" font-size="9.3" textLength="16.20" lengthAdjust="spacingAndGlyphs" stroke="#111" stroke-width="0.22" >(a2)</text>
<text x="195.20" y="247.80" font-size="9.3" textLength="16.20" lengthAdjust="spacingAndGlyphs" stroke="#111" stroke-width="0.22" >(b2)</text>
<text x="37.40" y="286.30" font-size="9.3" textLength="16.20" lengthAdjust="spacingAndGlyphs" stroke="#111" stroke-width="0.22" >(a3)</text>
<text x="195.40" y="286.30" font-size="9.3" textLength="16.20" lengthAdjust="spacingAndGlyphs" stroke="#111" stroke-width="0.22" >(b3)</text>
<text x="82.10" y="146.60" font-size="11.2" textLength="24.70" lengthAdjust="spacingAndGlyphs" stroke="#111" stroke-width="0.42" >Band</text>
<text x="258.10" y="147.20" font-size="11.2" textLength="39.00" lengthAdjust="spacingAndGlyphs" stroke="#111" stroke-width="0.42" >B+BB+C</text>
<text x="266.70" y="178.80" font-size="11.2" textLength="5.80" lengthAdjust="spacingAndGlyphs" stroke="#111" stroke-width="0.42" >B</text>
<text x="212.90" y="201.70" font-size="11.2" textLength="12.70" lengthAdjust="spacingAndGlyphs" stroke="#111" stroke-width="0.42" >BB</text>
<text x="305.70" y="196.00" font-size="11.2" textLength="6.40" lengthAdjust="spacingAndGlyphs" stroke="#111" stroke-width="0.42" >C</text>
<text x="164.30" y="12.05" font-size="4.9" textLength="14.3" lengthAdjust="spacingAndGlyphs" fill="#1a1a1a">BGO 0</text>
<text x="161.80" y="17.85" font-size="4.9" textLength="16.8" lengthAdjust="spacingAndGlyphs" fill="#1a1a1a">NAI_00</text>
<text x="163.40" y="23.65" font-size="4.9" textLength="15.2" lengthAdjust="spacingAndGlyphs" fill="#1a1a1a">NAI 03</text>
<text x="163.40" y="29.45" font-size="4.9" textLength="15.2" lengthAdjust="spacingAndGlyphs" fill="#1a1a1a">NAI 04</text>
<text x="166.40" y="35.05" font-size="4.9" textLength="12.2" lengthAdjust="spacingAndGlyphs" fill="#1a1a1a">BACK</text>
<text x="157.10" y="40.75" font-size="4.9" textLength="21.5" lengthAdjust="spacingAndGlyphs" fill="#1a1a1a">LAT BACK</text>
<text x="154.30" y="46.35" font-size="4.9" textLength="24.3" lengthAdjust="spacingAndGlyphs" fill="#1a1a1a">LAT FRONT</text>
<path d="M181.5,10.3h2.2M182.6,9.200000000000001v2.2" stroke="#4f7fd4" stroke-width="0.9"/>
<circle cx="182.6" cy="16.1" r="1.2" fill="none" stroke="#f29aaa" stroke-width="0.7"/>
<rect x="181.35" y="20.65" width="2.5" height="2.5" fill="none" stroke="#7cb342" stroke-width="0.7"/>
<path d="M182.6,26.2l1.5,1.5l-1.5,1.5l-1.5,-1.5z" fill="none" stroke="#4a5fc8" stroke-width="0.7"/>
<path d="M182.6,31.9l1.4,2.5h-2.8z" fill="none" stroke="#a64cc8" stroke-width="0.7"/>
<path d="M181.5,37.9l2.2,2.2M183.7,37.9l-2.2,2.2" stroke="#e0602a" stroke-width="0.8"/>
<path d="M181.4,43.4l2.4,2.4M183.79999999999998,43.4l-2.4,2.4M181.29999999999998,44.6h2.6M182.6,43.300000000000004v2.6" stroke="#3a8a45" stroke-width="0.7"/>
</g>
</svg>
</body></html>
